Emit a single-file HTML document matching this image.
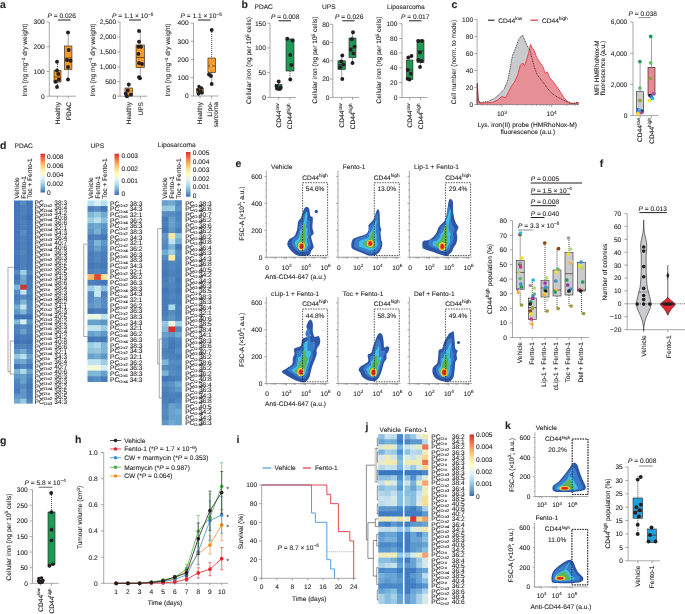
<!DOCTYPE html>
<html><head><meta charset="utf-8"><style>
html,body{margin:0;padding:0;background:#fff;width:685px;height:614px;overflow:hidden}
svg{display:block;will-change:transform}
svg{font-family:"Liberation Sans",sans-serif;font-size:6.6px;fill:#231f20}
text{stroke:#231f20;stroke-width:0.1px;text-rendering:geometricPrecision}
</style></head><body>
<svg width="685" height="614" viewBox="0 0 685 614">
<rect width="685" height="614" fill="#fff"/>
<text x="0" y="8.3" font-size="10.5" font-weight="bold">a</text>
<text x="47.5" y="18"><tspan font-style="italic">P</tspan> = 0.026</text>
<line x1="58" y1="20" x2="70.5" y2="20" stroke="#231f20" stroke-width="1.0"/>
<line x1="49.3" y1="22" x2="49.3" y2="96.2" stroke="#6d6e71" stroke-width="0.6"/>
<line x1="46.5" y1="22" x2="49.3" y2="22" stroke="#6d6e71" stroke-width="0.6"/>
<text x="44.6" y="24.45" text-anchor="end">300</text>
<line x1="46.5" y1="46.75" x2="49.3" y2="46.75" stroke="#6d6e71" stroke-width="0.6"/>
<text x="44.6" y="49.2" text-anchor="end">200</text>
<line x1="46.5" y1="71.5" x2="49.3" y2="71.5" stroke="#6d6e71" stroke-width="0.6"/>
<text x="44.6" y="73.95" text-anchor="end">100</text>
<line x1="46.5" y1="96.2" x2="49.3" y2="96.2" stroke="#6d6e71" stroke-width="0.6"/>
<text x="44.6" y="98.65" text-anchor="end">0</text>
<line x1="49.3" y1="96.2" x2="76" y2="96.2" stroke="#6d6e71" stroke-width="0.6"/>
<line x1="57.5" y1="96.2" x2="57.5" y2="98.6" stroke="#6d6e71" stroke-width="0.6"/>
<line x1="68.2" y1="96.2" x2="68.2" y2="98.6" stroke="#6d6e71" stroke-width="0.6"/>
<line x1="57.5" y1="62" x2="57.5" y2="70.5" stroke="#231f20" stroke-width="0.75" stroke-dasharray="1.1,0.9"/>
<line x1="57.5" y1="82" x2="57.5" y2="87" stroke="#231f20" stroke-width="0.75" stroke-dasharray="1.1,0.9"/>
<rect x="54" y="70.5" width="7" height="11.5" fill="#f39a2c" stroke="#231f20" stroke-width="0.6"/>
<line x1="54" y1="77" x2="61" y2="77" stroke="#231f20" stroke-width="0.6"/>
<circle cx="57" cy="87" r="1.95" fill="#231f20"/>
<circle cx="55.5" cy="81.7" r="1.95" fill="#231f20"/>
<circle cx="58.8" cy="79.5" r="1.95" fill="#231f20"/>
<circle cx="58.3" cy="74" r="1.95" fill="#231f20"/>
<circle cx="57" cy="70.5" r="1.95" fill="#231f20"/>
<circle cx="57" cy="61.7" r="1.95" fill="#231f20"/>
<line x1="68.2" y1="32.5" x2="68.2" y2="46" stroke="#231f20" stroke-width="0.75" stroke-dasharray="1.1,0.9"/>
<line x1="68.2" y1="69.5" x2="68.2" y2="79.5" stroke="#231f20" stroke-width="0.75" stroke-dasharray="1.1,0.9"/>
<rect x="64.45" y="46" width="7.5" height="23.5" fill="#f39a2c" stroke="#231f20" stroke-width="0.6"/>
<line x1="64.45" y1="58" x2="71.95" y2="58" stroke="#231f20" stroke-width="0.6"/>
<circle cx="68" cy="32.5" r="1.95" fill="#231f20"/>
<circle cx="68.7" cy="50" r="1.95" fill="#231f20"/>
<circle cx="67" cy="60" r="1.95" fill="#231f20"/>
<circle cx="70.5" cy="60.7" r="1.95" fill="#231f20"/>
<circle cx="68" cy="67" r="1.95" fill="#231f20"/>
<circle cx="68" cy="79.5" r="1.95" fill="#231f20"/>
<text x="27.3" y="60" text-anchor="middle" transform="rotate(-90 27.3 60)">Iron (ng mg<tspan dy="-2.5" font-size="4.7">−1</tspan><tspan dy="2.5"> dry weight)</tspan></text>
<text x="59.8" y="102" text-anchor="end" transform="rotate(-90 59.8 102)">Healthy</text>
<text x="70.6" y="102" text-anchor="end" transform="rotate(-90 70.6 102)">PDAC</text>
<text x="112" y="18"><tspan font-style="italic">P</tspan> = 1.1 × 10<tspan dy="-2.5" font-size="4.7">−5</tspan></text>
<line x1="129" y1="20" x2="141" y2="20" stroke="#231f20" stroke-width="1.0"/>
<line x1="120" y1="22" x2="120" y2="96.2" stroke="#6d6e71" stroke-width="0.6"/>
<line x1="117.2" y1="22" x2="120" y2="22" stroke="#6d6e71" stroke-width="0.6"/>
<text x="116.2" y="24.45" text-anchor="end">2,500</text>
<line x1="117.2" y1="37" x2="120" y2="37" stroke="#6d6e71" stroke-width="0.6"/>
<text x="116.2" y="39.45" text-anchor="end">2,000</text>
<line x1="117.2" y1="52" x2="120" y2="52" stroke="#6d6e71" stroke-width="0.6"/>
<text x="116.2" y="54.45" text-anchor="end">1,500</text>
<line x1="117.2" y1="67" x2="120" y2="67" stroke="#6d6e71" stroke-width="0.6"/>
<text x="116.2" y="69.45" text-anchor="end">1,000</text>
<line x1="117.2" y1="81.7" x2="120" y2="81.7" stroke="#6d6e71" stroke-width="0.6"/>
<text x="116.2" y="84.15" text-anchor="end">500</text>
<line x1="117.2" y1="96.2" x2="120" y2="96.2" stroke="#6d6e71" stroke-width="0.6"/>
<text x="116.2" y="98.65" text-anchor="end">0</text>
<line x1="120" y1="96.2" x2="147" y2="96.2" stroke="#6d6e71" stroke-width="0.6"/>
<line x1="128.7" y1="96.2" x2="128.7" y2="98.6" stroke="#6d6e71" stroke-width="0.6"/>
<line x1="140.3" y1="96.2" x2="140.3" y2="98.6" stroke="#6d6e71" stroke-width="0.6"/>
<line x1="128.7" y1="84" x2="128.7" y2="88" stroke="#231f20" stroke-width="0.75" stroke-dasharray="1.1,0.9"/>
<line x1="128.7" y1="96" x2="128.7" y2="96" stroke="#231f20" stroke-width="0.75" stroke-dasharray="1.1,0.9"/>
<rect x="124.95" y="88" width="7.5" height="8" fill="#f39a2c" stroke="#231f20" stroke-width="0.6"/>
<circle cx="128.8" cy="84.4" r="1.95" fill="#231f20"/>
<circle cx="127.8" cy="90.5" r="1.95" fill="#231f20"/>
<circle cx="125.7" cy="93.6" r="1.95" fill="#231f20"/>
<circle cx="130.8" cy="94.6" r="1.95" fill="#231f20"/>
<circle cx="126.8" cy="96.2" r="1.95" fill="#231f20"/>
<line x1="140.3" y1="30.5" x2="140.3" y2="45" stroke="#231f20" stroke-width="0.75" stroke-dasharray="1.1,0.9"/>
<line x1="140.3" y1="67.5" x2="140.3" y2="79" stroke="#231f20" stroke-width="0.75" stroke-dasharray="1.1,0.9"/>
<rect x="136.05" y="45" width="8.5" height="22.5" fill="#f39a2c" stroke="#231f20" stroke-width="0.6"/>
<line x1="136.05" y1="57.5" x2="144.55" y2="57.5" stroke="#231f20" stroke-width="0.6"/>
<circle cx="139" cy="31" r="1.95" fill="#231f20"/>
<circle cx="139" cy="41.7" r="1.95" fill="#231f20"/>
<circle cx="138.4" cy="46.8" r="1.95" fill="#231f20"/>
<circle cx="141" cy="46.8" r="1.95" fill="#231f20"/>
<circle cx="138.4" cy="53.9" r="1.95" fill="#231f20"/>
<circle cx="139" cy="63" r="1.95" fill="#231f20"/>
<circle cx="142" cy="64" r="1.95" fill="#231f20"/>
<circle cx="139" cy="77.3" r="1.95" fill="#231f20"/>
<circle cx="140" cy="78.3" r="1.95" fill="#231f20"/>
<text x="94.6" y="60" text-anchor="middle" transform="rotate(-90 94.6 60)">Iron (ng mg<tspan dy="-2.5" font-size="4.7">−1</tspan><tspan dy="2.5"> dry weight)</tspan></text>
<text x="130.9" y="102" text-anchor="end" transform="rotate(-90 130.9 102)">Healthy</text>
<text x="142.6" y="102" text-anchor="end" transform="rotate(-90 142.6 102)">UPS</text>
<text x="180.5" y="18"><tspan font-style="italic">P</tspan> = 1.1 × 10<tspan dy="-2.5" font-size="4.7">−5</tspan></text>
<line x1="198" y1="20" x2="210.5" y2="20" stroke="#231f20" stroke-width="1.0"/>
<line x1="193.5" y1="23" x2="193.5" y2="96" stroke="#6d6e71" stroke-width="0.6"/>
<line x1="190.7" y1="23" x2="193.5" y2="23" stroke="#6d6e71" stroke-width="0.6"/>
<text x="188.6" y="25.45" text-anchor="end">400</text>
<line x1="190.7" y1="41.2" x2="193.5" y2="41.2" stroke="#6d6e71" stroke-width="0.6"/>
<text x="188.6" y="43.65" text-anchor="end">300</text>
<line x1="190.7" y1="59.5" x2="193.5" y2="59.5" stroke="#6d6e71" stroke-width="0.6"/>
<text x="188.6" y="61.95" text-anchor="end">200</text>
<line x1="190.7" y1="77.7" x2="193.5" y2="77.7" stroke="#6d6e71" stroke-width="0.6"/>
<text x="188.6" y="80.15" text-anchor="end">100</text>
<line x1="190.7" y1="96" x2="193.5" y2="96" stroke="#6d6e71" stroke-width="0.6"/>
<text x="188.6" y="98.45" text-anchor="end">0</text>
<line x1="193.5" y1="96" x2="218.5" y2="96" stroke="#6d6e71" stroke-width="0.6"/>
<line x1="200" y1="96" x2="200" y2="98.4" stroke="#6d6e71" stroke-width="0.6"/>
<line x1="211.7" y1="96" x2="211.7" y2="98.4" stroke="#6d6e71" stroke-width="0.6"/>
<line x1="200" y1="86" x2="200" y2="88.5" stroke="#231f20" stroke-width="0.75" stroke-dasharray="1.1,0.9"/>
<line x1="200" y1="93.5" x2="200" y2="94.5" stroke="#231f20" stroke-width="0.75" stroke-dasharray="1.1,0.9"/>
<rect x="196.75" y="88.5" width="6.5" height="5" fill="#f39a2c" stroke="#231f20" stroke-width="0.6"/>
<circle cx="199" cy="86.5" r="1.7" fill="#231f20"/>
<circle cx="201.5" cy="88" r="1.7" fill="#231f20"/>
<circle cx="198" cy="90" r="1.7" fill="#231f20"/>
<circle cx="201" cy="91" r="1.7" fill="#231f20"/>
<circle cx="199.5" cy="92.5" r="1.7" fill="#231f20"/>
<circle cx="202" cy="93" r="1.7" fill="#231f20"/>
<circle cx="198.5" cy="94" r="1.7" fill="#231f20"/>
<line x1="211.7" y1="30" x2="211.7" y2="58" stroke="#231f20" stroke-width="0.75" stroke-dasharray="1.1,0.9"/>
<line x1="211.7" y1="72.5" x2="211.7" y2="84" stroke="#231f20" stroke-width="0.75" stroke-dasharray="1.1,0.9"/>
<rect x="207.95" y="58" width="7.5" height="14.5" fill="#f39a2c" stroke="#231f20" stroke-width="0.6"/>
<line x1="207.95" y1="66" x2="215.45" y2="66" stroke="#231f20" stroke-width="0.6"/>
<circle cx="211.7" cy="30" r="1.95" fill="#231f20"/>
<circle cx="211" cy="76" r="1.95" fill="#231f20"/>
<circle cx="211.7" cy="84" r="1.95" fill="#231f20"/>
<circle cx="209" cy="74.5" r="1.95" fill="#231f20"/>
<circle cx="210" cy="60" r="1.2" fill="#f7a841"/>
<circle cx="213" cy="63" r="1.2" fill="#f7a841"/>
<circle cx="211" cy="66" r="1.2" fill="#f7a841"/>
<circle cx="213.5" cy="68.5" r="1.2" fill="#f7a841"/>
<circle cx="209.5" cy="70" r="1.2" fill="#f7a841"/>
<text x="170.2" y="60" text-anchor="middle" transform="rotate(-90 170.2 60)">Iron (ng mg<tspan dy="-2.5" font-size="4.7">−1</tspan><tspan dy="2.5"> dry weight)</tspan></text>
<text x="202.2" y="102" text-anchor="end" transform="rotate(-90 202.2 102)">Healthy</text>
<text x="211.5" y="102" text-anchor="end" transform="rotate(-90 211.5 102)">Lipo-</text>
<text x="217.8" y="102" text-anchor="end" transform="rotate(-90 217.8 102)">sarcoma</text>
<text x="241.5" y="8.3" font-size="10.5" font-weight="bold">b</text>
<text x="254.5" y="9">PDAC</text>
<text x="271" y="19"><tspan font-style="italic">P</tspan> = 0.008</text>
<line x1="278.5" y1="20.8" x2="291" y2="20.8" stroke="#231f20" stroke-width="1.0"/>
<line x1="270" y1="23.2" x2="270" y2="97.5" stroke="#6d6e71" stroke-width="0.6"/>
<line x1="267.2" y1="23.2" x2="270" y2="23.2" stroke="#6d6e71" stroke-width="0.6"/>
<text x="265.9" y="25.65" text-anchor="end">150</text>
<line x1="267.2" y1="48" x2="270" y2="48" stroke="#6d6e71" stroke-width="0.6"/>
<text x="265.9" y="50.45" text-anchor="end">100</text>
<line x1="267.2" y1="72.7" x2="270" y2="72.7" stroke="#6d6e71" stroke-width="0.6"/>
<text x="265.9" y="75.15" text-anchor="end">50</text>
<line x1="267.2" y1="97.5" x2="270" y2="97.5" stroke="#6d6e71" stroke-width="0.6"/>
<text x="265.9" y="99.95" text-anchor="end">0</text>
<line x1="270" y1="97.5" x2="296" y2="97.5" stroke="#6d6e71" stroke-width="0.6"/>
<line x1="278.7" y1="97.5" x2="278.7" y2="99.9" stroke="#6d6e71" stroke-width="0.6"/>
<line x1="290" y1="97.5" x2="290" y2="99.9" stroke="#6d6e71" stroke-width="0.6"/>
<line x1="278.7" y1="81" x2="278.7" y2="84.5" stroke="#231f20" stroke-width="0.75" stroke-dasharray="1.1,0.9"/>
<line x1="278.7" y1="89.5" x2="278.7" y2="89.5" stroke="#231f20" stroke-width="0.75" stroke-dasharray="1.1,0.9"/>
<rect x="275.45" y="84.5" width="6.5" height="5" fill="#1e9a55" stroke="#231f20" stroke-width="0.6"/>
<circle cx="278.7" cy="81.5" r="1.95" fill="#231f20"/>
<circle cx="276.5" cy="86" r="1.95" fill="#231f20"/>
<circle cx="280.5" cy="87.5" r="1.95" fill="#231f20"/>
<circle cx="277.5" cy="88.7" r="1.95" fill="#231f20"/>
<circle cx="279.7" cy="89" r="1.95" fill="#231f20"/>
<line x1="290" y1="38.7" x2="290" y2="39" stroke="#231f20" stroke-width="0.75" stroke-dasharray="1.1,0.9"/>
<line x1="290" y1="71" x2="290" y2="79.5" stroke="#231f20" stroke-width="0.75" stroke-dasharray="1.1,0.9"/>
<rect x="286" y="39" width="8" height="32" fill="#1e9a55" stroke="#231f20" stroke-width="0.6"/>
<circle cx="287.3" cy="38.7" r="1.95" fill="#231f20"/>
<circle cx="292.5" cy="40.5" r="1.95" fill="#231f20"/>
<circle cx="290.3" cy="55" r="1.95" fill="#231f20"/>
<circle cx="291.3" cy="65" r="1.95" fill="#231f20"/>
<circle cx="290.3" cy="79.5" r="1.95" fill="#231f20"/>
<text x="251.3" y="60.5" text-anchor="middle" transform="rotate(-90 251.3 60.5)">Cellular iron (ng per 10<tspan dy="-2.5" font-size="4.7">5</tspan><tspan dy="2.5"> cells)</tspan></text>
<text x="281" y="103.5" text-anchor="end" transform="rotate(-90 281 103.5)">CD44<tspan dy="-2.5" font-size="4.7">low</tspan></text>
<text x="292.3" y="103.5" text-anchor="end" transform="rotate(-90 292.3 103.5)">CD44<tspan dy="-2.5" font-size="4.7">high</tspan></text>
<text x="322" y="9">UPS</text>
<text x="335" y="18.8"><tspan font-style="italic">P</tspan> = 0.026</text>
<line x1="342.3" y1="20.8" x2="354.6" y2="20.8" stroke="#231f20" stroke-width="1.0"/>
<line x1="332.8" y1="24.3" x2="332.8" y2="97.4" stroke="#6d6e71" stroke-width="0.6"/>
<line x1="330" y1="24.3" x2="332.8" y2="24.3" stroke="#6d6e71" stroke-width="0.6"/>
<text x="329.5" y="26.75" text-anchor="end">80</text>
<line x1="330" y1="42.5" x2="332.8" y2="42.5" stroke="#6d6e71" stroke-width="0.6"/>
<text x="329.5" y="44.95" text-anchor="end">60</text>
<line x1="330" y1="60.8" x2="332.8" y2="60.8" stroke="#6d6e71" stroke-width="0.6"/>
<text x="329.5" y="63.25" text-anchor="end">40</text>
<line x1="330" y1="79" x2="332.8" y2="79" stroke="#6d6e71" stroke-width="0.6"/>
<text x="329.5" y="81.45" text-anchor="end">20</text>
<line x1="330" y1="97.4" x2="332.8" y2="97.4" stroke="#6d6e71" stroke-width="0.6"/>
<text x="329.5" y="99.85" text-anchor="end">0</text>
<line x1="332.8" y1="97.4" x2="359.3" y2="97.4" stroke="#6d6e71" stroke-width="0.6"/>
<line x1="341.7" y1="97.4" x2="341.7" y2="99.8" stroke="#6d6e71" stroke-width="0.6"/>
<line x1="352.5" y1="97.4" x2="352.5" y2="99.8" stroke="#6d6e71" stroke-width="0.6"/>
<line x1="341.7" y1="55.5" x2="341.7" y2="60.8" stroke="#231f20" stroke-width="0.75" stroke-dasharray="1.1,0.9"/>
<line x1="341.7" y1="69.4" x2="341.7" y2="79" stroke="#231f20" stroke-width="0.75" stroke-dasharray="1.1,0.9"/>
<rect x="337.95" y="60.8" width="7.5" height="8.6" fill="#1e9a55" stroke="#231f20" stroke-width="0.6"/>
<line x1="337.95" y1="64.5" x2="345.45" y2="64.5" stroke="#231f20" stroke-width="0.6"/>
<circle cx="342.3" cy="55.5" r="1.95" fill="#231f20"/>
<circle cx="341.3" cy="61.4" r="1.95" fill="#231f20"/>
<circle cx="343.4" cy="64.6" r="1.95" fill="#231f20"/>
<circle cx="340.2" cy="67.3" r="1.95" fill="#231f20"/>
<circle cx="342.3" cy="79" r="1.95" fill="#231f20"/>
<line x1="352.5" y1="32.2" x2="352.5" y2="38" stroke="#231f20" stroke-width="0.75" stroke-dasharray="1.1,0.9"/>
<line x1="352.5" y1="57.6" x2="352.5" y2="63" stroke="#231f20" stroke-width="0.75" stroke-dasharray="1.1,0.9"/>
<rect x="349" y="38" width="7" height="19.6" fill="#1e9a55" stroke="#231f20" stroke-width="0.6"/>
<line x1="349" y1="48" x2="356" y2="48" stroke="#231f20" stroke-width="0.6"/>
<circle cx="353" cy="32.2" r="1.95" fill="#231f20"/>
<circle cx="351.9" cy="39.2" r="1.95" fill="#231f20"/>
<circle cx="354.6" cy="46.6" r="1.95" fill="#231f20"/>
<circle cx="350.8" cy="49.8" r="1.95" fill="#231f20"/>
<circle cx="353.4" cy="53.4" r="1.95" fill="#231f20"/>
<circle cx="352.5" cy="63" r="1.95" fill="#231f20"/>
<text x="317.2" y="60" text-anchor="middle" transform="rotate(-90 317.2 60)">Cellular iron (ng per 10<tspan dy="-2.5" font-size="4.7">5</tspan><tspan dy="2.5"> cells)</tspan></text>
<text x="344" y="103.5" text-anchor="end" transform="rotate(-90 344 103.5)">CD44<tspan dy="-2.5" font-size="4.7">low</tspan></text>
<text x="354.8" y="103.5" text-anchor="end" transform="rotate(-90 354.8 103.5)">CD44<tspan dy="-2.5" font-size="4.7">high</tspan></text>
<text x="387" y="9.3">Liposarcoma</text>
<text x="401" y="19"><tspan font-style="italic">P</tspan> = 0.017</text>
<line x1="409" y1="20.8" x2="421.5" y2="20.8" stroke="#231f20" stroke-width="1.0"/>
<line x1="402" y1="23.7" x2="402" y2="97.5" stroke="#6d6e71" stroke-width="0.6"/>
<line x1="399.2" y1="23.7" x2="402" y2="23.7" stroke="#6d6e71" stroke-width="0.6"/>
<text x="397.4" y="26.15" text-anchor="end">100</text>
<line x1="399.2" y1="38.5" x2="402" y2="38.5" stroke="#6d6e71" stroke-width="0.6"/>
<text x="397.4" y="40.95" text-anchor="end">80</text>
<line x1="399.2" y1="53" x2="402" y2="53" stroke="#6d6e71" stroke-width="0.6"/>
<text x="397.4" y="55.45" text-anchor="end">60</text>
<line x1="399.2" y1="67.7" x2="402" y2="67.7" stroke="#6d6e71" stroke-width="0.6"/>
<text x="397.4" y="70.15" text-anchor="end">40</text>
<line x1="399.2" y1="82.5" x2="402" y2="82.5" stroke="#6d6e71" stroke-width="0.6"/>
<text x="397.4" y="84.95" text-anchor="end">20</text>
<line x1="399.2" y1="97.5" x2="402" y2="97.5" stroke="#6d6e71" stroke-width="0.6"/>
<text x="397.4" y="99.95" text-anchor="end">0</text>
<line x1="402" y1="97.5" x2="427.5" y2="97.5" stroke="#6d6e71" stroke-width="0.6"/>
<line x1="409.7" y1="97.5" x2="409.7" y2="99.9" stroke="#6d6e71" stroke-width="0.6"/>
<line x1="420.5" y1="97.5" x2="420.5" y2="99.9" stroke="#6d6e71" stroke-width="0.6"/>
<line x1="409.7" y1="56" x2="409.7" y2="60" stroke="#231f20" stroke-width="0.75" stroke-dasharray="1.1,0.9"/>
<line x1="409.7" y1="79.5" x2="409.7" y2="79.5" stroke="#231f20" stroke-width="0.75" stroke-dasharray="1.1,0.9"/>
<rect x="406.45" y="60" width="6.5" height="19.5" fill="#1e9a55" stroke="#231f20" stroke-width="0.6"/>
<line x1="406.45" y1="70" x2="412.95" y2="70" stroke="#231f20" stroke-width="0.6"/>
<circle cx="408.3" cy="57.5" r="1.95" fill="#231f20"/>
<circle cx="411.5" cy="56" r="1.95" fill="#231f20"/>
<circle cx="407.7" cy="70" r="1.95" fill="#231f20"/>
<circle cx="410.8" cy="73.7" r="1.95" fill="#231f20"/>
<circle cx="409.5" cy="79.5" r="1.95" fill="#231f20"/>
<circle cx="407.7" cy="78.7" r="1.95" fill="#231f20"/>
<line x1="420.5" y1="40" x2="420.5" y2="40" stroke="#231f20" stroke-width="0.75" stroke-dasharray="1.1,0.9"/>
<line x1="420.5" y1="62.5" x2="420.5" y2="67" stroke="#231f20" stroke-width="0.75" stroke-dasharray="1.1,0.9"/>
<rect x="417" y="40" width="7" height="22.5" fill="#1e9a55" stroke="#231f20" stroke-width="0.6"/>
<line x1="417" y1="51" x2="424" y2="51" stroke="#231f20" stroke-width="0.6"/>
<circle cx="418.3" cy="41" r="1.95" fill="#231f20"/>
<circle cx="422" cy="41" r="1.95" fill="#231f20"/>
<circle cx="420" cy="52.5" r="1.95" fill="#231f20"/>
<circle cx="418.3" cy="60" r="1.95" fill="#231f20"/>
<circle cx="421.5" cy="61" r="1.95" fill="#231f20"/>
<circle cx="420" cy="67" r="1.95" fill="#231f20"/>
<text x="381.4" y="60" text-anchor="middle" transform="rotate(-90 381.4 60)">Cellular iron (ng per 10<tspan dy="-2.5" font-size="4.7">5</tspan><tspan dy="2.5"> cells)</tspan></text>
<text x="412" y="103.5" text-anchor="end" transform="rotate(-90 412 103.5)">CD44<tspan dy="-2.5" font-size="4.7">low</tspan></text>
<text x="422.8" y="103.5" text-anchor="end" transform="rotate(-90 422.8 103.5)">CD44<tspan dy="-2.5" font-size="4.7">high</tspan></text>
<text x="451.5" y="8.3" font-size="10.5" font-weight="bold">c</text>
<path d="M477.1,104.64 L477.31,83.05 L478.16,98.93 L479.64,102.53 L488.11,101.47 L495.52,97.87 L499.76,93.63 L503.99,89.4 L507.59,80.93 L510.34,67.17 L512.46,55.52 L515.64,48.11 L518.81,39.22 L520.93,36.47 L522.41,34.98 L524.11,38.58 L525.8,42.82 L527.92,47.05 L530.03,50.23 L532.15,58.7 L534.27,67.17 L537.23,74.58 L541.04,79.87 L544.22,83.68 L547.4,88.34 L551.63,93 L556.92,96.81 L563.28,99.99 L569.63,103.16 L574.92,103.16 L578.1,102.53 L578.1,104.64 Z" fill="#c9cbce"/>
<path d="M477.1,104.64 L477.31,84.11 L478.16,99.99 L479.64,103.16 L492.35,102.53 L497.64,99.99 L501.87,96.39 L505.47,97.87 L508.23,92.57 L511.4,86.22 L514.58,81.99 L517.75,74.58 L520.29,65.47 L522.41,62.93 L524.53,65.47 L526.65,59.76 L528.76,52.35 L530.46,44.3 L532.15,47.69 L534.27,50.65 L536.81,57.64 L539.99,62.51 L543.16,67.17 L545.28,73.52 L547.4,71.83 L549.51,77.33 L551.63,79.87 L554.17,83.05 L556.92,86.65 L560.1,91.52 L563.28,96.81 L566.87,101.04 L571.74,103.58 L575.98,103.16 L578.1,102.31 L578.1,104.64 Z" fill="#e98a91" fill-opacity="0.92"/>
<path d="M477.1,104.64 L477.31,84.11 L478.16,99.99 L479.64,103.16 L492.35,102.53 L497.64,99.99 L501.87,96.39 L505.47,97.87 L508.23,92.57 L511.4,86.22 L514.58,81.99 L517.75,74.58 L520.29,65.47 L522.41,62.93 L524.53,65.47 L526.65,59.76 L528.76,52.35 L530.46,44.3 L532.15,47.69 L534.27,50.65 L536.81,57.64 L539.99,62.51 L543.16,67.17 L545.28,73.52 L547.4,71.83 L549.51,77.33 L551.63,79.87 L554.17,83.05 L556.92,86.65 L560.1,91.52 L563.28,96.81 L566.87,101.04 L571.74,103.58 L575.98,103.16 L578.1,102.31 L578.1,104.64" fill="none" stroke="#e5252f" stroke-width="0.75"/>
<path d="M477.1,104.64 L477.31,83.05 L478.16,98.93 L479.64,102.53 L488.11,101.47 L495.52,97.87 L499.76,93.63 L503.99,89.4 L507.59,80.93 L510.34,67.17 L512.46,55.52 L515.64,48.11 L518.81,39.22 L520.93,36.47 L522.41,34.98 L524.11,38.58 L525.8,42.82 L527.92,47.05 L530.03,50.23 L532.15,58.7 L534.27,67.17 L537.23,74.58 L541.04,79.87 L544.22,83.68 L547.4,88.34 L551.63,93 L556.92,96.81 L563.28,99.99 L569.63,103.16 L574.92,103.16 L578.1,102.53 L578.1,104.64" fill="none" stroke="#231f20" stroke-width="0.85" stroke-dasharray="1,0.8"/>
<line x1="477.1" y1="19.5" x2="477.1" y2="104.6" stroke="#6d6e71" stroke-width="0.6"/>
<line x1="474.3" y1="19.5" x2="477.1" y2="19.5" stroke="#6d6e71" stroke-width="0.6"/>
<text x="473.1" y="21.95" text-anchor="end">100</text>
<line x1="474.3" y1="36.5" x2="477.1" y2="36.5" stroke="#6d6e71" stroke-width="0.6"/>
<text x="473.1" y="38.95" text-anchor="end">80</text>
<line x1="474.3" y1="53.5" x2="477.1" y2="53.5" stroke="#6d6e71" stroke-width="0.6"/>
<text x="473.1" y="55.95" text-anchor="end">60</text>
<line x1="474.3" y1="70.6" x2="477.1" y2="70.6" stroke="#6d6e71" stroke-width="0.6"/>
<text x="473.1" y="73.05" text-anchor="end">40</text>
<line x1="474.3" y1="87.6" x2="477.1" y2="87.6" stroke="#6d6e71" stroke-width="0.6"/>
<text x="473.1" y="90.05" text-anchor="end">20</text>
<line x1="474.3" y1="104.6" x2="477.1" y2="104.6" stroke="#6d6e71" stroke-width="0.6"/>
<text x="473.1" y="107.05" text-anchor="end">0</text>
<line x1="477.1" y1="104.6" x2="578.1" y2="104.6" stroke="#6d6e71" stroke-width="0.6"/>
<line x1="482.12" y1="104.6" x2="482.12" y2="105.8" stroke="#6d6e71" stroke-width="0.6"/>
<line x1="486.94" y1="104.6" x2="486.94" y2="105.8" stroke="#6d6e71" stroke-width="0.6"/>
<line x1="490.87" y1="104.6" x2="490.87" y2="105.8" stroke="#6d6e71" stroke-width="0.6"/>
<line x1="494.2" y1="104.6" x2="494.2" y2="105.8" stroke="#6d6e71" stroke-width="0.6"/>
<line x1="497.08" y1="104.6" x2="497.08" y2="105.8" stroke="#6d6e71" stroke-width="0.6"/>
<line x1="499.63" y1="104.6" x2="499.63" y2="105.8" stroke="#6d6e71" stroke-width="0.6"/>
<line x1="501.9" y1="104.6" x2="501.9" y2="106.8" stroke="#6d6e71" stroke-width="0.6"/>
<line x1="516.86" y1="104.6" x2="516.86" y2="105.8" stroke="#6d6e71" stroke-width="0.6"/>
<line x1="525.61" y1="104.6" x2="525.61" y2="105.8" stroke="#6d6e71" stroke-width="0.6"/>
<line x1="531.82" y1="104.6" x2="531.82" y2="105.8" stroke="#6d6e71" stroke-width="0.6"/>
<line x1="536.64" y1="104.6" x2="536.64" y2="105.8" stroke="#6d6e71" stroke-width="0.6"/>
<line x1="540.57" y1="104.6" x2="540.57" y2="105.8" stroke="#6d6e71" stroke-width="0.6"/>
<line x1="543.9" y1="104.6" x2="543.9" y2="105.8" stroke="#6d6e71" stroke-width="0.6"/>
<line x1="546.78" y1="104.6" x2="546.78" y2="105.8" stroke="#6d6e71" stroke-width="0.6"/>
<line x1="549.33" y1="104.6" x2="549.33" y2="105.8" stroke="#6d6e71" stroke-width="0.6"/>
<line x1="551.6" y1="104.6" x2="551.6" y2="106.8" stroke="#6d6e71" stroke-width="0.6"/>
<line x1="566.56" y1="104.6" x2="566.56" y2="105.8" stroke="#6d6e71" stroke-width="0.6"/>
<line x1="575.31" y1="104.6" x2="575.31" y2="105.8" stroke="#6d6e71" stroke-width="0.6"/>
<text x="501.9" y="116" text-anchor="middle">10<tspan dy="-2.5" font-size="4.7">3</tspan></text>
<text x="551.6" y="116" text-anchor="middle">10<tspan dy="-2.5" font-size="4.7">4</tspan></text>
<text x="456.4" y="62" text-anchor="middle" transform="rotate(-90 456.4 62)">Cell number (norm. to mode)</text>
<text x="527.3" y="127" text-anchor="middle">Lys. iron(II) probe (HMRhoNox-M)</text>
<text x="527.8" y="133.6" text-anchor="middle">fluorescence (a.u.)</text>
<line x1="488" y1="20.2" x2="494.5" y2="20.2" stroke="#231f20" stroke-width="1.1"/>
<text x="498.3" y="22.6">CD44<tspan dy="-2.5" font-size="4.7">low</tspan></text>
<line x1="530.5" y1="20.2" x2="538" y2="20.2" stroke="#e5252f" stroke-width="1.1"/>
<text x="542" y="22.6">CD44<tspan dy="-2.5" font-size="4.7">high</tspan></text>
<text x="628.6" y="15.6"><tspan font-style="italic">P</tspan> = 0.038</text>
<line x1="638.6" y1="17.6" x2="651" y2="17.6" stroke="#6d6e71" stroke-width="0.8"/>
<line x1="633" y1="22" x2="633" y2="115.6" stroke="#6d6e71" stroke-width="0.6"/>
<line x1="630.2" y1="22" x2="633" y2="22" stroke="#6d6e71" stroke-width="0.6"/>
<text x="627.3" y="24.45" text-anchor="end">6,000</text>
<line x1="630.2" y1="53.3" x2="633" y2="53.3" stroke="#6d6e71" stroke-width="0.6"/>
<text x="627.3" y="55.75" text-anchor="end">4,000</text>
<line x1="630.2" y1="84.4" x2="633" y2="84.4" stroke="#6d6e71" stroke-width="0.6"/>
<text x="627.3" y="86.85" text-anchor="end">2,000</text>
<line x1="630.2" y1="115.6" x2="633" y2="115.6" stroke="#6d6e71" stroke-width="0.6"/>
<text x="627.3" y="118.05" text-anchor="end">0</text>
<line x1="633" y1="115.6" x2="658.7" y2="115.6" stroke="#6d6e71" stroke-width="0.6"/>
<line x1="640.1" y1="115.6" x2="640.1" y2="118" stroke="#6d6e71" stroke-width="0.6"/>
<line x1="651.5" y1="115.6" x2="651.5" y2="118" stroke="#6d6e71" stroke-width="0.6"/>
<line x1="640.1" y1="61.5" x2="640.1" y2="91.7" stroke="#231f20" stroke-width="0.75" stroke-dasharray="1.1,0.9"/>
<line x1="640.1" y1="113" x2="640.1" y2="113" stroke="#231f20" stroke-width="0.75" stroke-dasharray="1.1,0.9"/>
<rect x="636.6" y="91.7" width="7" height="21.3" fill="#c9cbce" stroke="#231f20" stroke-width="0.6"/>
<line x1="651.5" y1="36.4" x2="651.5" y2="67.3" stroke="#231f20" stroke-width="0.75" stroke-dasharray="1.1,0.9"/>
<line x1="651.5" y1="95" x2="651.5" y2="95" stroke="#231f20" stroke-width="0.75" stroke-dasharray="1.1,0.9"/>
<rect x="648" y="67.3" width="7" height="27.7" fill="#e98a91" stroke="#231f20" stroke-width="0.6"/>
<circle cx="639.9" cy="61.6" r="1.85" fill="#1e9a55"/>
<circle cx="639.9" cy="88" r="1.85" fill="#66bb6a"/>
<circle cx="639.9" cy="100.5" r="1.85" fill="#9c9c3c"/>
<circle cx="641.5" cy="111" r="1.85" fill="#231f20"/>
<circle cx="637.9" cy="109.8" r="1.85" fill="#3b5bc8"/>
<circle cx="639.5" cy="110" r="1.85" fill="#29b6e8"/>
<circle cx="641.1" cy="112.6" r="1.85" fill="#9b4fb0"/>
<circle cx="637.9" cy="113.6" r="1.85" fill="#f2e21c"/>
<circle cx="650.7" cy="36.4" r="1.85" fill="#1e9a55"/>
<circle cx="650.7" cy="62.8" r="1.85" fill="#66bb6a"/>
<circle cx="650.7" cy="78.4" r="1.85" fill="#9c9c3c"/>
<circle cx="650" cy="95.5" r="1.85" fill="#231f20"/>
<circle cx="651.2" cy="96.7" r="1.85" fill="#3b5bc8"/>
<circle cx="653.7" cy="93.5" r="1.85" fill="#9b4fb0"/>
<circle cx="652.5" cy="98.5" r="1.85" fill="#29b6e8"/>
<circle cx="649.2" cy="100.5" r="1.85" fill="#f2e21c"/>
<text x="598.6" y="68" text-anchor="middle" transform="rotate(-90 598.6 68)">MFI HMRhoNox-M</text>
<text x="604.8" y="68" text-anchor="middle" transform="rotate(-90 604.8 68)">fluorescence (a.u.)</text>
<text x="642.4" y="118" text-anchor="end" transform="rotate(-90 642.4 118)">CD44<tspan dy="-2.5" font-size="4.7">low</tspan></text>
<text x="653.8" y="118" text-anchor="end" transform="rotate(-90 653.8 118)">CD44<tspan dy="-2.5" font-size="4.7">high</tspan></text>
<text x="0" y="148.6" font-size="10.5" font-weight="bold">d</text>
<text x="14.5" y="147.6">PDAC</text>
<text x="90.5" y="147.6">UPS</text>
<text x="157.8" y="147.4">Liposarcoma</text>
<defs><linearGradient id="cb40" x1="0" y1="1" x2="0" y2="0"><stop offset="0" stop-color="#3c6cb2"/><stop offset="0.125" stop-color="#74add1"/><stop offset="0.25" stop-color="#abd9e9"/><stop offset="0.375" stop-color="#e0f3f8"/><stop offset="0.5" stop-color="#ffffbf"/><stop offset="0.625" stop-color="#fee090"/><stop offset="0.75" stop-color="#fdae61"/><stop offset="0.875" stop-color="#f46d43"/><stop offset="1.0" stop-color="#d73027"/></linearGradient></defs>
<rect x="40.5" y="153.7" width="4.5" height="38.8" fill="url(#cb40)"/>
<text x="47" y="159.3">0.008</text>
<text x="47" y="168">0.006</text>
<text x="47" y="176.8">0.004</text>
<text x="47" y="186">0.002</text>
<text x="47" y="194.8">0</text>
<text x="19.5" y="198.7" transform="rotate(-90 19.5 198.7)">Vehicle</text>
<text x="25.77" y="198.7" transform="rotate(-90 25.77 198.7)">Fento-1</text>
<text x="32.04" y="198.7" transform="rotate(-90 32.04 198.7)">Toc + Fento-1</text>
<rect x="14" y="200.5" width="6.87" height="5.55" fill="#4576b7"/>
<rect x="20.27" y="200.5" width="6.87" height="5.55" fill="#578bc1"/>
<rect x="26.54" y="200.5" width="6.27" height="5.55" fill="#4576b7"/>
<rect x="14" y="205.45" width="6.87" height="5.55" fill="#4576b7"/>
<rect x="20.27" y="205.45" width="6.87" height="5.55" fill="#4e81bc"/>
<rect x="26.54" y="205.45" width="6.27" height="5.55" fill="#4576b7"/>
<rect x="14" y="210.41" width="6.87" height="5.55" fill="#4576b7"/>
<rect x="20.27" y="210.41" width="6.87" height="5.55" fill="#4e81bc"/>
<rect x="26.54" y="210.41" width="6.27" height="5.55" fill="#4576b7"/>
<rect x="14" y="215.36" width="6.87" height="5.55" fill="#4576b7"/>
<rect x="20.27" y="215.36" width="6.87" height="5.55" fill="#497cb9"/>
<rect x="26.54" y="215.36" width="6.27" height="5.55" fill="#4071b4"/>
<rect x="14" y="220.31" width="6.87" height="5.55" fill="#4576b7"/>
<rect x="20.27" y="220.31" width="6.87" height="5.55" fill="#4e81bc"/>
<rect x="26.54" y="220.31" width="6.27" height="5.55" fill="#4576b7"/>
<rect x="14" y="225.27" width="6.87" height="5.55" fill="#4576b7"/>
<rect x="20.27" y="225.27" width="6.87" height="5.55" fill="#4e81bc"/>
<rect x="26.54" y="225.27" width="6.27" height="5.55" fill="#4576b7"/>
<rect x="14" y="230.22" width="6.87" height="5.55" fill="#4576b7"/>
<rect x="20.27" y="230.22" width="6.87" height="5.55" fill="#578bc1"/>
<rect x="26.54" y="230.22" width="6.27" height="5.55" fill="#4576b7"/>
<rect x="14" y="235.18" width="6.87" height="5.55" fill="#4576b7"/>
<rect x="20.27" y="235.18" width="6.87" height="5.55" fill="#4e81bc"/>
<rect x="26.54" y="235.18" width="6.27" height="5.55" fill="#4576b7"/>
<rect x="14" y="240.13" width="6.87" height="5.55" fill="#4576b7"/>
<rect x="20.27" y="240.13" width="6.87" height="5.55" fill="#4e81bc"/>
<rect x="26.54" y="240.13" width="6.27" height="5.55" fill="#4576b7"/>
<rect x="14" y="245.08" width="6.87" height="5.55" fill="#4576b7"/>
<rect x="20.27" y="245.08" width="6.87" height="5.55" fill="#4e81bc"/>
<rect x="26.54" y="245.08" width="6.27" height="5.55" fill="#4576b7"/>
<rect x="14" y="250.04" width="6.87" height="5.55" fill="#497cb9"/>
<rect x="20.27" y="250.04" width="6.87" height="5.55" fill="#5286be"/>
<rect x="26.54" y="250.04" width="6.27" height="5.55" fill="#4576b7"/>
<rect x="14" y="254.99" width="6.87" height="5.55" fill="#4576b7"/>
<rect x="20.27" y="254.99" width="6.87" height="5.55" fill="#4e81bc"/>
<rect x="26.54" y="254.99" width="6.27" height="5.55" fill="#4576b7"/>
<rect x="14" y="259.94" width="6.87" height="5.55" fill="#4576b7"/>
<rect x="20.27" y="259.94" width="6.87" height="5.55" fill="#4e81bc"/>
<rect x="26.54" y="259.94" width="6.27" height="5.55" fill="#4576b7"/>
<rect x="14" y="264.9" width="6.87" height="5.55" fill="#4576b7"/>
<rect x="20.27" y="264.9" width="6.87" height="5.55" fill="#4e81bc"/>
<rect x="26.54" y="264.9" width="6.27" height="5.55" fill="#4576b7"/>
<rect x="14" y="269.85" width="6.87" height="5.55" fill="#578bc1"/>
<rect x="20.27" y="269.85" width="6.87" height="5.55" fill="#9ecee3"/>
<rect x="26.54" y="269.85" width="6.27" height="5.55" fill="#5286be"/>
<rect x="14" y="274.8" width="6.87" height="5.55" fill="#4576b7"/>
<rect x="20.27" y="274.8" width="6.87" height="5.55" fill="#72aad0"/>
<rect x="26.54" y="274.8" width="6.27" height="5.55" fill="#4576b7"/>
<rect x="14" y="279.76" width="6.87" height="5.55" fill="#4e81bc"/>
<rect x="20.27" y="279.76" width="6.87" height="5.55" fill="#69a0cb"/>
<rect x="26.54" y="279.76" width="6.27" height="5.55" fill="#497cb9"/>
<rect x="14" y="284.71" width="6.87" height="5.55" fill="#7fb6d6"/>
<rect x="20.27" y="284.71" width="6.87" height="5.55" fill="#d73027"/>
<rect x="26.54" y="284.71" width="6.27" height="5.55" fill="#497cb9"/>
<rect x="14" y="289.67" width="6.87" height="5.55" fill="#578bc1"/>
<rect x="20.27" y="289.67" width="6.87" height="5.55" fill="#c0e3ef"/>
<rect x="26.54" y="289.67" width="6.27" height="5.55" fill="#5286be"/>
<rect x="14" y="294.62" width="6.87" height="5.55" fill="#497cb9"/>
<rect x="20.27" y="294.62" width="6.87" height="5.55" fill="#578bc1"/>
<rect x="26.54" y="294.62" width="6.27" height="5.55" fill="#497cb9"/>
<rect x="14" y="299.57" width="6.87" height="5.55" fill="#5286be"/>
<rect x="20.27" y="299.57" width="6.87" height="5.55" fill="#7fb6d6"/>
<rect x="26.54" y="299.57" width="6.27" height="5.55" fill="#5286be"/>
<rect x="14" y="304.53" width="6.87" height="5.55" fill="#72aad0"/>
<rect x="20.27" y="304.53" width="6.87" height="5.55" fill="#c0e3ef"/>
<rect x="26.54" y="304.53" width="6.27" height="5.55" fill="#578bc1"/>
<rect x="14" y="309.48" width="6.87" height="5.55" fill="#6096c6"/>
<rect x="20.27" y="309.48" width="6.87" height="5.55" fill="#7fb6d6"/>
<rect x="26.54" y="309.48" width="6.27" height="5.55" fill="#5286be"/>
<rect x="14" y="314.43" width="6.87" height="5.55" fill="#4071b4"/>
<rect x="20.27" y="314.43" width="6.87" height="5.55" fill="#4071b4"/>
<rect x="26.54" y="314.43" width="6.27" height="5.55" fill="#4071b4"/>
<rect x="14" y="319.39" width="6.87" height="5.55" fill="#7fb6d6"/>
<rect x="20.27" y="319.39" width="6.87" height="5.55" fill="#d5eef5"/>
<rect x="26.54" y="319.39" width="6.27" height="5.55" fill="#6096c6"/>
<rect x="14" y="324.34" width="6.87" height="5.55" fill="#4e81bc"/>
<rect x="20.27" y="324.34" width="6.87" height="5.55" fill="#578bc1"/>
<rect x="26.54" y="324.34" width="6.27" height="5.55" fill="#4e81bc"/>
<rect x="14" y="329.3" width="6.87" height="5.55" fill="#4e81bc"/>
<rect x="20.27" y="329.3" width="6.87" height="5.55" fill="#69a0cb"/>
<rect x="26.54" y="329.3" width="6.27" height="5.55" fill="#4e81bc"/>
<rect x="14" y="334.25" width="6.87" height="5.55" fill="#4576b7"/>
<rect x="20.27" y="334.25" width="6.87" height="5.55" fill="#497cb9"/>
<rect x="26.54" y="334.25" width="6.27" height="5.55" fill="#4576b7"/>
<rect x="14" y="339.2" width="6.87" height="5.55" fill="#4071b4"/>
<rect x="20.27" y="339.2" width="6.87" height="5.55" fill="#4576b7"/>
<rect x="26.54" y="339.2" width="6.27" height="5.55" fill="#4071b4"/>
<rect x="14" y="344.16" width="6.87" height="5.55" fill="#4e81bc"/>
<rect x="20.27" y="344.16" width="6.87" height="5.55" fill="#5286be"/>
<rect x="26.54" y="344.16" width="6.27" height="5.55" fill="#497cb9"/>
<rect x="14" y="349.11" width="6.87" height="5.55" fill="#6096c6"/>
<rect x="20.27" y="349.11" width="6.87" height="5.55" fill="#72aad0"/>
<rect x="26.54" y="349.11" width="6.27" height="5.55" fill="#5286be"/>
<rect x="14" y="354.06" width="6.87" height="5.55" fill="#95c7df"/>
<rect x="20.27" y="354.06" width="6.87" height="5.55" fill="#b8dfed"/>
<rect x="26.54" y="354.06" width="6.27" height="5.55" fill="#69a0cb"/>
<rect x="14" y="359.02" width="6.87" height="5.55" fill="#69a0cb"/>
<rect x="20.27" y="359.02" width="6.87" height="5.55" fill="#72aad0"/>
<rect x="26.54" y="359.02" width="6.27" height="5.55" fill="#578bc1"/>
<rect x="14" y="363.97" width="6.87" height="5.55" fill="#4576b7"/>
<rect x="20.27" y="363.97" width="6.87" height="5.55" fill="#5286be"/>
<rect x="26.54" y="363.97" width="6.27" height="5.55" fill="#4576b7"/>
<rect x="14" y="368.92" width="6.87" height="5.55" fill="#7fb6d6"/>
<rect x="20.27" y="368.92" width="6.87" height="5.55" fill="#abd9e9"/>
<rect x="26.54" y="368.92" width="6.27" height="5.55" fill="#69a0cb"/>
<rect x="14" y="373.88" width="6.87" height="5.55" fill="#6096c6"/>
<rect x="20.27" y="373.88" width="6.87" height="5.55" fill="#69a0cb"/>
<rect x="26.54" y="373.88" width="6.27" height="5.55" fill="#5286be"/>
<rect x="14" y="378.83" width="6.87" height="5.55" fill="#5286be"/>
<rect x="20.27" y="378.83" width="6.87" height="5.55" fill="#69a0cb"/>
<rect x="26.54" y="378.83" width="6.27" height="5.55" fill="#497cb9"/>
<rect x="14" y="383.79" width="6.87" height="5.55" fill="#4e81bc"/>
<rect x="20.27" y="383.79" width="6.87" height="5.55" fill="#578bc1"/>
<rect x="26.54" y="383.79" width="6.27" height="5.55" fill="#4576b7"/>
<rect x="14" y="388.74" width="6.87" height="5.55" fill="#497cb9"/>
<rect x="20.27" y="388.74" width="6.87" height="5.55" fill="#6096c6"/>
<rect x="26.54" y="388.74" width="6.27" height="5.55" fill="#497cb9"/>
<rect x="14" y="393.69" width="6.87" height="5.55" fill="#6096c6"/>
<rect x="20.27" y="393.69" width="6.87" height="5.55" fill="#6096c6"/>
<rect x="26.54" y="393.69" width="6.27" height="5.55" fill="#497cb9"/>
<rect x="14" y="398.65" width="6.87" height="4.95" fill="#72aad0"/>
<rect x="20.27" y="398.65" width="6.87" height="4.95" fill="#95c7df"/>
<rect x="26.54" y="398.65" width="6.27" height="4.95" fill="#5286be"/>
<text x="34.5" y="205.38">PC<tspan dy="1.2" font-size="4.0">O-x2</tspan></text>
<text x="67.2" y="205.38" text-anchor="end">38:3</text>
<text x="34.5" y="210.33">PC<tspan dy="1.2" font-size="4.0">O-x4</tspan></text>
<text x="67.2" y="210.33" text-anchor="end">36:4</text>
<text x="34.5" y="215.28">PC<tspan dy="1.2" font-size="4.0">O-x3</tspan></text>
<text x="67.2" y="215.28" text-anchor="end">34:2</text>
<text x="34.5" y="220.24">PC<tspan dy="1.2" font-size="4.0">O-x4</tspan></text>
<text x="67.2" y="220.24" text-anchor="end">40:8</text>
<text x="34.5" y="225.19">PC<tspan dy="1.2" font-size="4.0">O-x5</tspan></text>
<text x="67.2" y="225.19" text-anchor="end">36:6</text>
<text x="34.5" y="230.15">PC<tspan dy="1.2" font-size="4.0">O-x4</tspan></text>
<text x="67.2" y="230.15" text-anchor="end">32:1</text>
<text x="34.5" y="235.1">PC<tspan dy="1.2" font-size="4.0">O-x5</tspan></text>
<text x="67.2" y="235.1" text-anchor="end">34:3</text>
<text x="34.5" y="240.05">PC<tspan dy="1.2" font-size="4.0">O-x3</tspan></text>
<text x="67.2" y="240.05" text-anchor="end">36:4</text>
<text x="34.5" y="245.01">PC<tspan dy="1.2" font-size="4.0">O-x5</tspan></text>
<text x="67.2" y="245.01" text-anchor="end">40:7</text>
<text x="34.5" y="249.96">PC<tspan dy="1.2" font-size="4.0">O-x4</tspan></text>
<text x="67.2" y="249.96" text-anchor="end">40:6</text>
<text x="34.5" y="254.91">PC<tspan dy="1.2" font-size="4.0">O-x</tspan></text>
<text x="67.2" y="254.91" text-anchor="end">36:3</text>
<text x="34.5" y="259.87">PC<tspan dy="1.2" font-size="4.0">O-x2</tspan></text>
<text x="67.2" y="259.87" text-anchor="end">36:3</text>
<text x="34.5" y="264.82">PC<tspan dy="1.2" font-size="4.0">O-x2</tspan></text>
<text x="67.2" y="264.82" text-anchor="end">36:2</text>
<text x="34.5" y="269.77">PC<tspan dy="1.2" font-size="4.0">O-x2</tspan></text>
<text x="67.2" y="269.77" text-anchor="end">38:5</text>
<text x="34.5" y="274.73">PC<tspan dy="1.2" font-size="4.0">O-x2</tspan></text>
<text x="67.2" y="274.73" text-anchor="end">36:5</text>
<text x="34.5" y="279.68">PC<tspan dy="1.2" font-size="4.0">O-x2</tspan></text>
<text x="67.2" y="279.68" text-anchor="end">34:3</text>
<text x="34.5" y="284.64">PC<tspan dy="1.2" font-size="4.0">O-x4</tspan></text>
<text x="67.2" y="284.64" text-anchor="end">38:6</text>
<text x="34.5" y="289.59">PC<tspan dy="1.2" font-size="4.0">O-x</tspan></text>
<text x="67.2" y="289.59" text-anchor="end">38:4</text>
<text x="34.5" y="294.54">PC<tspan dy="1.2" font-size="4.0">O-x2</tspan></text>
<text x="67.2" y="294.54" text-anchor="end">38:3</text>
<text x="34.5" y="299.5">PC<tspan dy="1.2" font-size="4.0">O-x3</tspan></text>
<text x="67.2" y="299.5" text-anchor="end">36:8</text>
<text x="34.5" y="304.45">PC<tspan dy="1.2" font-size="4.0">O-x2</tspan></text>
<text x="67.2" y="304.45" text-anchor="end">36:2</text>
<text x="34.5" y="309.4">PC<tspan dy="1.2" font-size="4.0">O-x2</tspan></text>
<text x="67.2" y="309.4" text-anchor="end">34:1</text>
<text x="34.5" y="314.36">PC<tspan dy="1.2" font-size="4.0">O-x4</tspan></text>
<text x="67.2" y="314.36" text-anchor="end">36:3</text>
<text x="34.5" y="319.31">PC<tspan dy="1.2" font-size="4.0">O-x3</tspan></text>
<text x="67.2" y="319.31" text-anchor="end">40:5</text>
<text x="34.5" y="324.26">PC<tspan dy="1.2" font-size="4.0">O-x4</tspan></text>
<text x="67.2" y="324.26" text-anchor="end">36:2</text>
<text x="34.5" y="329.22">PC<tspan dy="1.2" font-size="4.0">O-x5</tspan></text>
<text x="67.2" y="329.22" text-anchor="end">38:3</text>
<text x="34.5" y="334.17">PC<tspan dy="1.2" font-size="4.0">O-x4</tspan></text>
<text x="67.2" y="334.17" text-anchor="end">36:4</text>
<text x="34.5" y="339.13">PC<tspan dy="1.2" font-size="4.0">O-x5</tspan></text>
<text x="67.2" y="339.13" text-anchor="end">34:2</text>
<text x="34.5" y="344.08">PC<tspan dy="1.2" font-size="4.0">O-x3</tspan></text>
<text x="67.2" y="344.08" text-anchor="end">40:8</text>
<text x="34.5" y="349.03">PC<tspan dy="1.2" font-size="4.0">O-x5</tspan></text>
<text x="67.2" y="349.03" text-anchor="end">36:6</text>
<text x="34.5" y="353.99">PC<tspan dy="1.2" font-size="4.0">O-x4</tspan></text>
<text x="67.2" y="353.99" text-anchor="end">32:1</text>
<text x="34.5" y="358.94">PC<tspan dy="1.2" font-size="4.0">O-x</tspan></text>
<text x="67.2" y="358.94" text-anchor="end">34:3</text>
<text x="34.5" y="363.89">PC<tspan dy="1.2" font-size="4.0">O-x2</tspan></text>
<text x="67.2" y="363.89" text-anchor="end">36:4</text>
<text x="34.5" y="368.85">PC<tspan dy="1.2" font-size="4.0">O-x2</tspan></text>
<text x="67.2" y="368.85" text-anchor="end">40:7</text>
<text x="34.5" y="373.8">PC<tspan dy="1.2" font-size="4.0">O-x2</tspan></text>
<text x="67.2" y="373.8" text-anchor="end">40:6</text>
<text x="34.5" y="378.75">PC<tspan dy="1.2" font-size="4.0">O-x2</tspan></text>
<text x="67.2" y="378.75" text-anchor="end">36:3</text>
<text x="34.5" y="383.71">PC<tspan dy="1.2" font-size="4.0">O-x2</tspan></text>
<text x="67.2" y="383.71" text-anchor="end">36:3</text>
<text x="34.5" y="388.66">PC<tspan dy="1.2" font-size="4.0">O-x4</tspan></text>
<text x="67.2" y="388.66" text-anchor="end">36:2</text>
<text x="34.5" y="393.62">PC<tspan dy="1.2" font-size="4.0">O-x</tspan></text>
<text x="67.2" y="393.62" text-anchor="end">38:5</text>
<text x="34.5" y="398.57">PC<tspan dy="1.2" font-size="4.0">O-x2</tspan></text>
<text x="67.2" y="398.57" text-anchor="end">36:5</text>
<text x="34.5" y="403.52">PC<tspan dy="1.2" font-size="4.0">O-x3</tspan></text>
<text x="67.2" y="403.52" text-anchor="end">34:3</text>
<line x1="8" y1="267.3" x2="14" y2="267.3" stroke="#555" stroke-width="0.5"/>
<line x1="8" y1="267.3" x2="8" y2="371.7" stroke="#555" stroke-width="0.5"/>
<line x1="8" y1="371.7" x2="10.3" y2="371.7" stroke="#555" stroke-width="0.5"/>
<line x1="10.3" y1="341" x2="10.3" y2="374" stroke="#555" stroke-width="0.5"/>
<line x1="10.3" y1="341" x2="14" y2="341" stroke="#555" stroke-width="0.5"/>
<line x1="10.3" y1="374" x2="14" y2="374" stroke="#555" stroke-width="0.5"/>
<defs><linearGradient id="cb114" x1="0" y1="1" x2="0" y2="0"><stop offset="0" stop-color="#3c6cb2"/><stop offset="0.125" stop-color="#74add1"/><stop offset="0.25" stop-color="#abd9e9"/><stop offset="0.375" stop-color="#e0f3f8"/><stop offset="0.5" stop-color="#ffffbf"/><stop offset="0.625" stop-color="#fee090"/><stop offset="0.75" stop-color="#fdae61"/><stop offset="0.875" stop-color="#f46d43"/><stop offset="1.0" stop-color="#d73027"/></linearGradient></defs>
<rect x="114.5" y="153.7" width="4.5" height="41.3" fill="url(#cb114)"/>
<text x="121.5" y="158.3">0.003</text>
<text x="121.5" y="171">0.002</text>
<text x="121.5" y="183.3">0.001</text>
<text x="121.5" y="196">0</text>
<text x="93.25" y="198.7" transform="rotate(-90 93.25 198.7)">Vehicle</text>
<text x="99.95" y="198.7" transform="rotate(-90 99.95 198.7)">Fento-1</text>
<text x="106.65" y="198.7" transform="rotate(-90 106.65 198.7)">Toc + Fento-1</text>
<rect x="87.5" y="200.4" width="7.3" height="6.27" fill="#b8dfed"/>
<rect x="94.2" y="200.4" width="7.3" height="6.27" fill="#d5eef5"/>
<rect x="100.9" y="200.4" width="6.7" height="6.27" fill="#b8dfed"/>
<rect x="87.5" y="206.08" width="7.3" height="6.27" fill="#4e81bc"/>
<rect x="94.2" y="206.08" width="7.3" height="6.27" fill="#578bc1"/>
<rect x="100.9" y="206.08" width="6.7" height="6.27" fill="#4576b7"/>
<rect x="87.5" y="211.75" width="7.3" height="6.27" fill="#7fb6d6"/>
<rect x="94.2" y="211.75" width="7.3" height="6.27" fill="#95c7df"/>
<rect x="100.9" y="211.75" width="6.7" height="6.27" fill="#72aad0"/>
<rect x="87.5" y="217.43" width="7.3" height="6.27" fill="#9ecee3"/>
<rect x="94.2" y="217.43" width="7.3" height="6.27" fill="#b8dfed"/>
<rect x="100.9" y="217.43" width="6.7" height="6.27" fill="#8cc0dc"/>
<rect x="87.5" y="223.1" width="7.3" height="6.27" fill="#69a0cb"/>
<rect x="94.2" y="223.1" width="7.3" height="6.27" fill="#72aad0"/>
<rect x="100.9" y="223.1" width="6.7" height="6.27" fill="#6096c6"/>
<rect x="87.5" y="228.78" width="7.3" height="6.27" fill="#6096c6"/>
<rect x="94.2" y="228.78" width="7.3" height="6.27" fill="#7bb2d4"/>
<rect x="100.9" y="228.78" width="6.7" height="6.27" fill="#578bc1"/>
<rect x="87.5" y="234.45" width="7.3" height="6.27" fill="#497cb9"/>
<rect x="94.2" y="234.45" width="7.3" height="6.27" fill="#4e81bc"/>
<rect x="100.9" y="234.45" width="6.7" height="6.27" fill="#4576b7"/>
<rect x="87.5" y="240.12" width="7.3" height="6.27" fill="#578bc1"/>
<rect x="94.2" y="240.12" width="7.3" height="6.27" fill="#7fb6d6"/>
<rect x="100.9" y="240.12" width="6.7" height="6.27" fill="#6096c6"/>
<rect x="87.5" y="245.8" width="7.3" height="6.27" fill="#5286be"/>
<rect x="94.2" y="245.8" width="7.3" height="6.27" fill="#69a0cb"/>
<rect x="100.9" y="245.8" width="6.7" height="6.27" fill="#5286be"/>
<rect x="87.5" y="251.47" width="7.3" height="6.27" fill="#497cb9"/>
<rect x="94.2" y="251.47" width="7.3" height="6.27" fill="#5286be"/>
<rect x="100.9" y="251.47" width="6.7" height="6.27" fill="#497cb9"/>
<rect x="87.5" y="257.15" width="7.3" height="6.27" fill="#497cb9"/>
<rect x="94.2" y="257.15" width="7.3" height="6.27" fill="#5286be"/>
<rect x="100.9" y="257.15" width="6.7" height="6.27" fill="#497cb9"/>
<rect x="87.5" y="262.82" width="7.3" height="6.27" fill="#4576b7"/>
<rect x="94.2" y="262.82" width="7.3" height="6.27" fill="#497cb9"/>
<rect x="100.9" y="262.82" width="6.7" height="6.27" fill="#4576b7"/>
<rect x="87.5" y="268.5" width="7.3" height="6.27" fill="#4e81bc"/>
<rect x="94.2" y="268.5" width="7.3" height="6.27" fill="#5286be"/>
<rect x="100.9" y="268.5" width="6.7" height="6.27" fill="#4e81bc"/>
<rect x="87.5" y="274.18" width="7.3" height="6.27" fill="#fdba6c"/>
<rect x="94.2" y="274.18" width="7.3" height="6.27" fill="#e34832"/>
<rect x="100.9" y="274.18" width="6.7" height="6.27" fill="#fee699"/>
<rect x="87.5" y="279.85" width="7.3" height="6.27" fill="#4e81bc"/>
<rect x="94.2" y="279.85" width="7.3" height="6.27" fill="#497cb9"/>
<rect x="100.9" y="279.85" width="6.7" height="6.27" fill="#4576b7"/>
<rect x="87.5" y="285.52" width="7.3" height="6.27" fill="#9ecee3"/>
<rect x="94.2" y="285.52" width="7.3" height="6.27" fill="#c0e3ef"/>
<rect x="100.9" y="285.52" width="6.7" height="6.27" fill="#8cc0dc"/>
<rect x="87.5" y="291.2" width="7.3" height="6.27" fill="#578bc1"/>
<rect x="94.2" y="291.2" width="7.3" height="6.27" fill="#c9e8f1"/>
<rect x="100.9" y="291.2" width="6.7" height="6.27" fill="#4e81bc"/>
<rect x="87.5" y="296.88" width="7.3" height="6.27" fill="#578bc1"/>
<rect x="94.2" y="296.88" width="7.3" height="6.27" fill="#69a0cb"/>
<rect x="100.9" y="296.88" width="6.7" height="6.27" fill="#578bc1"/>
<rect x="87.5" y="302.55" width="7.3" height="6.27" fill="#6096c6"/>
<rect x="94.2" y="302.55" width="7.3" height="6.27" fill="#69a0cb"/>
<rect x="100.9" y="302.55" width="6.7" height="6.27" fill="#578bc1"/>
<rect x="87.5" y="308.23" width="7.3" height="6.27" fill="#4576b7"/>
<rect x="94.2" y="308.23" width="7.3" height="6.27" fill="#497cb9"/>
<rect x="100.9" y="308.23" width="6.7" height="6.27" fill="#4576b7"/>
<rect x="87.5" y="313.9" width="7.3" height="6.27" fill="#ebf7e3"/>
<rect x="94.2" y="313.9" width="7.3" height="6.27" fill="#ebf7e3"/>
<rect x="100.9" y="313.9" width="6.7" height="6.27" fill="#c0e3ef"/>
<rect x="87.5" y="319.57" width="7.3" height="6.27" fill="#69a0cb"/>
<rect x="94.2" y="319.57" width="7.3" height="6.27" fill="#69a0cb"/>
<rect x="100.9" y="319.57" width="6.7" height="6.27" fill="#6096c6"/>
<rect x="87.5" y="325.25" width="7.3" height="6.27" fill="#c0e3ef"/>
<rect x="94.2" y="325.25" width="7.3" height="6.27" fill="#c0e3ef"/>
<rect x="100.9" y="325.25" width="6.7" height="6.27" fill="#9ecee3"/>
<rect x="87.5" y="330.93" width="7.3" height="6.27" fill="#69a0cb"/>
<rect x="94.2" y="330.93" width="7.3" height="6.27" fill="#72aad0"/>
<rect x="100.9" y="330.93" width="6.7" height="6.27" fill="#6096c6"/>
<rect x="87.5" y="336.6" width="7.3" height="6.27" fill="#4576b7"/>
<rect x="94.2" y="336.6" width="7.3" height="6.27" fill="#497cb9"/>
<rect x="100.9" y="336.6" width="6.7" height="6.27" fill="#4576b7"/>
<rect x="87.5" y="342.27" width="7.3" height="6.27" fill="#9ecee3"/>
<rect x="94.2" y="342.27" width="7.3" height="6.27" fill="#abd9e9"/>
<rect x="100.9" y="342.27" width="6.7" height="6.27" fill="#7fb6d6"/>
<rect x="87.5" y="347.95" width="7.3" height="6.27" fill="#8cc0dc"/>
<rect x="94.2" y="347.95" width="7.3" height="6.27" fill="#95c7df"/>
<rect x="100.9" y="347.95" width="6.7" height="6.27" fill="#7fb6d6"/>
<rect x="87.5" y="353.62" width="7.3" height="6.27" fill="#69a0cb"/>
<rect x="94.2" y="353.62" width="7.3" height="6.27" fill="#72aad0"/>
<rect x="100.9" y="353.62" width="6.7" height="6.27" fill="#6096c6"/>
<rect x="87.5" y="359.3" width="7.3" height="6.27" fill="#c0e3ef"/>
<rect x="94.2" y="359.3" width="7.3" height="6.27" fill="#c0e3ef"/>
<rect x="100.9" y="359.3" width="6.7" height="6.27" fill="#9ecee3"/>
<rect x="87.5" y="364.98" width="7.3" height="6.27" fill="#f3fad6"/>
<rect x="94.2" y="364.98" width="7.3" height="6.27" fill="#f3fad6"/>
<rect x="100.9" y="364.98" width="6.7" height="6.27" fill="#d5eef5"/>
<rect x="87.5" y="370.65" width="7.3" height="6.27" fill="#7fb6d6"/>
<rect x="94.2" y="370.65" width="7.3" height="6.27" fill="#7fb6d6"/>
<rect x="100.9" y="370.65" width="6.7" height="6.27" fill="#69a0cb"/>
<rect x="87.5" y="376.32" width="7.3" height="5.67" fill="#5286be"/>
<rect x="94.2" y="376.32" width="7.3" height="5.67" fill="#578bc1"/>
<rect x="100.9" y="376.32" width="6.7" height="5.67" fill="#497cb9"/>
<text x="110" y="205.64">PC<tspan dy="1.2" font-size="4.0">O-x2</tspan></text>
<text x="142.5" y="205.64" text-anchor="end">38:3</text>
<text x="110" y="211.31">PC<tspan dy="1.2" font-size="4.0">O-x4</tspan></text>
<text x="142.5" y="211.31" text-anchor="end">34:3</text>
<text x="110" y="216.99">PC<tspan dy="1.2" font-size="4.0">O-x5</tspan></text>
<text x="142.5" y="216.99" text-anchor="end">32:1</text>
<text x="110" y="222.66">PC<tspan dy="1.2" font-size="4.0">O-x4</tspan></text>
<text x="142.5" y="222.66" text-anchor="end">36:2</text>
<text x="110" y="228.34">PC<tspan dy="1.2" font-size="4.0">O-x2</tspan></text>
<text x="142.5" y="228.34" text-anchor="end">36:3</text>
<text x="110" y="234.01">PC<tspan dy="1.2" font-size="4.0">O-x2</tspan></text>
<text x="142.5" y="234.01" text-anchor="end">38:3</text>
<text x="110" y="239.69">PC<tspan dy="1.2" font-size="4.0">O-x2</tspan></text>
<text x="142.5" y="239.69" text-anchor="end">34:3</text>
<text x="110" y="245.36">PC<tspan dy="1.2" font-size="4.0">O-x2</tspan></text>
<text x="142.5" y="245.36" text-anchor="end">32:1</text>
<text x="110" y="251.04">PC<tspan dy="1.2" font-size="4.0">O-x4</tspan></text>
<text x="142.5" y="251.04" text-anchor="end">36:2</text>
<text x="110" y="256.71">PC<tspan dy="1.2" font-size="4.0">O-x5</tspan></text>
<text x="142.5" y="256.71" text-anchor="end">36:3</text>
<text x="110" y="262.39">PC<tspan dy="1.2" font-size="4.0">O-x4</tspan></text>
<text x="142.5" y="262.39" text-anchor="end">38:3</text>
<text x="110" y="268.06">PC<tspan dy="1.2" font-size="4.0">O-x2</tspan></text>
<text x="142.5" y="268.06" text-anchor="end">34:3</text>
<text x="110" y="273.74">PC<tspan dy="1.2" font-size="4.0">O-x2</tspan></text>
<text x="142.5" y="273.74" text-anchor="end">32:1</text>
<text x="110" y="279.41">PC<tspan dy="1.2" font-size="4.0">O-x2</tspan></text>
<text x="142.5" y="279.41" text-anchor="end">36:2</text>
<text x="110" y="285.09">PC<tspan dy="1.2" font-size="4.0">O-x2</tspan></text>
<text x="142.5" y="285.09" text-anchor="end">36:3</text>
<text x="110" y="290.76">PC<tspan dy="1.2" font-size="4.0">O-x4</tspan></text>
<text x="142.5" y="290.76" text-anchor="end">38:3</text>
<text x="110" y="296.44">PC<tspan dy="1.2" font-size="4.0">O-x5</tspan></text>
<text x="142.5" y="296.44" text-anchor="end">34:3</text>
<text x="110" y="302.11">PC<tspan dy="1.2" font-size="4.0">O-x4</tspan></text>
<text x="142.5" y="302.11" text-anchor="end">32:1</text>
<text x="110" y="307.79">PC<tspan dy="1.2" font-size="4.0">O-x2</tspan></text>
<text x="142.5" y="307.79" text-anchor="end">36:2</text>
<text x="110" y="313.46">PC<tspan dy="1.2" font-size="4.0">O-x2</tspan></text>
<text x="142.5" y="313.46" text-anchor="end">36:3</text>
<text x="110" y="319.14">PC<tspan dy="1.2" font-size="4.0">O-x2</tspan></text>
<text x="142.5" y="319.14" text-anchor="end">38:3</text>
<text x="110" y="324.81">PC<tspan dy="1.2" font-size="4.0">O-x2</tspan></text>
<text x="142.5" y="324.81" text-anchor="end">34:3</text>
<text x="110" y="330.49">PC<tspan dy="1.2" font-size="4.0">O-x4</tspan></text>
<text x="142.5" y="330.49" text-anchor="end">32:1</text>
<text x="110" y="336.16">PC<tspan dy="1.2" font-size="4.0">O-x5</tspan></text>
<text x="142.5" y="336.16" text-anchor="end">36:2</text>
<text x="110" y="341.84">PC<tspan dy="1.2" font-size="4.0">O-x4</tspan></text>
<text x="142.5" y="341.84" text-anchor="end">36:3</text>
<text x="110" y="347.51">PC<tspan dy="1.2" font-size="4.0">O-x2</tspan></text>
<text x="142.5" y="347.51" text-anchor="end">38:3</text>
<text x="110" y="353.19">PC<tspan dy="1.2" font-size="4.0">O-x2</tspan></text>
<text x="142.5" y="353.19" text-anchor="end">34:3</text>
<text x="110" y="358.86">PC<tspan dy="1.2" font-size="4.0">O-x2</tspan></text>
<text x="142.5" y="358.86" text-anchor="end">32:1</text>
<text x="110" y="364.54">PC<tspan dy="1.2" font-size="4.0">O-x2</tspan></text>
<text x="142.5" y="364.54" text-anchor="end">36:2</text>
<text x="110" y="370.21">PC<tspan dy="1.2" font-size="4.0">O-x4</tspan></text>
<text x="142.5" y="370.21" text-anchor="end">36:3</text>
<text x="110" y="375.89">PC<tspan dy="1.2" font-size="4.0">O-x5</tspan></text>
<text x="142.5" y="375.89" text-anchor="end">38:3</text>
<text x="110" y="381.56">PC<tspan dy="1.2" font-size="4.0">O-x4</tspan></text>
<text x="142.5" y="381.56" text-anchor="end">34:3</text>
<line x1="83.8" y1="244.1" x2="87.5" y2="244.1" stroke="#555" stroke-width="0.5"/>
<line x1="83.8" y1="244.1" x2="83.8" y2="336.5" stroke="#555" stroke-width="0.5"/>
<line x1="83.8" y1="336.5" x2="87.5" y2="336.5" stroke="#555" stroke-width="0.5"/>
<defs><linearGradient id="cb186" x1="0" y1="1" x2="0" y2="0"><stop offset="0" stop-color="#3c6cb2"/><stop offset="0.125" stop-color="#74add1"/><stop offset="0.25" stop-color="#abd9e9"/><stop offset="0.375" stop-color="#e0f3f8"/><stop offset="0.5" stop-color="#ffffbf"/><stop offset="0.625" stop-color="#fee090"/><stop offset="0.75" stop-color="#fdae61"/><stop offset="0.875" stop-color="#f46d43"/><stop offset="1.0" stop-color="#d73027"/></linearGradient></defs>
<rect x="186" y="152" width="4.5" height="44.7" fill="url(#cb186)"/>
<text x="192.8" y="155">0.005</text>
<text x="192.8" y="163.8">0.004</text>
<text x="192.8" y="172.3">0.003</text>
<text x="192.8" y="180.9">0.002</text>
<text x="192.8" y="189.3">0.001</text>
<text x="192.8" y="198">0</text>
<text x="167.5" y="198.7" transform="rotate(-90 167.5 198.7)">Vehicle</text>
<text x="174.23" y="198.7" transform="rotate(-90 174.23 198.7)">Fento-1</text>
<text x="180.96" y="198.7" transform="rotate(-90 180.96 198.7)">Toc + Fento-1</text>
<rect x="161.7" y="200.2" width="7.33" height="6.09" fill="#69a0cb"/>
<rect x="168.43" y="200.2" width="7.33" height="6.09" fill="#72aad0"/>
<rect x="175.16" y="200.2" width="6.73" height="6.09" fill="#578bc1"/>
<rect x="161.7" y="205.69" width="7.33" height="6.09" fill="#95c7df"/>
<rect x="168.43" y="205.69" width="7.33" height="6.09" fill="#9ecee3"/>
<rect x="175.16" y="205.69" width="6.73" height="6.09" fill="#6096c6"/>
<rect x="161.7" y="211.18" width="7.33" height="6.09" fill="#578bc1"/>
<rect x="168.43" y="211.18" width="7.33" height="6.09" fill="#578bc1"/>
<rect x="175.16" y="211.18" width="6.73" height="6.09" fill="#4e81bc"/>
<rect x="161.7" y="216.67" width="7.33" height="6.09" fill="#497cb9"/>
<rect x="168.43" y="216.67" width="7.33" height="6.09" fill="#69a0cb"/>
<rect x="175.16" y="216.67" width="6.73" height="6.09" fill="#5286be"/>
<rect x="161.7" y="222.16" width="7.33" height="6.09" fill="#4e81bc"/>
<rect x="168.43" y="222.16" width="7.33" height="6.09" fill="#69a0cb"/>
<rect x="175.16" y="222.16" width="6.73" height="6.09" fill="#578bc1"/>
<rect x="161.7" y="227.65" width="7.33" height="6.09" fill="#4576b7"/>
<rect x="168.43" y="227.65" width="7.33" height="6.09" fill="#6096c6"/>
<rect x="175.16" y="227.65" width="6.73" height="6.09" fill="#497cb9"/>
<rect x="161.7" y="233.14" width="7.33" height="6.09" fill="#6096c6"/>
<rect x="168.43" y="233.14" width="7.33" height="6.09" fill="#feeba1"/>
<rect x="175.16" y="233.14" width="6.73" height="6.09" fill="#8cc0dc"/>
<rect x="161.7" y="238.63" width="7.33" height="6.09" fill="#578bc1"/>
<rect x="168.43" y="238.63" width="7.33" height="6.09" fill="#c0e3ef"/>
<rect x="175.16" y="238.63" width="6.73" height="6.09" fill="#72aad0"/>
<rect x="161.7" y="244.12" width="7.33" height="6.09" fill="#5286be"/>
<rect x="168.43" y="244.12" width="7.33" height="6.09" fill="#7fb6d6"/>
<rect x="175.16" y="244.12" width="6.73" height="6.09" fill="#4576b7"/>
<rect x="161.7" y="249.61" width="7.33" height="6.09" fill="#72aad0"/>
<rect x="168.43" y="249.61" width="7.33" height="6.09" fill="#9ecee3"/>
<rect x="175.16" y="249.61" width="6.73" height="6.09" fill="#578bc1"/>
<rect x="161.7" y="255.1" width="7.33" height="6.09" fill="#578bc1"/>
<rect x="168.43" y="255.1" width="7.33" height="6.09" fill="#feeba1"/>
<rect x="175.16" y="255.1" width="6.73" height="6.09" fill="#5286be"/>
<rect x="161.7" y="260.59" width="7.33" height="6.09" fill="#497cb9"/>
<rect x="168.43" y="260.59" width="7.33" height="6.09" fill="#5286be"/>
<rect x="175.16" y="260.59" width="6.73" height="6.09" fill="#4e81bc"/>
<rect x="161.7" y="266.08" width="7.33" height="6.09" fill="#497cb9"/>
<rect x="168.43" y="266.08" width="7.33" height="6.09" fill="#5286be"/>
<rect x="175.16" y="266.08" width="6.73" height="6.09" fill="#497cb9"/>
<rect x="161.7" y="271.57" width="7.33" height="6.09" fill="#4576b7"/>
<rect x="168.43" y="271.57" width="7.33" height="6.09" fill="#4e81bc"/>
<rect x="175.16" y="271.57" width="6.73" height="6.09" fill="#497cb9"/>
<rect x="161.7" y="277.06" width="7.33" height="6.09" fill="#497cb9"/>
<rect x="168.43" y="277.06" width="7.33" height="6.09" fill="#578bc1"/>
<rect x="175.16" y="277.06" width="6.73" height="6.09" fill="#4576b7"/>
<rect x="161.7" y="282.55" width="7.33" height="6.09" fill="#4e81bc"/>
<rect x="168.43" y="282.55" width="7.33" height="6.09" fill="#5286be"/>
<rect x="175.16" y="282.55" width="6.73" height="6.09" fill="#497cb9"/>
<rect x="161.7" y="288.04" width="7.33" height="6.09" fill="#4576b7"/>
<rect x="168.43" y="288.04" width="7.33" height="6.09" fill="#4e81bc"/>
<rect x="175.16" y="288.04" width="6.73" height="6.09" fill="#4576b7"/>
<rect x="161.7" y="293.53" width="7.33" height="6.09" fill="#497cb9"/>
<rect x="168.43" y="293.53" width="7.33" height="6.09" fill="#5286be"/>
<rect x="175.16" y="293.53" width="6.73" height="6.09" fill="#4e81bc"/>
<rect x="161.7" y="299.02" width="7.33" height="6.09" fill="#497cb9"/>
<rect x="168.43" y="299.02" width="7.33" height="6.09" fill="#4e81bc"/>
<rect x="175.16" y="299.02" width="6.73" height="6.09" fill="#497cb9"/>
<rect x="161.7" y="304.51" width="7.33" height="6.09" fill="#497cb9"/>
<rect x="168.43" y="304.51" width="7.33" height="6.09" fill="#abd9e9"/>
<rect x="175.16" y="304.51" width="6.73" height="6.09" fill="#4e81bc"/>
<rect x="161.7" y="310" width="7.33" height="6.09" fill="#497cb9"/>
<rect x="168.43" y="310" width="7.33" height="6.09" fill="#578bc1"/>
<rect x="175.16" y="310" width="6.73" height="6.09" fill="#497cb9"/>
<rect x="161.7" y="315.5" width="7.33" height="6.09" fill="#5286be"/>
<rect x="168.43" y="315.5" width="7.33" height="6.09" fill="#6096c6"/>
<rect x="175.16" y="315.5" width="6.73" height="6.09" fill="#4e81bc"/>
<rect x="161.7" y="320.99" width="7.33" height="6.09" fill="#95c7df"/>
<rect x="168.43" y="320.99" width="7.33" height="6.09" fill="#ebf7e3"/>
<rect x="175.16" y="320.99" width="6.73" height="6.09" fill="#9ecee3"/>
<rect x="161.7" y="326.48" width="7.33" height="6.09" fill="#83b9d8"/>
<rect x="168.43" y="326.48" width="7.33" height="6.09" fill="#d73027"/>
<rect x="175.16" y="326.48" width="6.73" height="6.09" fill="#5286be"/>
<rect x="161.7" y="331.97" width="7.33" height="6.09" fill="#69a0cb"/>
<rect x="168.43" y="331.97" width="7.33" height="6.09" fill="#6096c6"/>
<rect x="175.16" y="331.97" width="6.73" height="6.09" fill="#72aad0"/>
<rect x="161.7" y="337.46" width="7.33" height="6.09" fill="#578bc1"/>
<rect x="168.43" y="337.46" width="7.33" height="6.09" fill="#497cb9"/>
<rect x="175.16" y="337.46" width="6.73" height="6.09" fill="#5286be"/>
<rect x="161.7" y="342.95" width="7.33" height="6.09" fill="#578bc1"/>
<rect x="168.43" y="342.95" width="7.33" height="6.09" fill="#4576b7"/>
<rect x="175.16" y="342.95" width="6.73" height="6.09" fill="#4e81bc"/>
<rect x="161.7" y="348.44" width="7.33" height="6.09" fill="#4e81bc"/>
<rect x="168.43" y="348.44" width="7.33" height="6.09" fill="#497cb9"/>
<rect x="175.16" y="348.44" width="6.73" height="6.09" fill="#578bc1"/>
<rect x="161.7" y="353.93" width="7.33" height="6.09" fill="#5286be"/>
<rect x="168.43" y="353.93" width="7.33" height="6.09" fill="#4e81bc"/>
<rect x="175.16" y="353.93" width="6.73" height="6.09" fill="#497cb9"/>
<rect x="161.7" y="359.42" width="7.33" height="6.09" fill="#7fb6d6"/>
<rect x="168.43" y="359.42" width="7.33" height="6.09" fill="#578bc1"/>
<rect x="175.16" y="359.42" width="6.73" height="6.09" fill="#578bc1"/>
<rect x="161.7" y="364.91" width="7.33" height="6.09" fill="#578bc1"/>
<rect x="168.43" y="364.91" width="7.33" height="6.09" fill="#5286be"/>
<rect x="175.16" y="364.91" width="6.73" height="6.09" fill="#4e81bc"/>
<rect x="161.7" y="370.4" width="7.33" height="6.09" fill="#7bb2d4"/>
<rect x="168.43" y="370.4" width="7.33" height="6.09" fill="#578bc1"/>
<rect x="175.16" y="370.4" width="6.73" height="6.09" fill="#5286be"/>
<rect x="161.7" y="375.89" width="7.33" height="6.09" fill="#4576b7"/>
<rect x="168.43" y="375.89" width="7.33" height="6.09" fill="#497cb9"/>
<rect x="175.16" y="375.89" width="6.73" height="6.09" fill="#4e81bc"/>
<rect x="161.7" y="381.38" width="7.33" height="6.09" fill="#578bc1"/>
<rect x="168.43" y="381.38" width="7.33" height="6.09" fill="#6096c6"/>
<rect x="175.16" y="381.38" width="6.73" height="6.09" fill="#72aad0"/>
<rect x="161.7" y="386.87" width="7.33" height="6.09" fill="#4e81bc"/>
<rect x="168.43" y="386.87" width="7.33" height="6.09" fill="#578bc1"/>
<rect x="175.16" y="386.87" width="6.73" height="6.09" fill="#6096c6"/>
<rect x="161.7" y="392.36" width="7.33" height="6.09" fill="#497cb9"/>
<rect x="168.43" y="392.36" width="7.33" height="6.09" fill="#4e81bc"/>
<rect x="175.16" y="392.36" width="6.73" height="6.09" fill="#497cb9"/>
<rect x="161.7" y="397.85" width="7.33" height="6.09" fill="#4e81bc"/>
<rect x="168.43" y="397.85" width="7.33" height="6.09" fill="#497cb9"/>
<rect x="175.16" y="397.85" width="6.73" height="6.09" fill="#5286be"/>
<rect x="161.7" y="403.34" width="7.33" height="6.09" fill="#5286be"/>
<rect x="168.43" y="403.34" width="7.33" height="6.09" fill="#69a0cb"/>
<rect x="175.16" y="403.34" width="6.73" height="6.09" fill="#6096c6"/>
<rect x="161.7" y="408.83" width="7.33" height="6.09" fill="#578bc1"/>
<rect x="168.43" y="408.83" width="7.33" height="6.09" fill="#69a0cb"/>
<rect x="175.16" y="408.83" width="6.73" height="6.09" fill="#72aad0"/>
<rect x="161.7" y="414.32" width="7.33" height="6.09" fill="#5286be"/>
<rect x="168.43" y="414.32" width="7.33" height="6.09" fill="#69a0cb"/>
<rect x="175.16" y="414.32" width="6.73" height="6.09" fill="#69a0cb"/>
<rect x="161.7" y="419.81" width="7.33" height="5.49" fill="#6096c6"/>
<rect x="168.43" y="419.81" width="7.33" height="5.49" fill="#72aad0"/>
<rect x="175.16" y="419.81" width="6.73" height="5.49" fill="#69a0cb"/>
<text x="185.2" y="205.65">PC<tspan dy="1.2" font-size="4.0">O-x2</tspan></text>
<text x="211.8" y="205.65" text-anchor="end">38:3</text>
<text x="185.2" y="211.14">PC<tspan dy="1.2" font-size="4.0">O-x4</tspan></text>
<text x="211.8" y="211.14" text-anchor="end">36:6</text>
<text x="185.2" y="216.63">PC<tspan dy="1.2" font-size="4.0">O-x</tspan></text>
<text x="211.8" y="216.63" text-anchor="end">40:7</text>
<text x="185.2" y="222.12">PC<tspan dy="1.2" font-size="4.0">O-x2</tspan></text>
<text x="211.8" y="222.12" text-anchor="end">36:2</text>
<text x="185.2" y="227.61">PC<tspan dy="1.2" font-size="4.0">O-x2</tspan></text>
<text x="211.8" y="227.61" text-anchor="end">38:6</text>
<text x="185.2" y="233.1">PC<tspan dy="1.2" font-size="4.0">O-x5</tspan></text>
<text x="211.8" y="233.1" text-anchor="end">36:2</text>
<text x="185.2" y="238.59">PC<tspan dy="1.2" font-size="4.0">O-x4</tspan></text>
<text x="211.8" y="238.59" text-anchor="end">36:2</text>
<text x="185.2" y="244.08">PC<tspan dy="1.2" font-size="4.0">O-x2</tspan></text>
<text x="211.8" y="244.08" text-anchor="end">40:8</text>
<text x="185.2" y="249.57">PC<tspan dy="1.2" font-size="4.0">O-x3</tspan></text>
<text x="211.8" y="249.57" text-anchor="end">36:4</text>
<text x="185.2" y="255.06">PC<tspan dy="1.2" font-size="4.0">O-x4</tspan></text>
<text x="211.8" y="255.06" text-anchor="end">36:3</text>
<text x="185.2" y="260.55">PC<tspan dy="1.2" font-size="4.0">O-x5</tspan></text>
<text x="211.8" y="260.55" text-anchor="end">34:3</text>
<text x="185.2" y="266.04">PC<tspan dy="1.2" font-size="4.0">O-x2</tspan></text>
<text x="211.8" y="266.04" text-anchor="end">36:8</text>
<text x="185.2" y="271.53">PC<tspan dy="1.2" font-size="4.0">O-x2</tspan></text>
<text x="211.8" y="271.53" text-anchor="end">40:5</text>
<text x="185.2" y="277.02">PC<tspan dy="1.2" font-size="4.0">O-x3</tspan></text>
<text x="211.8" y="277.02" text-anchor="end">34:2</text>
<text x="185.2" y="282.51">PC<tspan dy="1.2" font-size="4.0">O-x3</tspan></text>
<text x="211.8" y="282.51" text-anchor="end">34:3</text>
<text x="185.2" y="288">PC<tspan dy="1.2" font-size="4.0">O-x2</tspan></text>
<text x="211.8" y="288" text-anchor="end">36:3</text>
<text x="185.2" y="293.49">PC<tspan dy="1.2" font-size="4.0">O-x</tspan></text>
<text x="211.8" y="293.49" text-anchor="end">36:5</text>
<text x="185.2" y="298.98">PC<tspan dy="1.2" font-size="4.0">O-x4</tspan></text>
<text x="211.8" y="298.98" text-anchor="end">38:3</text>
<text x="185.2" y="304.47">PC<tspan dy="1.2" font-size="4.0">O-x5</tspan></text>
<text x="211.8" y="304.47" text-anchor="end">36:3</text>
<text x="185.2" y="309.96">PC<tspan dy="1.2" font-size="4.0">O-x2</tspan></text>
<text x="211.8" y="309.96" text-anchor="end">36:4</text>
<text x="185.2" y="315.45">PC<tspan dy="1.2" font-size="4.0">O-x4</tspan></text>
<text x="211.8" y="315.45" text-anchor="end">32:1</text>
<text x="185.2" y="320.94">PC<tspan dy="1.2" font-size="4.0">O-x2</tspan></text>
<text x="211.8" y="320.94" text-anchor="end">40:6</text>
<text x="185.2" y="326.43">PC<tspan dy="1.2" font-size="4.0">O-x4</tspan></text>
<text x="211.8" y="326.43" text-anchor="end">38:5</text>
<text x="185.2" y="331.92">PC<tspan dy="1.2" font-size="4.0">O-x</tspan></text>
<text x="211.8" y="331.92" text-anchor="end">38:4</text>
<text x="185.2" y="337.41">PC<tspan dy="1.2" font-size="4.0">O-x2</tspan></text>
<text x="211.8" y="337.41" text-anchor="end">34:1</text>
<text x="185.2" y="342.9">PC<tspan dy="1.2" font-size="4.0">O-x2</tspan></text>
<text x="211.8" y="342.9" text-anchor="end">38:3</text>
<text x="185.2" y="348.39">PC<tspan dy="1.2" font-size="4.0">O-x5</tspan></text>
<text x="211.8" y="348.39" text-anchor="end">36:6</text>
<text x="185.2" y="353.88">PC<tspan dy="1.2" font-size="4.0">O-x4</tspan></text>
<text x="211.8" y="353.88" text-anchor="end">40:7</text>
<text x="185.2" y="359.37">PC<tspan dy="1.2" font-size="4.0">O-x2</tspan></text>
<text x="211.8" y="359.37" text-anchor="end">36:2</text>
<text x="185.2" y="364.86">PC<tspan dy="1.2" font-size="4.0">O-x3</tspan></text>
<text x="211.8" y="364.86" text-anchor="end">38:6</text>
<text x="185.2" y="370.35">PC<tspan dy="1.2" font-size="4.0">O-x4</tspan></text>
<text x="211.8" y="370.35" text-anchor="end">36:2</text>
<text x="185.2" y="375.84">PC<tspan dy="1.2" font-size="4.0">O-x5</tspan></text>
<text x="211.8" y="375.84" text-anchor="end">36:2</text>
<text x="185.2" y="381.33">PC<tspan dy="1.2" font-size="4.0">O-x2</tspan></text>
<text x="211.8" y="381.33" text-anchor="end">40:8</text>
<text x="185.2" y="386.82">PC<tspan dy="1.2" font-size="4.0">O-x2</tspan></text>
<text x="211.8" y="386.82" text-anchor="end">36:4</text>
<text x="185.2" y="392.31">PC<tspan dy="1.2" font-size="4.0">O-x3</tspan></text>
<text x="211.8" y="392.31" text-anchor="end">36:3</text>
<text x="185.2" y="397.8">PC<tspan dy="1.2" font-size="4.0">O-x3</tspan></text>
<text x="211.8" y="397.8" text-anchor="end">34:3</text>
<text x="185.2" y="403.29">PC<tspan dy="1.2" font-size="4.0">O-x2</tspan></text>
<text x="211.8" y="403.29" text-anchor="end">36:8</text>
<text x="185.2" y="408.78">PC<tspan dy="1.2" font-size="4.0">O-x</tspan></text>
<text x="211.8" y="408.78" text-anchor="end">40:5</text>
<text x="185.2" y="414.27">PC<tspan dy="1.2" font-size="4.0">O-x4</tspan></text>
<text x="211.8" y="414.27" text-anchor="end">34:2</text>
<text x="185.2" y="419.76">PC<tspan dy="1.2" font-size="4.0">O-x5</tspan></text>
<text x="211.8" y="419.76" text-anchor="end">34:3</text>
<text x="185.2" y="425.25">PC<tspan dy="1.2" font-size="4.0">O-x2</tspan></text>
<text x="211.8" y="425.25" text-anchor="end">36:3</text>
<line x1="157.7" y1="228.7" x2="161.7" y2="228.7" stroke="#555" stroke-width="0.5"/>
<line x1="157.7" y1="228.7" x2="157.7" y2="364" stroke="#555" stroke-width="0.5"/>
<line x1="157.7" y1="364" x2="159.3" y2="364" stroke="#555" stroke-width="0.5"/>
<line x1="159.3" y1="339.2" x2="159.3" y2="398" stroke="#555" stroke-width="0.5"/>
<line x1="159.3" y1="339.2" x2="161.7" y2="339.2" stroke="#555" stroke-width="0.5"/>
<line x1="159.3" y1="398" x2="161.7" y2="398" stroke="#555" stroke-width="0.5"/>
<text x="235.5" y="167" font-size="10.5" font-weight="bold">e</text>
<text x="271.1" y="169.4">Vehicle</text>
<line x1="266.3" y1="170.6" x2="266.3" y2="257.2" stroke="#6d6e71" stroke-width="0.6"/>
<line x1="264.3" y1="257.2" x2="266.3" y2="257.2" stroke="#6d6e71" stroke-width="0.55"/>
<line x1="265.2" y1="250.48" x2="266.3" y2="250.48" stroke="#6d6e71" stroke-width="0.55"/>
<line x1="265.2" y1="243.76" x2="266.3" y2="243.76" stroke="#6d6e71" stroke-width="0.55"/>
<line x1="265.2" y1="237.04" x2="266.3" y2="237.04" stroke="#6d6e71" stroke-width="0.55"/>
<line x1="264.3" y1="230.32" x2="266.3" y2="230.32" stroke="#6d6e71" stroke-width="0.55"/>
<line x1="265.2" y1="223.6" x2="266.3" y2="223.6" stroke="#6d6e71" stroke-width="0.55"/>
<line x1="265.2" y1="216.88" x2="266.3" y2="216.88" stroke="#6d6e71" stroke-width="0.55"/>
<line x1="265.2" y1="210.16" x2="266.3" y2="210.16" stroke="#6d6e71" stroke-width="0.55"/>
<line x1="264.3" y1="203.44" x2="266.3" y2="203.44" stroke="#6d6e71" stroke-width="0.55"/>
<line x1="265.2" y1="196.72" x2="266.3" y2="196.72" stroke="#6d6e71" stroke-width="0.55"/>
<line x1="265.2" y1="190" x2="266.3" y2="190" stroke="#6d6e71" stroke-width="0.55"/>
<line x1="265.2" y1="183.28" x2="266.3" y2="183.28" stroke="#6d6e71" stroke-width="0.55"/>
<line x1="264.3" y1="176.56" x2="266.3" y2="176.56" stroke="#6d6e71" stroke-width="0.55"/>
<text x="262.3" y="178.91" text-anchor="end">600</text>
<text x="262.3" y="205.79" text-anchor="end">400</text>
<text x="262.3" y="232.67" text-anchor="end">200</text>
<text x="262.3" y="259.55" text-anchor="end">0</text>
<line x1="266.3" y1="257.2" x2="328.8" y2="257.2" stroke="#6d6e71" stroke-width="0.6"/>
<line x1="267.1" y1="257.2" x2="267.1" y2="259.2" stroke="#6d6e71" stroke-width="0.55"/>
<line x1="286.6" y1="257.2" x2="286.6" y2="259.2" stroke="#6d6e71" stroke-width="0.55"/>
<line x1="305.9" y1="257.2" x2="305.9" y2="259.2" stroke="#6d6e71" stroke-width="0.55"/>
<line x1="325.6" y1="257.2" x2="325.6" y2="259.2" stroke="#6d6e71" stroke-width="0.55"/>
<line x1="270.04" y1="257.2" x2="270.04" y2="258.3" stroke="#6d6e71" stroke-width="0.45"/>
<line x1="279.79" y1="257.2" x2="279.79" y2="258.3" stroke="#6d6e71" stroke-width="0.45"/>
<line x1="271.75" y1="257.2" x2="271.75" y2="258.3" stroke="#6d6e71" stroke-width="0.45"/>
<line x1="281.5" y1="257.2" x2="281.5" y2="258.3" stroke="#6d6e71" stroke-width="0.45"/>
<line x1="272.97" y1="257.2" x2="272.97" y2="258.3" stroke="#6d6e71" stroke-width="0.45"/>
<line x1="282.72" y1="257.2" x2="282.72" y2="258.3" stroke="#6d6e71" stroke-width="0.45"/>
<line x1="273.91" y1="257.2" x2="273.91" y2="258.3" stroke="#6d6e71" stroke-width="0.45"/>
<line x1="283.66" y1="257.2" x2="283.66" y2="258.3" stroke="#6d6e71" stroke-width="0.45"/>
<line x1="274.69" y1="257.2" x2="274.69" y2="258.3" stroke="#6d6e71" stroke-width="0.45"/>
<line x1="284.44" y1="257.2" x2="284.44" y2="258.3" stroke="#6d6e71" stroke-width="0.45"/>
<line x1="275.34" y1="257.2" x2="275.34" y2="258.3" stroke="#6d6e71" stroke-width="0.45"/>
<line x1="285.09" y1="257.2" x2="285.09" y2="258.3" stroke="#6d6e71" stroke-width="0.45"/>
<line x1="275.91" y1="257.2" x2="275.91" y2="258.3" stroke="#6d6e71" stroke-width="0.45"/>
<line x1="285.66" y1="257.2" x2="285.66" y2="258.3" stroke="#6d6e71" stroke-width="0.45"/>
<line x1="276.4" y1="257.2" x2="276.4" y2="258.3" stroke="#6d6e71" stroke-width="0.45"/>
<line x1="286.15" y1="257.2" x2="286.15" y2="258.3" stroke="#6d6e71" stroke-width="0.45"/>
<line x1="289.5" y1="257.2" x2="289.5" y2="258.3" stroke="#6d6e71" stroke-width="0.45"/>
<line x1="299.15" y1="257.2" x2="299.15" y2="258.3" stroke="#6d6e71" stroke-width="0.45"/>
<line x1="291.2" y1="257.2" x2="291.2" y2="258.3" stroke="#6d6e71" stroke-width="0.45"/>
<line x1="300.85" y1="257.2" x2="300.85" y2="258.3" stroke="#6d6e71" stroke-width="0.45"/>
<line x1="292.41" y1="257.2" x2="292.41" y2="258.3" stroke="#6d6e71" stroke-width="0.45"/>
<line x1="302.06" y1="257.2" x2="302.06" y2="258.3" stroke="#6d6e71" stroke-width="0.45"/>
<line x1="293.35" y1="257.2" x2="293.35" y2="258.3" stroke="#6d6e71" stroke-width="0.45"/>
<line x1="303" y1="257.2" x2="303" y2="258.3" stroke="#6d6e71" stroke-width="0.45"/>
<line x1="294.11" y1="257.2" x2="294.11" y2="258.3" stroke="#6d6e71" stroke-width="0.45"/>
<line x1="303.76" y1="257.2" x2="303.76" y2="258.3" stroke="#6d6e71" stroke-width="0.45"/>
<line x1="294.76" y1="257.2" x2="294.76" y2="258.3" stroke="#6d6e71" stroke-width="0.45"/>
<line x1="304.41" y1="257.2" x2="304.41" y2="258.3" stroke="#6d6e71" stroke-width="0.45"/>
<line x1="295.31" y1="257.2" x2="295.31" y2="258.3" stroke="#6d6e71" stroke-width="0.45"/>
<line x1="304.96" y1="257.2" x2="304.96" y2="258.3" stroke="#6d6e71" stroke-width="0.45"/>
<line x1="295.81" y1="257.2" x2="295.81" y2="258.3" stroke="#6d6e71" stroke-width="0.45"/>
<line x1="305.46" y1="257.2" x2="305.46" y2="258.3" stroke="#6d6e71" stroke-width="0.45"/>
<line x1="308.87" y1="257.2" x2="308.87" y2="258.3" stroke="#6d6e71" stroke-width="0.45"/>
<line x1="318.72" y1="257.2" x2="318.72" y2="258.3" stroke="#6d6e71" stroke-width="0.45"/>
<line x1="310.6" y1="257.2" x2="310.6" y2="258.3" stroke="#6d6e71" stroke-width="0.45"/>
<line x1="320.45" y1="257.2" x2="320.45" y2="258.3" stroke="#6d6e71" stroke-width="0.45"/>
<line x1="311.83" y1="257.2" x2="311.83" y2="258.3" stroke="#6d6e71" stroke-width="0.45"/>
<line x1="321.68" y1="257.2" x2="321.68" y2="258.3" stroke="#6d6e71" stroke-width="0.45"/>
<line x1="312.78" y1="257.2" x2="312.78" y2="258.3" stroke="#6d6e71" stroke-width="0.45"/>
<line x1="322.63" y1="257.2" x2="322.63" y2="258.3" stroke="#6d6e71" stroke-width="0.45"/>
<line x1="313.56" y1="257.2" x2="313.56" y2="258.3" stroke="#6d6e71" stroke-width="0.45"/>
<line x1="323.41" y1="257.2" x2="323.41" y2="258.3" stroke="#6d6e71" stroke-width="0.45"/>
<line x1="314.22" y1="257.2" x2="314.22" y2="258.3" stroke="#6d6e71" stroke-width="0.45"/>
<line x1="324.07" y1="257.2" x2="324.07" y2="258.3" stroke="#6d6e71" stroke-width="0.45"/>
<line x1="314.8" y1="257.2" x2="314.8" y2="258.3" stroke="#6d6e71" stroke-width="0.45"/>
<line x1="324.65" y1="257.2" x2="324.65" y2="258.3" stroke="#6d6e71" stroke-width="0.45"/>
<line x1="315.3" y1="257.2" x2="315.3" y2="258.3" stroke="#6d6e71" stroke-width="0.45"/>
<line x1="325.15" y1="257.2" x2="325.15" y2="258.3" stroke="#6d6e71" stroke-width="0.45"/>
<text x="267.1" y="269.6" text-anchor="middle">0</text>
<text x="286.6" y="269.6" text-anchor="middle">10<tspan dy="-2.5" font-size="4.7">2</tspan></text>
<text x="305.9" y="269.6" text-anchor="middle">10<tspan dy="-2.5" font-size="4.7">4</tspan></text>
<text x="325.6" y="269.6" text-anchor="middle">10<tspan dy="-2.5" font-size="4.7">6</tspan></text>
<text x="265.1" y="279.2">Anti-CD44-647 (a.u.)</text>
<text x="243.8" y="213.6" text-anchor="middle" transform="rotate(-90 243.8 213.6)">FSC-A (×10<tspan dy="-2.5" font-size="4.7">3</tspan><tspan dy="2.5">; a.u.)</tspan></text>
<text x="342.8" y="169.4">Fento-1</text>
<line x1="338" y1="170.6" x2="338" y2="257.2" stroke="#6d6e71" stroke-width="0.6"/>
<line x1="336" y1="257.2" x2="338" y2="257.2" stroke="#6d6e71" stroke-width="0.55"/>
<line x1="336.9" y1="250.48" x2="338" y2="250.48" stroke="#6d6e71" stroke-width="0.55"/>
<line x1="336.9" y1="243.76" x2="338" y2="243.76" stroke="#6d6e71" stroke-width="0.55"/>
<line x1="336.9" y1="237.04" x2="338" y2="237.04" stroke="#6d6e71" stroke-width="0.55"/>
<line x1="336" y1="230.32" x2="338" y2="230.32" stroke="#6d6e71" stroke-width="0.55"/>
<line x1="336.9" y1="223.6" x2="338" y2="223.6" stroke="#6d6e71" stroke-width="0.55"/>
<line x1="336.9" y1="216.88" x2="338" y2="216.88" stroke="#6d6e71" stroke-width="0.55"/>
<line x1="336.9" y1="210.16" x2="338" y2="210.16" stroke="#6d6e71" stroke-width="0.55"/>
<line x1="336" y1="203.44" x2="338" y2="203.44" stroke="#6d6e71" stroke-width="0.55"/>
<line x1="336.9" y1="196.72" x2="338" y2="196.72" stroke="#6d6e71" stroke-width="0.55"/>
<line x1="336.9" y1="190" x2="338" y2="190" stroke="#6d6e71" stroke-width="0.55"/>
<line x1="336.9" y1="183.28" x2="338" y2="183.28" stroke="#6d6e71" stroke-width="0.55"/>
<line x1="336" y1="176.56" x2="338" y2="176.56" stroke="#6d6e71" stroke-width="0.55"/>
<line x1="338" y1="257.2" x2="400.5" y2="257.2" stroke="#6d6e71" stroke-width="0.6"/>
<line x1="338.8" y1="257.2" x2="338.8" y2="259.2" stroke="#6d6e71" stroke-width="0.55"/>
<line x1="358.3" y1="257.2" x2="358.3" y2="259.2" stroke="#6d6e71" stroke-width="0.55"/>
<line x1="377.6" y1="257.2" x2="377.6" y2="259.2" stroke="#6d6e71" stroke-width="0.55"/>
<line x1="397.3" y1="257.2" x2="397.3" y2="259.2" stroke="#6d6e71" stroke-width="0.55"/>
<line x1="341.74" y1="257.2" x2="341.74" y2="258.3" stroke="#6d6e71" stroke-width="0.45"/>
<line x1="351.49" y1="257.2" x2="351.49" y2="258.3" stroke="#6d6e71" stroke-width="0.45"/>
<line x1="343.45" y1="257.2" x2="343.45" y2="258.3" stroke="#6d6e71" stroke-width="0.45"/>
<line x1="353.2" y1="257.2" x2="353.2" y2="258.3" stroke="#6d6e71" stroke-width="0.45"/>
<line x1="344.67" y1="257.2" x2="344.67" y2="258.3" stroke="#6d6e71" stroke-width="0.45"/>
<line x1="354.42" y1="257.2" x2="354.42" y2="258.3" stroke="#6d6e71" stroke-width="0.45"/>
<line x1="345.61" y1="257.2" x2="345.61" y2="258.3" stroke="#6d6e71" stroke-width="0.45"/>
<line x1="355.36" y1="257.2" x2="355.36" y2="258.3" stroke="#6d6e71" stroke-width="0.45"/>
<line x1="346.39" y1="257.2" x2="346.39" y2="258.3" stroke="#6d6e71" stroke-width="0.45"/>
<line x1="356.14" y1="257.2" x2="356.14" y2="258.3" stroke="#6d6e71" stroke-width="0.45"/>
<line x1="347.04" y1="257.2" x2="347.04" y2="258.3" stroke="#6d6e71" stroke-width="0.45"/>
<line x1="356.79" y1="257.2" x2="356.79" y2="258.3" stroke="#6d6e71" stroke-width="0.45"/>
<line x1="347.61" y1="257.2" x2="347.61" y2="258.3" stroke="#6d6e71" stroke-width="0.45"/>
<line x1="357.36" y1="257.2" x2="357.36" y2="258.3" stroke="#6d6e71" stroke-width="0.45"/>
<line x1="348.1" y1="257.2" x2="348.1" y2="258.3" stroke="#6d6e71" stroke-width="0.45"/>
<line x1="357.85" y1="257.2" x2="357.85" y2="258.3" stroke="#6d6e71" stroke-width="0.45"/>
<line x1="361.2" y1="257.2" x2="361.2" y2="258.3" stroke="#6d6e71" stroke-width="0.45"/>
<line x1="370.85" y1="257.2" x2="370.85" y2="258.3" stroke="#6d6e71" stroke-width="0.45"/>
<line x1="362.9" y1="257.2" x2="362.9" y2="258.3" stroke="#6d6e71" stroke-width="0.45"/>
<line x1="372.55" y1="257.2" x2="372.55" y2="258.3" stroke="#6d6e71" stroke-width="0.45"/>
<line x1="364.11" y1="257.2" x2="364.11" y2="258.3" stroke="#6d6e71" stroke-width="0.45"/>
<line x1="373.76" y1="257.2" x2="373.76" y2="258.3" stroke="#6d6e71" stroke-width="0.45"/>
<line x1="365.05" y1="257.2" x2="365.05" y2="258.3" stroke="#6d6e71" stroke-width="0.45"/>
<line x1="374.7" y1="257.2" x2="374.7" y2="258.3" stroke="#6d6e71" stroke-width="0.45"/>
<line x1="365.81" y1="257.2" x2="365.81" y2="258.3" stroke="#6d6e71" stroke-width="0.45"/>
<line x1="375.46" y1="257.2" x2="375.46" y2="258.3" stroke="#6d6e71" stroke-width="0.45"/>
<line x1="366.46" y1="257.2" x2="366.46" y2="258.3" stroke="#6d6e71" stroke-width="0.45"/>
<line x1="376.11" y1="257.2" x2="376.11" y2="258.3" stroke="#6d6e71" stroke-width="0.45"/>
<line x1="367.01" y1="257.2" x2="367.01" y2="258.3" stroke="#6d6e71" stroke-width="0.45"/>
<line x1="376.66" y1="257.2" x2="376.66" y2="258.3" stroke="#6d6e71" stroke-width="0.45"/>
<line x1="367.51" y1="257.2" x2="367.51" y2="258.3" stroke="#6d6e71" stroke-width="0.45"/>
<line x1="377.16" y1="257.2" x2="377.16" y2="258.3" stroke="#6d6e71" stroke-width="0.45"/>
<line x1="380.57" y1="257.2" x2="380.57" y2="258.3" stroke="#6d6e71" stroke-width="0.45"/>
<line x1="390.42" y1="257.2" x2="390.42" y2="258.3" stroke="#6d6e71" stroke-width="0.45"/>
<line x1="382.3" y1="257.2" x2="382.3" y2="258.3" stroke="#6d6e71" stroke-width="0.45"/>
<line x1="392.15" y1="257.2" x2="392.15" y2="258.3" stroke="#6d6e71" stroke-width="0.45"/>
<line x1="383.53" y1="257.2" x2="383.53" y2="258.3" stroke="#6d6e71" stroke-width="0.45"/>
<line x1="393.38" y1="257.2" x2="393.38" y2="258.3" stroke="#6d6e71" stroke-width="0.45"/>
<line x1="384.48" y1="257.2" x2="384.48" y2="258.3" stroke="#6d6e71" stroke-width="0.45"/>
<line x1="394.33" y1="257.2" x2="394.33" y2="258.3" stroke="#6d6e71" stroke-width="0.45"/>
<line x1="385.26" y1="257.2" x2="385.26" y2="258.3" stroke="#6d6e71" stroke-width="0.45"/>
<line x1="395.11" y1="257.2" x2="395.11" y2="258.3" stroke="#6d6e71" stroke-width="0.45"/>
<line x1="385.92" y1="257.2" x2="385.92" y2="258.3" stroke="#6d6e71" stroke-width="0.45"/>
<line x1="395.77" y1="257.2" x2="395.77" y2="258.3" stroke="#6d6e71" stroke-width="0.45"/>
<line x1="386.5" y1="257.2" x2="386.5" y2="258.3" stroke="#6d6e71" stroke-width="0.45"/>
<line x1="396.35" y1="257.2" x2="396.35" y2="258.3" stroke="#6d6e71" stroke-width="0.45"/>
<line x1="387" y1="257.2" x2="387" y2="258.3" stroke="#6d6e71" stroke-width="0.45"/>
<line x1="396.85" y1="257.2" x2="396.85" y2="258.3" stroke="#6d6e71" stroke-width="0.45"/>
<text x="338.8" y="269.6" text-anchor="middle">0</text>
<text x="358.3" y="269.6" text-anchor="middle">10<tspan dy="-2.5" font-size="4.7">2</tspan></text>
<text x="377.6" y="269.6" text-anchor="middle">10<tspan dy="-2.5" font-size="4.7">4</tspan></text>
<text x="397.3" y="269.6" text-anchor="middle">10<tspan dy="-2.5" font-size="4.7">6</tspan></text>
<text x="414.1" y="169.4">Lip-1 + Fento-1</text>
<line x1="409.3" y1="170.6" x2="409.3" y2="257.2" stroke="#6d6e71" stroke-width="0.6"/>
<line x1="407.3" y1="257.2" x2="409.3" y2="257.2" stroke="#6d6e71" stroke-width="0.55"/>
<line x1="408.2" y1="250.48" x2="409.3" y2="250.48" stroke="#6d6e71" stroke-width="0.55"/>
<line x1="408.2" y1="243.76" x2="409.3" y2="243.76" stroke="#6d6e71" stroke-width="0.55"/>
<line x1="408.2" y1="237.04" x2="409.3" y2="237.04" stroke="#6d6e71" stroke-width="0.55"/>
<line x1="407.3" y1="230.32" x2="409.3" y2="230.32" stroke="#6d6e71" stroke-width="0.55"/>
<line x1="408.2" y1="223.6" x2="409.3" y2="223.6" stroke="#6d6e71" stroke-width="0.55"/>
<line x1="408.2" y1="216.88" x2="409.3" y2="216.88" stroke="#6d6e71" stroke-width="0.55"/>
<line x1="408.2" y1="210.16" x2="409.3" y2="210.16" stroke="#6d6e71" stroke-width="0.55"/>
<line x1="407.3" y1="203.44" x2="409.3" y2="203.44" stroke="#6d6e71" stroke-width="0.55"/>
<line x1="408.2" y1="196.72" x2="409.3" y2="196.72" stroke="#6d6e71" stroke-width="0.55"/>
<line x1="408.2" y1="190" x2="409.3" y2="190" stroke="#6d6e71" stroke-width="0.55"/>
<line x1="408.2" y1="183.28" x2="409.3" y2="183.28" stroke="#6d6e71" stroke-width="0.55"/>
<line x1="407.3" y1="176.56" x2="409.3" y2="176.56" stroke="#6d6e71" stroke-width="0.55"/>
<line x1="409.3" y1="257.2" x2="471.8" y2="257.2" stroke="#6d6e71" stroke-width="0.6"/>
<line x1="410.1" y1="257.2" x2="410.1" y2="259.2" stroke="#6d6e71" stroke-width="0.55"/>
<line x1="429.6" y1="257.2" x2="429.6" y2="259.2" stroke="#6d6e71" stroke-width="0.55"/>
<line x1="448.9" y1="257.2" x2="448.9" y2="259.2" stroke="#6d6e71" stroke-width="0.55"/>
<line x1="468.6" y1="257.2" x2="468.6" y2="259.2" stroke="#6d6e71" stroke-width="0.55"/>
<line x1="413.04" y1="257.2" x2="413.04" y2="258.3" stroke="#6d6e71" stroke-width="0.45"/>
<line x1="422.79" y1="257.2" x2="422.79" y2="258.3" stroke="#6d6e71" stroke-width="0.45"/>
<line x1="414.75" y1="257.2" x2="414.75" y2="258.3" stroke="#6d6e71" stroke-width="0.45"/>
<line x1="424.5" y1="257.2" x2="424.5" y2="258.3" stroke="#6d6e71" stroke-width="0.45"/>
<line x1="415.97" y1="257.2" x2="415.97" y2="258.3" stroke="#6d6e71" stroke-width="0.45"/>
<line x1="425.72" y1="257.2" x2="425.72" y2="258.3" stroke="#6d6e71" stroke-width="0.45"/>
<line x1="416.91" y1="257.2" x2="416.91" y2="258.3" stroke="#6d6e71" stroke-width="0.45"/>
<line x1="426.66" y1="257.2" x2="426.66" y2="258.3" stroke="#6d6e71" stroke-width="0.45"/>
<line x1="417.69" y1="257.2" x2="417.69" y2="258.3" stroke="#6d6e71" stroke-width="0.45"/>
<line x1="427.44" y1="257.2" x2="427.44" y2="258.3" stroke="#6d6e71" stroke-width="0.45"/>
<line x1="418.34" y1="257.2" x2="418.34" y2="258.3" stroke="#6d6e71" stroke-width="0.45"/>
<line x1="428.09" y1="257.2" x2="428.09" y2="258.3" stroke="#6d6e71" stroke-width="0.45"/>
<line x1="418.91" y1="257.2" x2="418.91" y2="258.3" stroke="#6d6e71" stroke-width="0.45"/>
<line x1="428.66" y1="257.2" x2="428.66" y2="258.3" stroke="#6d6e71" stroke-width="0.45"/>
<line x1="419.4" y1="257.2" x2="419.4" y2="258.3" stroke="#6d6e71" stroke-width="0.45"/>
<line x1="429.15" y1="257.2" x2="429.15" y2="258.3" stroke="#6d6e71" stroke-width="0.45"/>
<line x1="432.5" y1="257.2" x2="432.5" y2="258.3" stroke="#6d6e71" stroke-width="0.45"/>
<line x1="442.15" y1="257.2" x2="442.15" y2="258.3" stroke="#6d6e71" stroke-width="0.45"/>
<line x1="434.2" y1="257.2" x2="434.2" y2="258.3" stroke="#6d6e71" stroke-width="0.45"/>
<line x1="443.85" y1="257.2" x2="443.85" y2="258.3" stroke="#6d6e71" stroke-width="0.45"/>
<line x1="435.41" y1="257.2" x2="435.41" y2="258.3" stroke="#6d6e71" stroke-width="0.45"/>
<line x1="445.06" y1="257.2" x2="445.06" y2="258.3" stroke="#6d6e71" stroke-width="0.45"/>
<line x1="436.35" y1="257.2" x2="436.35" y2="258.3" stroke="#6d6e71" stroke-width="0.45"/>
<line x1="446" y1="257.2" x2="446" y2="258.3" stroke="#6d6e71" stroke-width="0.45"/>
<line x1="437.11" y1="257.2" x2="437.11" y2="258.3" stroke="#6d6e71" stroke-width="0.45"/>
<line x1="446.76" y1="257.2" x2="446.76" y2="258.3" stroke="#6d6e71" stroke-width="0.45"/>
<line x1="437.76" y1="257.2" x2="437.76" y2="258.3" stroke="#6d6e71" stroke-width="0.45"/>
<line x1="447.41" y1="257.2" x2="447.41" y2="258.3" stroke="#6d6e71" stroke-width="0.45"/>
<line x1="438.31" y1="257.2" x2="438.31" y2="258.3" stroke="#6d6e71" stroke-width="0.45"/>
<line x1="447.96" y1="257.2" x2="447.96" y2="258.3" stroke="#6d6e71" stroke-width="0.45"/>
<line x1="438.81" y1="257.2" x2="438.81" y2="258.3" stroke="#6d6e71" stroke-width="0.45"/>
<line x1="448.46" y1="257.2" x2="448.46" y2="258.3" stroke="#6d6e71" stroke-width="0.45"/>
<line x1="451.87" y1="257.2" x2="451.87" y2="258.3" stroke="#6d6e71" stroke-width="0.45"/>
<line x1="461.72" y1="257.2" x2="461.72" y2="258.3" stroke="#6d6e71" stroke-width="0.45"/>
<line x1="453.6" y1="257.2" x2="453.6" y2="258.3" stroke="#6d6e71" stroke-width="0.45"/>
<line x1="463.45" y1="257.2" x2="463.45" y2="258.3" stroke="#6d6e71" stroke-width="0.45"/>
<line x1="454.83" y1="257.2" x2="454.83" y2="258.3" stroke="#6d6e71" stroke-width="0.45"/>
<line x1="464.68" y1="257.2" x2="464.68" y2="258.3" stroke="#6d6e71" stroke-width="0.45"/>
<line x1="455.78" y1="257.2" x2="455.78" y2="258.3" stroke="#6d6e71" stroke-width="0.45"/>
<line x1="465.63" y1="257.2" x2="465.63" y2="258.3" stroke="#6d6e71" stroke-width="0.45"/>
<line x1="456.56" y1="257.2" x2="456.56" y2="258.3" stroke="#6d6e71" stroke-width="0.45"/>
<line x1="466.41" y1="257.2" x2="466.41" y2="258.3" stroke="#6d6e71" stroke-width="0.45"/>
<line x1="457.22" y1="257.2" x2="457.22" y2="258.3" stroke="#6d6e71" stroke-width="0.45"/>
<line x1="467.07" y1="257.2" x2="467.07" y2="258.3" stroke="#6d6e71" stroke-width="0.45"/>
<line x1="457.8" y1="257.2" x2="457.8" y2="258.3" stroke="#6d6e71" stroke-width="0.45"/>
<line x1="467.65" y1="257.2" x2="467.65" y2="258.3" stroke="#6d6e71" stroke-width="0.45"/>
<line x1="458.3" y1="257.2" x2="458.3" y2="258.3" stroke="#6d6e71" stroke-width="0.45"/>
<line x1="468.15" y1="257.2" x2="468.15" y2="258.3" stroke="#6d6e71" stroke-width="0.45"/>
<text x="410.1" y="269.6" text-anchor="middle">0</text>
<text x="429.6" y="269.6" text-anchor="middle">10<tspan dy="-2.5" font-size="4.7">2</tspan></text>
<text x="448.9" y="269.6" text-anchor="middle">10<tspan dy="-2.5" font-size="4.7">4</tspan></text>
<text x="468.6" y="269.6" text-anchor="middle">10<tspan dy="-2.5" font-size="4.7">6</tspan></text>
<text x="271.1" y="295.7">cLip-1 + Fento-1</text>
<line x1="266.3" y1="296.9" x2="266.3" y2="383.5" stroke="#6d6e71" stroke-width="0.6"/>
<line x1="264.3" y1="383.5" x2="266.3" y2="383.5" stroke="#6d6e71" stroke-width="0.55"/>
<line x1="265.2" y1="376.78" x2="266.3" y2="376.78" stroke="#6d6e71" stroke-width="0.55"/>
<line x1="265.2" y1="370.06" x2="266.3" y2="370.06" stroke="#6d6e71" stroke-width="0.55"/>
<line x1="265.2" y1="363.34" x2="266.3" y2="363.34" stroke="#6d6e71" stroke-width="0.55"/>
<line x1="264.3" y1="356.62" x2="266.3" y2="356.62" stroke="#6d6e71" stroke-width="0.55"/>
<line x1="265.2" y1="349.9" x2="266.3" y2="349.9" stroke="#6d6e71" stroke-width="0.55"/>
<line x1="265.2" y1="343.18" x2="266.3" y2="343.18" stroke="#6d6e71" stroke-width="0.55"/>
<line x1="265.2" y1="336.46" x2="266.3" y2="336.46" stroke="#6d6e71" stroke-width="0.55"/>
<line x1="264.3" y1="329.74" x2="266.3" y2="329.74" stroke="#6d6e71" stroke-width="0.55"/>
<line x1="265.2" y1="323.02" x2="266.3" y2="323.02" stroke="#6d6e71" stroke-width="0.55"/>
<line x1="265.2" y1="316.3" x2="266.3" y2="316.3" stroke="#6d6e71" stroke-width="0.55"/>
<line x1="265.2" y1="309.58" x2="266.3" y2="309.58" stroke="#6d6e71" stroke-width="0.55"/>
<line x1="264.3" y1="302.86" x2="266.3" y2="302.86" stroke="#6d6e71" stroke-width="0.55"/>
<text x="262.3" y="305.21" text-anchor="end">600</text>
<text x="262.3" y="332.09" text-anchor="end">400</text>
<text x="262.3" y="358.97" text-anchor="end">200</text>
<text x="262.3" y="385.85" text-anchor="end">0</text>
<line x1="266.3" y1="383.5" x2="328.8" y2="383.5" stroke="#6d6e71" stroke-width="0.6"/>
<line x1="267.1" y1="383.5" x2="267.1" y2="385.5" stroke="#6d6e71" stroke-width="0.55"/>
<line x1="286.6" y1="383.5" x2="286.6" y2="385.5" stroke="#6d6e71" stroke-width="0.55"/>
<line x1="305.9" y1="383.5" x2="305.9" y2="385.5" stroke="#6d6e71" stroke-width="0.55"/>
<line x1="325.6" y1="383.5" x2="325.6" y2="385.5" stroke="#6d6e71" stroke-width="0.55"/>
<line x1="270.04" y1="383.5" x2="270.04" y2="384.6" stroke="#6d6e71" stroke-width="0.45"/>
<line x1="279.79" y1="383.5" x2="279.79" y2="384.6" stroke="#6d6e71" stroke-width="0.45"/>
<line x1="271.75" y1="383.5" x2="271.75" y2="384.6" stroke="#6d6e71" stroke-width="0.45"/>
<line x1="281.5" y1="383.5" x2="281.5" y2="384.6" stroke="#6d6e71" stroke-width="0.45"/>
<line x1="272.97" y1="383.5" x2="272.97" y2="384.6" stroke="#6d6e71" stroke-width="0.45"/>
<line x1="282.72" y1="383.5" x2="282.72" y2="384.6" stroke="#6d6e71" stroke-width="0.45"/>
<line x1="273.91" y1="383.5" x2="273.91" y2="384.6" stroke="#6d6e71" stroke-width="0.45"/>
<line x1="283.66" y1="383.5" x2="283.66" y2="384.6" stroke="#6d6e71" stroke-width="0.45"/>
<line x1="274.69" y1="383.5" x2="274.69" y2="384.6" stroke="#6d6e71" stroke-width="0.45"/>
<line x1="284.44" y1="383.5" x2="284.44" y2="384.6" stroke="#6d6e71" stroke-width="0.45"/>
<line x1="275.34" y1="383.5" x2="275.34" y2="384.6" stroke="#6d6e71" stroke-width="0.45"/>
<line x1="285.09" y1="383.5" x2="285.09" y2="384.6" stroke="#6d6e71" stroke-width="0.45"/>
<line x1="275.91" y1="383.5" x2="275.91" y2="384.6" stroke="#6d6e71" stroke-width="0.45"/>
<line x1="285.66" y1="383.5" x2="285.66" y2="384.6" stroke="#6d6e71" stroke-width="0.45"/>
<line x1="276.4" y1="383.5" x2="276.4" y2="384.6" stroke="#6d6e71" stroke-width="0.45"/>
<line x1="286.15" y1="383.5" x2="286.15" y2="384.6" stroke="#6d6e71" stroke-width="0.45"/>
<line x1="289.5" y1="383.5" x2="289.5" y2="384.6" stroke="#6d6e71" stroke-width="0.45"/>
<line x1="299.15" y1="383.5" x2="299.15" y2="384.6" stroke="#6d6e71" stroke-width="0.45"/>
<line x1="291.2" y1="383.5" x2="291.2" y2="384.6" stroke="#6d6e71" stroke-width="0.45"/>
<line x1="300.85" y1="383.5" x2="300.85" y2="384.6" stroke="#6d6e71" stroke-width="0.45"/>
<line x1="292.41" y1="383.5" x2="292.41" y2="384.6" stroke="#6d6e71" stroke-width="0.45"/>
<line x1="302.06" y1="383.5" x2="302.06" y2="384.6" stroke="#6d6e71" stroke-width="0.45"/>
<line x1="293.35" y1="383.5" x2="293.35" y2="384.6" stroke="#6d6e71" stroke-width="0.45"/>
<line x1="303" y1="383.5" x2="303" y2="384.6" stroke="#6d6e71" stroke-width="0.45"/>
<line x1="294.11" y1="383.5" x2="294.11" y2="384.6" stroke="#6d6e71" stroke-width="0.45"/>
<line x1="303.76" y1="383.5" x2="303.76" y2="384.6" stroke="#6d6e71" stroke-width="0.45"/>
<line x1="294.76" y1="383.5" x2="294.76" y2="384.6" stroke="#6d6e71" stroke-width="0.45"/>
<line x1="304.41" y1="383.5" x2="304.41" y2="384.6" stroke="#6d6e71" stroke-width="0.45"/>
<line x1="295.31" y1="383.5" x2="295.31" y2="384.6" stroke="#6d6e71" stroke-width="0.45"/>
<line x1="304.96" y1="383.5" x2="304.96" y2="384.6" stroke="#6d6e71" stroke-width="0.45"/>
<line x1="295.81" y1="383.5" x2="295.81" y2="384.6" stroke="#6d6e71" stroke-width="0.45"/>
<line x1="305.46" y1="383.5" x2="305.46" y2="384.6" stroke="#6d6e71" stroke-width="0.45"/>
<line x1="308.87" y1="383.5" x2="308.87" y2="384.6" stroke="#6d6e71" stroke-width="0.45"/>
<line x1="318.72" y1="383.5" x2="318.72" y2="384.6" stroke="#6d6e71" stroke-width="0.45"/>
<line x1="310.6" y1="383.5" x2="310.6" y2="384.6" stroke="#6d6e71" stroke-width="0.45"/>
<line x1="320.45" y1="383.5" x2="320.45" y2="384.6" stroke="#6d6e71" stroke-width="0.45"/>
<line x1="311.83" y1="383.5" x2="311.83" y2="384.6" stroke="#6d6e71" stroke-width="0.45"/>
<line x1="321.68" y1="383.5" x2="321.68" y2="384.6" stroke="#6d6e71" stroke-width="0.45"/>
<line x1="312.78" y1="383.5" x2="312.78" y2="384.6" stroke="#6d6e71" stroke-width="0.45"/>
<line x1="322.63" y1="383.5" x2="322.63" y2="384.6" stroke="#6d6e71" stroke-width="0.45"/>
<line x1="313.56" y1="383.5" x2="313.56" y2="384.6" stroke="#6d6e71" stroke-width="0.45"/>
<line x1="323.41" y1="383.5" x2="323.41" y2="384.6" stroke="#6d6e71" stroke-width="0.45"/>
<line x1="314.22" y1="383.5" x2="314.22" y2="384.6" stroke="#6d6e71" stroke-width="0.45"/>
<line x1="324.07" y1="383.5" x2="324.07" y2="384.6" stroke="#6d6e71" stroke-width="0.45"/>
<line x1="314.8" y1="383.5" x2="314.8" y2="384.6" stroke="#6d6e71" stroke-width="0.45"/>
<line x1="324.65" y1="383.5" x2="324.65" y2="384.6" stroke="#6d6e71" stroke-width="0.45"/>
<line x1="315.3" y1="383.5" x2="315.3" y2="384.6" stroke="#6d6e71" stroke-width="0.45"/>
<line x1="325.15" y1="383.5" x2="325.15" y2="384.6" stroke="#6d6e71" stroke-width="0.45"/>
<text x="267.1" y="395.9" text-anchor="middle">0</text>
<text x="286.6" y="395.9" text-anchor="middle">10<tspan dy="-2.5" font-size="4.7">2</tspan></text>
<text x="305.9" y="395.9" text-anchor="middle">10<tspan dy="-2.5" font-size="4.7">4</tspan></text>
<text x="325.6" y="395.9" text-anchor="middle">10<tspan dy="-2.5" font-size="4.7">6</tspan></text>
<text x="265.1" y="405.5">Anti-CD44-647 (a.u.)</text>
<text x="243.8" y="339.9" text-anchor="middle" transform="rotate(-90 243.8 339.9)">FSC-A (×10<tspan dy="-2.5" font-size="4.7">3</tspan><tspan dy="2.5">; a.u.)</tspan></text>
<text x="342.8" y="295.7">Toc + Fento-1</text>
<line x1="338" y1="296.9" x2="338" y2="383.5" stroke="#6d6e71" stroke-width="0.6"/>
<line x1="336" y1="383.5" x2="338" y2="383.5" stroke="#6d6e71" stroke-width="0.55"/>
<line x1="336.9" y1="376.78" x2="338" y2="376.78" stroke="#6d6e71" stroke-width="0.55"/>
<line x1="336.9" y1="370.06" x2="338" y2="370.06" stroke="#6d6e71" stroke-width="0.55"/>
<line x1="336.9" y1="363.34" x2="338" y2="363.34" stroke="#6d6e71" stroke-width="0.55"/>
<line x1="336" y1="356.62" x2="338" y2="356.62" stroke="#6d6e71" stroke-width="0.55"/>
<line x1="336.9" y1="349.9" x2="338" y2="349.9" stroke="#6d6e71" stroke-width="0.55"/>
<line x1="336.9" y1="343.18" x2="338" y2="343.18" stroke="#6d6e71" stroke-width="0.55"/>
<line x1="336.9" y1="336.46" x2="338" y2="336.46" stroke="#6d6e71" stroke-width="0.55"/>
<line x1="336" y1="329.74" x2="338" y2="329.74" stroke="#6d6e71" stroke-width="0.55"/>
<line x1="336.9" y1="323.02" x2="338" y2="323.02" stroke="#6d6e71" stroke-width="0.55"/>
<line x1="336.9" y1="316.3" x2="338" y2="316.3" stroke="#6d6e71" stroke-width="0.55"/>
<line x1="336.9" y1="309.58" x2="338" y2="309.58" stroke="#6d6e71" stroke-width="0.55"/>
<line x1="336" y1="302.86" x2="338" y2="302.86" stroke="#6d6e71" stroke-width="0.55"/>
<line x1="338" y1="383.5" x2="400.5" y2="383.5" stroke="#6d6e71" stroke-width="0.6"/>
<line x1="338.8" y1="383.5" x2="338.8" y2="385.5" stroke="#6d6e71" stroke-width="0.55"/>
<line x1="358.3" y1="383.5" x2="358.3" y2="385.5" stroke="#6d6e71" stroke-width="0.55"/>
<line x1="377.6" y1="383.5" x2="377.6" y2="385.5" stroke="#6d6e71" stroke-width="0.55"/>
<line x1="397.3" y1="383.5" x2="397.3" y2="385.5" stroke="#6d6e71" stroke-width="0.55"/>
<line x1="341.74" y1="383.5" x2="341.74" y2="384.6" stroke="#6d6e71" stroke-width="0.45"/>
<line x1="351.49" y1="383.5" x2="351.49" y2="384.6" stroke="#6d6e71" stroke-width="0.45"/>
<line x1="343.45" y1="383.5" x2="343.45" y2="384.6" stroke="#6d6e71" stroke-width="0.45"/>
<line x1="353.2" y1="383.5" x2="353.2" y2="384.6" stroke="#6d6e71" stroke-width="0.45"/>
<line x1="344.67" y1="383.5" x2="344.67" y2="384.6" stroke="#6d6e71" stroke-width="0.45"/>
<line x1="354.42" y1="383.5" x2="354.42" y2="384.6" stroke="#6d6e71" stroke-width="0.45"/>
<line x1="345.61" y1="383.5" x2="345.61" y2="384.6" stroke="#6d6e71" stroke-width="0.45"/>
<line x1="355.36" y1="383.5" x2="355.36" y2="384.6" stroke="#6d6e71" stroke-width="0.45"/>
<line x1="346.39" y1="383.5" x2="346.39" y2="384.6" stroke="#6d6e71" stroke-width="0.45"/>
<line x1="356.14" y1="383.5" x2="356.14" y2="384.6" stroke="#6d6e71" stroke-width="0.45"/>
<line x1="347.04" y1="383.5" x2="347.04" y2="384.6" stroke="#6d6e71" stroke-width="0.45"/>
<line x1="356.79" y1="383.5" x2="356.79" y2="384.6" stroke="#6d6e71" stroke-width="0.45"/>
<line x1="347.61" y1="383.5" x2="347.61" y2="384.6" stroke="#6d6e71" stroke-width="0.45"/>
<line x1="357.36" y1="383.5" x2="357.36" y2="384.6" stroke="#6d6e71" stroke-width="0.45"/>
<line x1="348.1" y1="383.5" x2="348.1" y2="384.6" stroke="#6d6e71" stroke-width="0.45"/>
<line x1="357.85" y1="383.5" x2="357.85" y2="384.6" stroke="#6d6e71" stroke-width="0.45"/>
<line x1="361.2" y1="383.5" x2="361.2" y2="384.6" stroke="#6d6e71" stroke-width="0.45"/>
<line x1="370.85" y1="383.5" x2="370.85" y2="384.6" stroke="#6d6e71" stroke-width="0.45"/>
<line x1="362.9" y1="383.5" x2="362.9" y2="384.6" stroke="#6d6e71" stroke-width="0.45"/>
<line x1="372.55" y1="383.5" x2="372.55" y2="384.6" stroke="#6d6e71" stroke-width="0.45"/>
<line x1="364.11" y1="383.5" x2="364.11" y2="384.6" stroke="#6d6e71" stroke-width="0.45"/>
<line x1="373.76" y1="383.5" x2="373.76" y2="384.6" stroke="#6d6e71" stroke-width="0.45"/>
<line x1="365.05" y1="383.5" x2="365.05" y2="384.6" stroke="#6d6e71" stroke-width="0.45"/>
<line x1="374.7" y1="383.5" x2="374.7" y2="384.6" stroke="#6d6e71" stroke-width="0.45"/>
<line x1="365.81" y1="383.5" x2="365.81" y2="384.6" stroke="#6d6e71" stroke-width="0.45"/>
<line x1="375.46" y1="383.5" x2="375.46" y2="384.6" stroke="#6d6e71" stroke-width="0.45"/>
<line x1="366.46" y1="383.5" x2="366.46" y2="384.6" stroke="#6d6e71" stroke-width="0.45"/>
<line x1="376.11" y1="383.5" x2="376.11" y2="384.6" stroke="#6d6e71" stroke-width="0.45"/>
<line x1="367.01" y1="383.5" x2="367.01" y2="384.6" stroke="#6d6e71" stroke-width="0.45"/>
<line x1="376.66" y1="383.5" x2="376.66" y2="384.6" stroke="#6d6e71" stroke-width="0.45"/>
<line x1="367.51" y1="383.5" x2="367.51" y2="384.6" stroke="#6d6e71" stroke-width="0.45"/>
<line x1="377.16" y1="383.5" x2="377.16" y2="384.6" stroke="#6d6e71" stroke-width="0.45"/>
<line x1="380.57" y1="383.5" x2="380.57" y2="384.6" stroke="#6d6e71" stroke-width="0.45"/>
<line x1="390.42" y1="383.5" x2="390.42" y2="384.6" stroke="#6d6e71" stroke-width="0.45"/>
<line x1="382.3" y1="383.5" x2="382.3" y2="384.6" stroke="#6d6e71" stroke-width="0.45"/>
<line x1="392.15" y1="383.5" x2="392.15" y2="384.6" stroke="#6d6e71" stroke-width="0.45"/>
<line x1="383.53" y1="383.5" x2="383.53" y2="384.6" stroke="#6d6e71" stroke-width="0.45"/>
<line x1="393.38" y1="383.5" x2="393.38" y2="384.6" stroke="#6d6e71" stroke-width="0.45"/>
<line x1="384.48" y1="383.5" x2="384.48" y2="384.6" stroke="#6d6e71" stroke-width="0.45"/>
<line x1="394.33" y1="383.5" x2="394.33" y2="384.6" stroke="#6d6e71" stroke-width="0.45"/>
<line x1="385.26" y1="383.5" x2="385.26" y2="384.6" stroke="#6d6e71" stroke-width="0.45"/>
<line x1="395.11" y1="383.5" x2="395.11" y2="384.6" stroke="#6d6e71" stroke-width="0.45"/>
<line x1="385.92" y1="383.5" x2="385.92" y2="384.6" stroke="#6d6e71" stroke-width="0.45"/>
<line x1="395.77" y1="383.5" x2="395.77" y2="384.6" stroke="#6d6e71" stroke-width="0.45"/>
<line x1="386.5" y1="383.5" x2="386.5" y2="384.6" stroke="#6d6e71" stroke-width="0.45"/>
<line x1="396.35" y1="383.5" x2="396.35" y2="384.6" stroke="#6d6e71" stroke-width="0.45"/>
<line x1="387" y1="383.5" x2="387" y2="384.6" stroke="#6d6e71" stroke-width="0.45"/>
<line x1="396.85" y1="383.5" x2="396.85" y2="384.6" stroke="#6d6e71" stroke-width="0.45"/>
<text x="338.8" y="395.9" text-anchor="middle">0</text>
<text x="358.3" y="395.9" text-anchor="middle">10<tspan dy="-2.5" font-size="4.7">2</tspan></text>
<text x="377.6" y="395.9" text-anchor="middle">10<tspan dy="-2.5" font-size="4.7">4</tspan></text>
<text x="397.3" y="395.9" text-anchor="middle">10<tspan dy="-2.5" font-size="4.7">6</tspan></text>
<text x="414.1" y="295.7">Def + Fento-1</text>
<line x1="409.3" y1="296.9" x2="409.3" y2="383.5" stroke="#6d6e71" stroke-width="0.6"/>
<line x1="407.3" y1="383.5" x2="409.3" y2="383.5" stroke="#6d6e71" stroke-width="0.55"/>
<line x1="408.2" y1="376.78" x2="409.3" y2="376.78" stroke="#6d6e71" stroke-width="0.55"/>
<line x1="408.2" y1="370.06" x2="409.3" y2="370.06" stroke="#6d6e71" stroke-width="0.55"/>
<line x1="408.2" y1="363.34" x2="409.3" y2="363.34" stroke="#6d6e71" stroke-width="0.55"/>
<line x1="407.3" y1="356.62" x2="409.3" y2="356.62" stroke="#6d6e71" stroke-width="0.55"/>
<line x1="408.2" y1="349.9" x2="409.3" y2="349.9" stroke="#6d6e71" stroke-width="0.55"/>
<line x1="408.2" y1="343.18" x2="409.3" y2="343.18" stroke="#6d6e71" stroke-width="0.55"/>
<line x1="408.2" y1="336.46" x2="409.3" y2="336.46" stroke="#6d6e71" stroke-width="0.55"/>
<line x1="407.3" y1="329.74" x2="409.3" y2="329.74" stroke="#6d6e71" stroke-width="0.55"/>
<line x1="408.2" y1="323.02" x2="409.3" y2="323.02" stroke="#6d6e71" stroke-width="0.55"/>
<line x1="408.2" y1="316.3" x2="409.3" y2="316.3" stroke="#6d6e71" stroke-width="0.55"/>
<line x1="408.2" y1="309.58" x2="409.3" y2="309.58" stroke="#6d6e71" stroke-width="0.55"/>
<line x1="407.3" y1="302.86" x2="409.3" y2="302.86" stroke="#6d6e71" stroke-width="0.55"/>
<line x1="409.3" y1="383.5" x2="471.8" y2="383.5" stroke="#6d6e71" stroke-width="0.6"/>
<line x1="410.1" y1="383.5" x2="410.1" y2="385.5" stroke="#6d6e71" stroke-width="0.55"/>
<line x1="429.6" y1="383.5" x2="429.6" y2="385.5" stroke="#6d6e71" stroke-width="0.55"/>
<line x1="448.9" y1="383.5" x2="448.9" y2="385.5" stroke="#6d6e71" stroke-width="0.55"/>
<line x1="468.6" y1="383.5" x2="468.6" y2="385.5" stroke="#6d6e71" stroke-width="0.55"/>
<line x1="413.04" y1="383.5" x2="413.04" y2="384.6" stroke="#6d6e71" stroke-width="0.45"/>
<line x1="422.79" y1="383.5" x2="422.79" y2="384.6" stroke="#6d6e71" stroke-width="0.45"/>
<line x1="414.75" y1="383.5" x2="414.75" y2="384.6" stroke="#6d6e71" stroke-width="0.45"/>
<line x1="424.5" y1="383.5" x2="424.5" y2="384.6" stroke="#6d6e71" stroke-width="0.45"/>
<line x1="415.97" y1="383.5" x2="415.97" y2="384.6" stroke="#6d6e71" stroke-width="0.45"/>
<line x1="425.72" y1="383.5" x2="425.72" y2="384.6" stroke="#6d6e71" stroke-width="0.45"/>
<line x1="416.91" y1="383.5" x2="416.91" y2="384.6" stroke="#6d6e71" stroke-width="0.45"/>
<line x1="426.66" y1="383.5" x2="426.66" y2="384.6" stroke="#6d6e71" stroke-width="0.45"/>
<line x1="417.69" y1="383.5" x2="417.69" y2="384.6" stroke="#6d6e71" stroke-width="0.45"/>
<line x1="427.44" y1="383.5" x2="427.44" y2="384.6" stroke="#6d6e71" stroke-width="0.45"/>
<line x1="418.34" y1="383.5" x2="418.34" y2="384.6" stroke="#6d6e71" stroke-width="0.45"/>
<line x1="428.09" y1="383.5" x2="428.09" y2="384.6" stroke="#6d6e71" stroke-width="0.45"/>
<line x1="418.91" y1="383.5" x2="418.91" y2="384.6" stroke="#6d6e71" stroke-width="0.45"/>
<line x1="428.66" y1="383.5" x2="428.66" y2="384.6" stroke="#6d6e71" stroke-width="0.45"/>
<line x1="419.4" y1="383.5" x2="419.4" y2="384.6" stroke="#6d6e71" stroke-width="0.45"/>
<line x1="429.15" y1="383.5" x2="429.15" y2="384.6" stroke="#6d6e71" stroke-width="0.45"/>
<line x1="432.5" y1="383.5" x2="432.5" y2="384.6" stroke="#6d6e71" stroke-width="0.45"/>
<line x1="442.15" y1="383.5" x2="442.15" y2="384.6" stroke="#6d6e71" stroke-width="0.45"/>
<line x1="434.2" y1="383.5" x2="434.2" y2="384.6" stroke="#6d6e71" stroke-width="0.45"/>
<line x1="443.85" y1="383.5" x2="443.85" y2="384.6" stroke="#6d6e71" stroke-width="0.45"/>
<line x1="435.41" y1="383.5" x2="435.41" y2="384.6" stroke="#6d6e71" stroke-width="0.45"/>
<line x1="445.06" y1="383.5" x2="445.06" y2="384.6" stroke="#6d6e71" stroke-width="0.45"/>
<line x1="436.35" y1="383.5" x2="436.35" y2="384.6" stroke="#6d6e71" stroke-width="0.45"/>
<line x1="446" y1="383.5" x2="446" y2="384.6" stroke="#6d6e71" stroke-width="0.45"/>
<line x1="437.11" y1="383.5" x2="437.11" y2="384.6" stroke="#6d6e71" stroke-width="0.45"/>
<line x1="446.76" y1="383.5" x2="446.76" y2="384.6" stroke="#6d6e71" stroke-width="0.45"/>
<line x1="437.76" y1="383.5" x2="437.76" y2="384.6" stroke="#6d6e71" stroke-width="0.45"/>
<line x1="447.41" y1="383.5" x2="447.41" y2="384.6" stroke="#6d6e71" stroke-width="0.45"/>
<line x1="438.31" y1="383.5" x2="438.31" y2="384.6" stroke="#6d6e71" stroke-width="0.45"/>
<line x1="447.96" y1="383.5" x2="447.96" y2="384.6" stroke="#6d6e71" stroke-width="0.45"/>
<line x1="438.81" y1="383.5" x2="438.81" y2="384.6" stroke="#6d6e71" stroke-width="0.45"/>
<line x1="448.46" y1="383.5" x2="448.46" y2="384.6" stroke="#6d6e71" stroke-width="0.45"/>
<line x1="451.87" y1="383.5" x2="451.87" y2="384.6" stroke="#6d6e71" stroke-width="0.45"/>
<line x1="461.72" y1="383.5" x2="461.72" y2="384.6" stroke="#6d6e71" stroke-width="0.45"/>
<line x1="453.6" y1="383.5" x2="453.6" y2="384.6" stroke="#6d6e71" stroke-width="0.45"/>
<line x1="463.45" y1="383.5" x2="463.45" y2="384.6" stroke="#6d6e71" stroke-width="0.45"/>
<line x1="454.83" y1="383.5" x2="454.83" y2="384.6" stroke="#6d6e71" stroke-width="0.45"/>
<line x1="464.68" y1="383.5" x2="464.68" y2="384.6" stroke="#6d6e71" stroke-width="0.45"/>
<line x1="455.78" y1="383.5" x2="455.78" y2="384.6" stroke="#6d6e71" stroke-width="0.45"/>
<line x1="465.63" y1="383.5" x2="465.63" y2="384.6" stroke="#6d6e71" stroke-width="0.45"/>
<line x1="456.56" y1="383.5" x2="456.56" y2="384.6" stroke="#6d6e71" stroke-width="0.45"/>
<line x1="466.41" y1="383.5" x2="466.41" y2="384.6" stroke="#6d6e71" stroke-width="0.45"/>
<line x1="457.22" y1="383.5" x2="457.22" y2="384.6" stroke="#6d6e71" stroke-width="0.45"/>
<line x1="467.07" y1="383.5" x2="467.07" y2="384.6" stroke="#6d6e71" stroke-width="0.45"/>
<line x1="457.8" y1="383.5" x2="457.8" y2="384.6" stroke="#6d6e71" stroke-width="0.45"/>
<line x1="467.65" y1="383.5" x2="467.65" y2="384.6" stroke="#6d6e71" stroke-width="0.45"/>
<line x1="458.3" y1="383.5" x2="458.3" y2="384.6" stroke="#6d6e71" stroke-width="0.45"/>
<line x1="468.15" y1="383.5" x2="468.15" y2="384.6" stroke="#6d6e71" stroke-width="0.45"/>
<text x="410.1" y="395.9" text-anchor="middle">0</text>
<text x="429.6" y="395.9" text-anchor="middle">10<tspan dy="-2.5" font-size="4.7">2</tspan></text>
<text x="448.9" y="395.9" text-anchor="middle">10<tspan dy="-2.5" font-size="4.7">4</tspan></text>
<text x="468.6" y="395.9" text-anchor="middle">10<tspan dy="-2.5" font-size="4.7">6</tspan></text>
<filter id="bl1" x="-30%" y="-30%" width="160%" height="160%"><feGaussianBlur stdDeviation="0.75"/></filter>
<g>
<path d="M287.4,245.1 C286.92,242.98 288.17,240.77 289.3,239.3 C290.43,237.83 292.9,237.93 294.2,236.3 C295.5,234.67 296.45,231.93 297.1,229.5 C297.75,227.07 297.45,223.65 298.1,221.7 C298.75,219.75 300.02,219.92 301,217.8 C301.98,215.68 303.02,210.8 304,209 C304.98,207.2 306.03,207 306.9,207 C307.77,207 308.62,207.53 309.2,209 C309.78,210.47 309.8,214.33 310.4,215.8 C311,217.27 312.47,215.85 312.8,217.8 C313.13,219.75 312.25,224.9 312.4,227.5 C312.55,230.1 313.9,231.93 313.7,233.4 C313.5,234.87 311.42,234.83 311.2,236.3 C310.98,237.77 311.98,240.4 312.4,242.2 C312.82,244 313.9,245.63 313.7,247.1 C313.5,248.57 312,249.7 311.2,251 C310.4,252.3 310.92,254.08 308.9,254.9 C306.88,255.72 301.88,256.38 299.1,255.9 C296.32,255.42 294.15,253.8 292.2,252 C290.25,250.2 287.88,247.22 287.4,245.1 Z" fill="#2d56a6"/>
<circle cx="316.3" cy="211.5" r="1.7" fill="#2d56a6"/>
<g filter="url(#bl1)">
<path d="M291.77,243.4 C291.42,241.71 292.32,239.94 293.14,238.76 C293.95,237.59 295.73,237.67 296.66,236.36 C297.6,235.06 298.28,232.87 298.75,230.92 C299.22,228.98 299,226.24 299.47,224.68 C299.94,223.12 300.85,223.26 301.56,221.56 C302.27,219.87 303.01,215.96 303.72,214.52 C304.43,213.08 305.18,212.92 305.81,212.92 C306.43,212.92 307.04,213.35 307.46,214.52 C307.88,215.7 307.9,218.79 308.33,219.96 C308.76,221.14 309.82,220 310.06,221.56 C310.3,223.12 309.66,227.24 309.77,229.32 C309.88,231.4 310.85,232.87 310.7,234.04 C310.56,235.22 309.06,235.19 308.9,236.36 C308.75,237.54 309.47,239.64 309.77,241.08 C310.07,242.52 310.85,243.83 310.7,245 C310.56,246.18 309.48,247.08 308.9,248.12 C308.33,249.16 308.7,250.59 307.25,251.24 C305.8,251.9 302.2,252.43 300.19,252.04 C298.19,251.66 296.63,250.36 295.22,248.92 C293.82,247.48 292.12,245.1 291.77,243.4 Z" fill="#3a7cc8"/>
<path d="M294.75,243.9 C294.51,242.73 295.13,241.51 295.7,240.71 C296.27,239.9 297.5,239.95 298.15,239.06 C298.8,238.16 299.28,236.65 299.6,235.32 C299.93,233.98 299.78,232.1 300.1,231.03 C300.43,229.95 301.06,230.04 301.55,228.88 C302.04,227.72 302.56,225.03 303.05,224.04 C303.54,223.05 304.07,222.94 304.5,222.94 C304.93,222.94 305.36,223.23 305.65,224.04 C305.94,224.85 305.95,226.97 306.25,227.78 C306.55,228.59 307.28,227.81 307.45,228.88 C307.62,229.95 307.18,232.79 307.25,234.22 C307.32,235.65 308,236.65 307.9,237.46 C307.8,238.27 306.76,238.25 306.65,239.06 C306.54,239.86 307.04,241.31 307.25,242.3 C307.46,243.29 308,244.19 307.9,245 C307.8,245.8 307.05,246.43 306.65,247.14 C306.25,247.86 306.51,248.84 305.5,249.29 C304.49,249.73 301.99,250.1 300.6,249.84 C299.21,249.57 298.12,248.68 297.15,247.69 C296.17,246.7 294.99,245.06 294.75,243.9 Z" fill="#3ec0ea"/>
<path d="M303.87,246.67 C304.69,243.49 307.11,217.4 307.29,214.12 C307.47,210.84 306.53,210.7 305.71,213.88 C304.89,217.06 299.31,242.65 299.13,245.93 C298.94,249.21 303.06,249.85 303.87,246.67 Z" fill="#3ec0ea"/>
<path d="M296.9,244.66 C296.74,243.81 297.16,242.92 297.55,242.34 C297.94,241.75 298.77,241.79 299.22,241.14 C299.66,240.48 299.98,239.39 300.2,238.42 C300.42,237.44 300.32,236.08 300.54,235.3 C300.76,234.52 301.19,234.58 301.53,233.74 C301.86,232.89 302.21,230.94 302.55,230.22 C302.88,229.5 303.24,229.42 303.53,229.42 C303.83,229.42 304.12,229.63 304.32,230.22 C304.51,230.8 304.52,232.35 304.72,232.94 C304.93,233.52 305.43,232.96 305.54,233.74 C305.65,234.52 305.35,236.58 305.4,237.62 C305.45,238.66 305.91,239.39 305.85,239.98 C305.78,240.56 305.07,240.55 305,241.14 C304.92,241.72 305.26,242.78 305.4,243.5 C305.55,244.22 305.91,244.87 305.85,245.46 C305.78,246.04 305.27,246.5 305,247.02 C304.72,247.54 304.9,248.25 304.21,248.58 C303.53,248.9 301.83,249.17 300.88,248.98 C299.94,248.78 299.2,248.14 298.54,247.42 C297.87,246.7 297.07,245.5 296.9,244.66 Z" fill="#5cb454"/>
<path d="M303.48,246.61 C304.06,244.55 305.27,227.54 305.34,225.4 C305.41,223.26 304.74,223.15 304.16,225.21 C303.58,227.27 299.59,243.85 299.52,245.99 C299.46,248.13 302.89,248.67 303.48,246.61 Z" fill="#5cb454"/>
<ellipse cx="301.5" cy="246.3" rx="3.4" ry="4.2" fill="#e8e23a"/>
<ellipse cx="301.5" cy="246.3" rx="2.6" ry="3.3" fill="#f0901e"/>
<ellipse cx="301.5" cy="246.3" rx="1.7" ry="2.6" fill="#e41e26"/>
</g></g>
<filter id="bl2" x="-30%" y="-30%" width="160%" height="160%"><feGaussianBlur stdDeviation="0.75"/></filter>
<g>
<path d="M351.5,247.4 C350.93,245.78 351.43,242.2 352.1,240.6 C352.77,239 353.78,238.65 355.5,237.8 C357.22,236.95 360.5,236.27 362.4,235.5 C364.3,234.73 365.87,234.15 366.9,233.2 C367.93,232.25 368.32,231.13 368.6,229.8 C368.88,228.47 368.22,226.43 368.6,225.2 C368.98,223.97 370.03,223.45 370.9,222.4 C371.77,221.35 373.03,220.33 373.8,218.9 C374.57,217.47 374.93,215.32 375.5,213.8 C376.07,212.28 376.63,210.47 377.2,209.8 C377.77,209.13 378.48,209.03 378.9,209.8 C379.32,210.57 379.52,212.12 379.7,214.4 C379.88,216.68 379.85,221.22 380,223.5 C380.15,225.78 380.35,227.15 380.6,228.1 C380.85,229.05 381.5,228.45 381.5,229.2 C381.5,229.95 380.65,230.88 380.6,232.6 C380.55,234.32 380.92,237.78 381.2,239.5 C381.48,241.22 382.22,241.58 382.3,242.9 C382.38,244.22 382.08,246.07 381.7,247.4 C381.32,248.73 380.57,249.95 380,250.9 C379.43,251.85 379.15,252.35 378.3,253.1 C377.45,253.85 376.6,255.02 374.9,255.4 C373.2,255.78 370.38,255.87 368.1,255.4 C365.82,254.93 363.3,253.45 361.2,252.6 C359.1,251.75 357.12,251.17 355.5,250.3 C353.88,249.43 352.07,249.02 351.5,247.4 Z" fill="#2d56a6"/>
<g filter="url(#bl2)">
<path d="M354.39,246.49 C353.91,245.12 354.34,242.07 354.9,240.71 C355.47,239.35 356.33,239.06 357.79,238.33 C359.25,237.61 362.04,237.03 363.66,236.38 C365.27,235.73 366.6,235.23 367.48,234.42 C368.36,233.61 368.69,232.67 368.93,231.53 C369.17,230.4 368.6,228.67 368.93,227.62 C369.25,226.57 370.15,226.13 370.88,225.24 C371.62,224.35 372.7,223.49 373.35,222.27 C374,221.05 374.31,219.22 374.79,217.93 C375.27,216.64 375.76,215.1 376.24,214.53 C376.72,213.97 377.33,213.88 377.68,214.53 C378.04,215.18 378.21,216.5 378.36,218.44 C378.52,220.38 378.49,224.24 378.62,226.18 C378.74,228.12 378.91,229.28 379.13,230.09 C379.34,230.9 379.89,230.38 379.89,231.02 C379.89,231.66 379.17,232.45 379.13,233.91 C379.08,235.37 379.4,238.32 379.64,239.78 C379.88,241.24 380.5,241.55 380.57,242.67 C380.64,243.79 380.39,245.36 380.06,246.49 C379.74,247.63 379.1,248.66 378.62,249.47 C378.14,250.28 377.89,250.7 377.17,251.34 C376.45,251.98 375.73,252.97 374.28,253.29 C372.84,253.62 370.44,253.69 368.5,253.29 C366.56,252.9 364.42,251.63 362.64,250.91 C360.85,250.19 359.17,249.69 357.79,248.96 C356.42,248.22 354.87,247.87 354.39,246.49 Z" fill="#3a7cc8"/>
<path d="M358.98,245.65 C358.64,244.76 358.94,242.78 359.34,241.91 C359.74,241.03 360.35,240.83 361.38,240.37 C362.41,239.9 364.38,239.52 365.52,239.1 C366.66,238.68 367.6,238.36 368.22,237.83 C368.84,237.31 369.07,236.7 369.24,235.97 C369.41,235.23 369.01,234.11 369.24,233.44 C369.47,232.76 370.1,232.47 370.62,231.9 C371.14,231.32 371.9,230.76 372.36,229.97 C372.82,229.18 373.04,228 373.38,227.17 C373.72,226.33 374.06,225.33 374.4,224.97 C374.74,224.6 375.17,224.54 375.42,224.97 C375.67,225.39 375.79,226.24 375.9,227.5 C376.01,228.75 375.99,231.24 376.08,232.5 C376.17,233.76 376.29,234.51 376.44,235.03 C376.59,235.55 376.98,235.22 376.98,235.63 C376.98,236.05 376.47,236.56 376.44,237.5 C376.41,238.45 376.63,240.36 376.8,241.3 C376.97,242.24 377.41,242.45 377.46,243.17 C377.51,243.89 377.33,244.91 377.1,245.65 C376.87,246.38 376.42,247.05 376.08,247.57 C375.74,248.09 375.57,248.37 375.06,248.78 C374.55,249.19 374.04,249.83 373.02,250.05 C372,250.26 370.31,250.3 368.94,250.05 C367.57,249.79 366.06,248.97 364.8,248.5 C363.54,248.04 362.35,247.72 361.38,247.24 C360.41,246.76 359.32,246.53 358.98,245.65 Z" fill="#3ec0ea"/>
<path d="M371.65,243.89 C372.44,241.8 376.31,224.39 376.68,222.18 C377.04,219.98 376.12,219.72 375.32,221.82 C374.53,223.91 369.12,240.9 368.75,243.11 C368.38,245.32 370.86,245.98 371.65,243.89 Z" fill="#3ec0ea"/>
<path d="M363.09,244.98 C362.88,244.37 363.07,243.01 363.32,242.4 C363.58,241.79 363.96,241.66 364.61,241.33 C365.27,241.01 366.51,240.75 367.24,240.46 C367.96,240.17 368.55,239.95 368.95,239.59 C369.34,239.22 369.48,238.8 369.59,238.29 C369.7,237.79 369.45,237.01 369.59,236.55 C369.74,236.08 370.14,235.88 370.47,235.48 C370.8,235.08 371.28,234.7 371.57,234.15 C371.86,233.61 372,232.79 372.21,232.21 C372.43,231.64 372.64,230.95 372.86,230.69 C373.08,230.44 373.35,230.4 373.51,230.69 C373.66,230.99 373.74,231.57 373.81,232.44 C373.88,233.31 373.87,235.03 373.92,235.9 C373.98,236.77 374.06,237.29 374.15,237.65 C374.25,238.01 374.49,237.78 374.49,238.07 C374.49,238.35 374.17,238.71 374.15,239.36 C374.13,240.01 374.27,241.33 374.38,241.98 C374.49,242.63 374.77,242.77 374.8,243.27 C374.83,243.77 374.72,244.48 374.57,244.98 C374.42,245.49 374.14,245.95 373.92,246.31 C373.71,246.67 373.6,246.86 373.28,247.15 C372.96,247.43 372.63,247.88 371.99,248.02 C371.34,248.17 370.27,248.2 369.4,248.02 C368.53,247.84 367.58,247.28 366.78,246.96 C365.98,246.63 365.23,246.41 364.61,246.08 C364,245.75 363.31,245.6 363.09,244.98 Z" fill="#5cb454"/>
<path d="M371.36,243.81 C371.71,243.21 372.52,237.9 372.52,237.21 C372.52,236.51 371.71,236.3 371.36,236.89 C371.01,237.49 369.04,242.5 369.04,243.19 C369.04,243.88 371.01,244.41 371.36,243.81 Z" fill="#5cb454"/>
<ellipse cx="370.2" cy="243.5" rx="3.4" ry="3.6" fill="#e8e23a"/>
<ellipse cx="370.2" cy="243.5" rx="2.6" ry="2.9" fill="#f0901e"/>
<ellipse cx="370.2" cy="243.5" rx="1.8" ry="2.3" fill="#e41e26"/>
</g></g>
<filter id="bl3" x="-30%" y="-30%" width="160%" height="160%"><feGaussianBlur stdDeviation="0.75"/></filter>
<g>
<path d="M422.5,247 C422.4,245.77 421.85,242.53 423.1,241.3 C424.35,240.07 427.82,240.93 430,239.6 C432.18,238.27 434.78,235.3 436.2,233.3 C437.62,231.3 437.35,229.4 438.5,227.6 C439.65,225.8 441.97,223.83 443.1,222.5 C444.23,221.17 444.63,221.22 445.3,219.6 C445.97,217.98 446.62,215.45 447.1,212.8 C447.58,210.15 447.73,205.98 448.2,203.7 C448.67,201.42 449.13,199.48 449.9,199.1 C450.67,198.72 452.23,199.12 452.8,201.4 C453.37,203.68 452.93,209.57 453.3,212.8 C453.67,216.03 454.43,218.9 455,220.8 C455.57,222.7 456.12,223.07 456.7,224.2 C457.28,225.33 458.5,226.27 458.5,227.6 C458.5,228.93 456.9,230.48 456.7,232.2 C456.5,233.92 457.38,236 457.3,237.9 C457.22,239.8 456.87,241.88 456.2,243.6 C455.53,245.32 454.07,246.78 453.3,248.2 C452.53,249.62 452.73,250.82 451.6,252.1 C450.47,253.38 448.68,255.6 446.5,255.9 C444.32,256.2 440.97,254.62 438.5,253.9 C436.03,253.18 434.17,252.47 431.7,251.6 C429.23,250.73 425.23,249.47 423.7,248.7 C422.17,247.93 422.6,248.23 422.5,247 Z" fill="#2d56a6"/>
<g filter="url(#bl3)">
<path d="M428.67,244.83 C428.6,243.84 428.2,241.26 429.1,240.27 C430,239.28 432.5,239.98 434.07,238.91 C435.64,237.84 437.52,235.47 438.54,233.87 C439.56,232.27 439.36,230.75 440.19,229.31 C441.02,227.87 442.69,226.3 443.5,225.23 C444.32,224.16 444.61,224.2 445.09,222.91 C445.57,221.62 446.04,219.59 446.38,217.47 C446.73,215.35 446.84,212.02 447.18,210.19 C447.51,208.36 447.85,206.82 448.4,206.51 C448.95,206.2 450.08,206.52 450.49,208.35 C450.9,210.18 450.58,214.88 450.85,217.47 C451.11,220.06 451.66,222.35 452.07,223.87 C452.48,225.39 452.88,225.68 453.3,226.59 C453.72,227.5 454.59,228.24 454.59,229.31 C454.59,230.38 453.44,231.62 453.3,232.99 C453.15,234.36 453.79,236.03 453.73,237.55 C453.67,239.07 453.42,240.74 452.94,242.11 C452.46,243.48 451.4,244.66 450.85,245.79 C450.3,246.92 450.44,247.88 449.62,248.91 C448.81,249.94 447.52,251.71 445.95,251.95 C444.38,252.19 441.97,250.92 440.19,250.35 C438.42,249.78 437.07,249.2 435.3,248.51 C433.52,247.82 430.64,246.8 429.54,246.19 C428.43,245.58 428.74,245.82 428.67,244.83 Z" fill="#3a7cc8"/>
<path d="M432.82,244.91 C432.77,244.23 432.49,242.46 433.12,241.78 C433.74,241.1 435.48,241.58 436.57,240.84 C437.66,240.11 438.96,238.48 439.67,237.38 C440.38,236.28 440.24,235.23 440.82,234.24 C441.39,233.25 442.55,232.17 443.12,231.44 C443.68,230.7 443.88,230.73 444.22,229.84 C444.55,228.95 444.88,227.56 445.12,226.1 C445.36,224.64 445.43,222.35 445.67,221.1 C445.9,219.84 446.13,218.78 446.52,218.57 C446.9,218.36 447.68,218.58 447.97,219.83 C448.25,221.09 448.03,224.32 448.22,226.1 C448.4,227.88 448.78,229.46 449.07,230.5 C449.35,231.55 449.63,231.75 449.92,232.37 C450.21,233 450.82,233.51 450.82,234.24 C450.82,234.98 450.02,235.83 449.92,236.77 C449.82,237.72 450.26,238.86 450.22,239.91 C450.18,240.95 450,242.1 449.67,243.04 C449.33,243.99 448.6,244.79 448.22,245.57 C447.83,246.35 447.93,247.01 447.37,247.72 C446.8,248.42 445.91,249.64 444.82,249.81 C443.73,249.97 442.05,249.1 440.82,248.71 C439.58,248.31 438.65,247.92 437.42,247.44 C436.18,246.97 434.18,246.27 433.42,245.85 C432.65,245.43 432.87,245.59 432.82,244.91 Z" fill="#3ec0ea"/>
<path d="M444.54,247.03 C445.63,243.65 450.31,215.7 450.78,212.18 C451.25,208.66 450.31,208.44 449.22,211.82 C448.13,215.2 440.33,242.45 439.86,245.97 C439.39,249.49 443.45,250.41 444.54,247.03 Z" fill="#3ec0ea"/>
<path d="M435.81,245.46 C435.78,244.96 435.59,243.67 436.01,243.18 C436.44,242.68 437.62,243.03 438.36,242.5 C439.1,241.96 439.99,240.78 440.47,239.98 C440.95,239.18 440.86,238.42 441.25,237.7 C441.64,236.98 442.43,236.19 442.81,235.66 C443.2,235.12 443.34,235.14 443.56,234.5 C443.79,233.85 444.01,232.84 444.17,231.78 C444.34,230.72 444.39,229.05 444.55,228.14 C444.71,227.22 444.87,226.45 445.13,226.3 C445.39,226.14 445.92,226.3 446.11,227.22 C446.31,228.13 446.16,230.48 446.28,231.78 C446.41,233.07 446.67,234.22 446.86,234.98 C447.05,235.74 447.24,235.88 447.44,236.34 C447.64,236.79 448.05,237.16 448.05,237.7 C448.05,238.23 447.51,238.85 447.44,239.54 C447.37,240.22 447.67,241.06 447.64,241.82 C447.61,242.58 447.5,243.41 447.27,244.1 C447.04,244.78 446.54,245.37 446.28,245.94 C446.02,246.5 446.09,246.98 445.7,247.5 C445.32,248.01 444.71,248.9 443.97,249.02 C443.23,249.14 442.09,248.5 441.25,248.22 C440.41,247.93 439.78,247.64 438.94,247.3 C438.1,246.95 436.74,246.44 436.22,246.14 C435.7,245.83 435.84,245.95 435.81,245.46 Z" fill="#5cb454"/>
<path d="M444.15,246.94 C444.91,244.76 447.6,226.51 447.86,224.21 C448.11,221.91 447.45,221.76 446.68,223.94 C445.92,226.13 440.5,243.76 440.25,246.06 C440,248.36 443.39,249.13 444.15,246.94 Z" fill="#5cb454"/>
<ellipse cx="442.2" cy="246.5" rx="3.4" ry="4.2" fill="#e8e23a"/>
<ellipse cx="442.2" cy="246.5" rx="2.6" ry="3.3" fill="#f0901e"/>
<ellipse cx="442.2" cy="246.5" rx="1.7" ry="2.6" fill="#e41e26"/>
</g></g>
<filter id="bl4" x="-30%" y="-30%" width="160%" height="160%"><feGaussianBlur stdDeviation="0.75"/></filter>
<g>
<path d="M282,371.4 C282.38,370.35 285.4,369.23 287.1,368 C288.8,366.77 291.25,365.62 292.2,364 C293.15,362.38 292.42,360 292.8,358.3 C293.18,356.6 294.32,355.32 294.5,353.8 C294.68,352.28 293.52,350.25 293.9,349.2 C294.28,348.15 295.65,348.07 296.8,347.5 C297.95,346.93 299.85,347.22 300.8,345.8 C301.75,344.38 301.55,340.43 302.5,339 C303.45,337.57 305.17,337.68 306.5,337.2 C307.83,336.72 310.12,337.13 310.5,336.1 C310.88,335.07 309.47,332.43 308.8,331 C308.13,329.57 306.7,328.83 306.5,327.5 C306.3,326.17 306.93,324.32 307.6,323 C308.27,321.68 309.63,319.5 310.5,319.6 C311.37,319.7 312.42,321.7 312.8,323.6 C313.18,325.5 312.52,328.82 312.8,331 C313.08,333.18 313.55,335.85 314.5,336.7 C315.45,337.55 317.55,335.53 318.5,336.1 C319.45,336.67 320.02,338.68 320.2,340.1 C320.38,341.52 320.18,343.08 319.6,344.6 C319.02,346.12 317.18,347.58 316.7,349.2 C316.22,350.82 317.07,352.4 316.7,354.3 C316.33,356.2 315.25,358.6 314.5,360.6 C313.75,362.6 312.87,364.22 312.2,366.3 C311.53,368.38 311.07,371.1 310.5,373.1 C309.93,375.1 309.85,376.77 308.8,378.3 C307.75,379.83 306.1,381.83 304.2,382.3 C302.3,382.77 299.68,381.87 297.4,381.1 C295.12,380.33 292.6,378.83 290.5,377.7 C288.4,376.57 286.22,375.35 284.8,374.3 C283.38,373.25 281.62,372.45 282,371.4 Z" fill="#2d56a6"/>
<g filter="url(#bl4)">
<path d="M287.78,369.72 C288.06,368.88 290.23,367.99 291.46,367 C292.68,366.01 294.44,365.09 295.13,363.8 C295.81,362.51 295.28,360.6 295.56,359.24 C295.84,357.88 296.65,356.85 296.78,355.64 C296.92,354.43 296.08,352.8 296.35,351.96 C296.63,351.12 297.61,351.05 298.44,350.6 C299.27,350.15 300.64,350.37 301.32,349.24 C302,348.11 301.86,344.95 302.54,343.8 C303.23,342.65 304.46,342.75 305.42,342.36 C306.38,341.97 308.03,342.31 308.3,341.48 C308.58,340.65 307.56,338.55 307.08,337.4 C306.6,336.25 305.57,335.67 305.42,334.6 C305.28,333.53 305.74,332.05 306.22,331 C306.7,329.95 307.68,328.2 308.3,328.28 C308.93,328.36 309.68,329.96 309.96,331.48 C310.24,333 309.76,335.65 309.96,337.4 C310.16,339.15 310.5,341.28 311.18,341.96 C311.87,342.64 313.38,341.03 314.06,341.48 C314.75,341.93 315.16,343.55 315.29,344.68 C315.42,345.81 315.28,347.07 314.86,348.28 C314.44,349.49 313.12,350.67 312.77,351.96 C312.42,353.25 313.03,354.52 312.77,356.04 C312.5,357.56 311.72,359.48 311.18,361.08 C310.64,362.68 310.01,363.97 309.53,365.64 C309.05,367.31 308.71,369.48 308.3,371.08 C307.9,372.68 307.84,374.01 307.08,375.24 C306.32,376.47 305.14,378.07 303.77,378.44 C302.4,378.81 300.52,378.09 298.87,377.48 C297.23,376.87 295.42,375.67 293.9,374.76 C292.39,373.85 290.82,372.88 289.8,372.04 C288.78,371.2 287.51,370.56 287.78,369.72 Z" fill="#3a7cc8"/>
<path d="M291.77,370.05 C291.96,369.47 293.47,368.86 294.32,368.18 C295.17,367.5 296.4,366.87 296.87,365.98 C297.35,365.09 296.98,363.78 297.17,362.84 C297.36,361.91 297.93,361.2 298.02,360.37 C298.11,359.54 297.53,358.42 297.72,357.84 C297.91,357.26 298.6,357.22 299.17,356.9 C299.75,356.59 300.7,356.75 301.17,355.97 C301.65,355.19 301.55,353.02 302.02,352.23 C302.5,351.44 303.36,351.51 304.02,351.24 C304.69,350.97 305.83,351.2 306.02,350.63 C306.21,350.07 305.51,348.62 305.17,347.83 C304.84,347.04 304.12,346.64 304.02,345.9 C303.92,345.17 304.24,344.15 304.57,343.43 C304.91,342.71 305.59,341.5 306.02,341.56 C306.46,341.62 306.98,342.71 307.17,343.76 C307.36,344.81 307.03,346.63 307.17,347.83 C307.31,349.03 307.55,350.5 308.02,350.96 C308.5,351.43 309.55,350.32 310.02,350.63 C310.5,350.95 310.78,352.06 310.87,352.83 C310.96,353.61 310.86,354.48 310.57,355.31 C310.28,356.14 309.36,356.95 309.12,357.84 C308.88,358.73 309.31,359.6 309.12,360.64 C308.94,361.69 308.4,363.01 308.02,364.11 C307.65,365.21 307.21,366.1 306.87,367.25 C306.54,368.39 306.31,369.88 306.02,370.99 C305.74,372.09 305.7,373 305.17,373.84 C304.65,374.69 303.82,375.79 302.87,376.05 C301.92,376.3 300.61,375.81 299.47,375.38 C298.33,374.96 297.07,374.14 296.02,373.51 C294.97,372.89 293.88,372.22 293.17,371.64 C292.46,371.07 291.58,370.63 291.77,370.05 Z" fill="#3ec0ea"/>
<path d="M303.15,372.49 C304.08,369.55 307.48,345.23 307.78,342.16 C308.09,339.1 307.15,338.9 306.22,341.84 C305.28,344.77 298.76,368.45 298.45,371.51 C298.14,374.58 302.22,375.42 303.15,372.49 Z" fill="#3ec0ea"/>
<path d="M294.65,370.68 C294.78,370.26 295.81,369.81 296.39,369.32 C296.97,368.83 297.8,368.37 298.12,367.72 C298.44,367.07 298.2,366.12 298.33,365.44 C298.46,364.76 298.84,364.25 298.9,363.64 C298.97,363.03 298.57,362.22 298.7,361.8 C298.83,361.38 299.29,361.35 299.69,361.12 C300.08,360.89 300.72,361.01 301.05,360.44 C301.37,359.87 301.3,358.29 301.62,357.72 C301.95,357.15 302.53,357.19 302.98,357 C303.44,356.81 304.21,356.97 304.34,356.56 C304.47,356.15 303.99,355.09 303.77,354.52 C303.54,353.95 303.05,353.65 302.98,353.12 C302.92,352.59 303.13,351.85 303.36,351.32 C303.58,350.79 304.05,349.92 304.34,349.96 C304.64,350 305,350.8 305.13,351.56 C305.26,352.32 305.03,353.65 305.13,354.52 C305.22,355.39 305.38,356.46 305.7,356.8 C306.03,357.14 306.74,356.33 307.06,356.56 C307.39,356.79 307.58,357.59 307.64,358.16 C307.7,358.73 307.64,359.35 307.44,359.96 C307.24,360.57 306.62,361.15 306.45,361.8 C306.29,362.45 306.58,363.08 306.45,363.84 C306.33,364.6 305.96,365.56 305.7,366.36 C305.45,367.16 305.15,367.81 304.92,368.64 C304.69,369.47 304.54,370.56 304.34,371.36 C304.15,372.16 304.12,372.83 303.77,373.44 C303.41,374.05 302.85,374.85 302.2,375.04 C301.56,375.23 300.67,374.87 299.89,374.56 C299.11,374.25 298.26,373.65 297.54,373.2 C296.83,372.75 296.09,372.26 295.61,371.84 C295.12,371.42 294.52,371.1 294.65,370.68 Z" fill="#5cb454"/>
<path d="M302.76,372.4 C303.42,370.51 305.27,354.62 305.42,352.62 C305.57,350.62 304.9,350.48 304.24,352.38 C303.58,354.28 298.99,369.59 298.84,371.6 C298.69,373.6 302.1,374.3 302.76,372.4 Z" fill="#5cb454"/>
<ellipse cx="300.8" cy="372" rx="3.4" ry="4.2" fill="#e8e23a"/>
<ellipse cx="300.8" cy="372" rx="2.6" ry="3.3" fill="#f0901e"/>
<ellipse cx="300.8" cy="372" rx="1.7" ry="2.6" fill="#e41e26"/>
</g></g>
<filter id="bl5" x="-30%" y="-30%" width="160%" height="160%"><feGaussianBlur stdDeviation="0.75"/></filter>
<g>
<path d="M358.6,370.2 C358.6,369.25 359.27,367.75 360.3,366.7 C361.33,365.65 363.48,364.85 364.8,363.9 C366.12,362.95 367.72,362.52 368.2,361 C368.68,359.48 367.22,356.12 367.7,354.8 C368.18,353.48 370.25,354.33 371.1,353.1 C371.95,351.87 372.23,349.12 372.8,347.4 C373.37,345.68 373.73,344.8 374.5,342.8 C375.27,340.8 376.45,337.02 377.4,335.4 C378.35,333.78 379.35,333.1 380.2,333.1 C381.05,333.1 381.93,334.07 382.5,335.4 C383.07,336.73 383.32,339.1 383.6,341.1 C383.88,343.1 383.62,346.55 384.2,347.4 C384.78,348.25 386.25,346.12 387.1,346.2 C387.95,346.28 389.12,346.95 389.3,347.9 C389.48,348.85 388.67,350.85 388.2,351.9 C387.73,352.95 386.78,353.05 386.5,354.2 C386.22,355.35 386.88,357.47 386.5,358.8 C386.12,360.13 384.87,360.68 384.2,362.2 C383.53,363.72 383.07,366 382.5,367.9 C381.93,369.8 381.47,371.9 380.8,373.6 C380.13,375.3 379.45,376.87 378.5,378.1 C377.55,379.33 376.82,380.62 375.1,381 C373.38,381.38 370.3,381.07 368.2,380.4 C366.1,379.73 363.82,378.33 362.5,377 C361.18,375.67 360.95,373.53 360.3,372.4 C359.65,371.27 358.6,371.15 358.6,370.2 Z" fill="#2d56a6"/>
<g filter="url(#bl5)">
<path d="M363.17,369.18 C363.17,368.42 363.65,367.22 364.4,366.38 C365.14,365.54 366.69,364.9 367.64,364.14 C368.58,363.38 369.74,363.03 370.08,361.82 C370.43,360.6 369.38,357.91 369.72,356.86 C370.07,355.8 371.56,356.48 372.17,355.5 C372.78,354.51 372.99,352.31 373.4,350.94 C373.8,349.56 374.07,348.86 374.62,347.26 C375.17,345.66 376.02,342.63 376.71,341.34 C377.39,340.04 378.11,339.5 378.72,339.5 C379.34,339.5 379.97,340.27 380.38,341.34 C380.79,342.4 380.97,344.3 381.17,345.9 C381.38,347.5 381.18,350.26 381.6,350.94 C382.02,351.62 383.08,349.91 383.69,349.98 C384.3,350.04 385.14,350.58 385.28,351.34 C385.41,352.1 384.82,353.7 384.48,354.54 C384.15,355.38 383.46,355.46 383.26,356.38 C383.06,357.3 383.54,358.99 383.26,360.06 C382.98,361.12 382.08,361.56 381.6,362.78 C381.12,363.99 380.79,365.82 380.38,367.34 C379.97,368.86 379.64,370.54 379.16,371.9 C378.68,373.26 378.18,374.51 377.5,375.5 C376.82,376.48 376.29,377.51 375.05,377.82 C373.82,378.12 371.6,377.87 370.08,377.34 C368.57,376.8 366.93,375.68 365.98,374.62 C365.03,373.55 364.86,371.84 364.4,370.94 C363.93,370.03 363.17,369.94 363.17,369.18 Z" fill="#3a7cc8"/>
<path d="M366.31,369.87 C366.31,369.35 366.64,368.52 367.16,367.95 C367.67,367.37 368.75,366.93 369.41,366.41 C370.06,365.88 370.86,365.65 371.11,364.81 C371.35,363.98 370.61,362.13 370.86,361.4 C371.1,360.68 372.13,361.15 372.56,360.47 C372.98,359.79 373.12,358.28 373.41,357.33 C373.69,356.39 373.87,355.9 374.26,354.8 C374.64,353.7 375.23,351.62 375.71,350.73 C376.18,349.84 376.68,349.47 377.11,349.47 C377.53,349.47 377.97,350 378.26,350.73 C378.54,351.47 378.66,352.77 378.81,353.87 C378.95,354.97 378.81,356.86 379.11,357.33 C379.4,357.8 380.13,356.63 380.56,356.67 C380.98,356.72 381.56,357.08 381.66,357.61 C381.75,358.13 381.34,359.23 381.11,359.81 C380.87,360.38 380.4,360.44 380.26,361.07 C380.11,361.7 380.45,362.87 380.26,363.6 C380.06,364.34 379.44,364.64 379.11,365.47 C378.77,366.31 378.54,367.56 378.26,368.61 C377.97,369.65 377.74,370.81 377.41,371.74 C377.07,372.68 376.73,373.54 376.26,374.22 C375.78,374.9 375.41,375.6 374.56,375.81 C373.7,376.02 372.16,375.85 371.11,375.48 C370.06,375.12 368.91,374.35 368.26,373.61 C367.6,372.88 367.48,371.71 367.16,371.08 C366.83,370.46 366.31,370.39 366.31,369.87 Z" fill="#3ec0ea"/>
<path d="M375.75,372.89 C376.57,370.52 379.09,350.67 379.28,348.16 C379.48,345.66 378.54,345.46 377.72,347.84 C376.89,350.21 371.25,369.4 371.05,371.91 C370.85,374.41 374.93,375.27 375.75,372.89 Z" fill="#3ec0ea"/>
<path d="M368.57,370.64 C368.57,370.26 368.8,369.66 369.15,369.24 C369.5,368.82 370.23,368.5 370.68,368.12 C371.13,367.74 371.67,367.57 371.83,366.96 C372,366.35 371.5,365.01 371.66,364.48 C371.83,363.95 372.53,364.29 372.82,363.8 C373.11,363.31 373.21,362.21 373.4,361.52 C373.59,360.83 373.72,360.48 373.98,359.68 C374.24,358.88 374.64,357.37 374.96,356.72 C375.28,356.07 375.62,355.8 375.91,355.8 C376.2,355.8 376.5,356.19 376.7,356.72 C376.89,357.25 376.97,358.2 377.07,359 C377.17,359.8 377.08,361.18 377.27,361.52 C377.47,361.86 377.97,361.01 378.26,361.04 C378.55,361.07 378.95,361.34 379.01,361.72 C379.07,362.1 378.79,362.9 378.63,363.32 C378.48,363.74 378.15,363.78 378.06,364.24 C377.96,364.7 378.19,365.55 378.06,366.08 C377.93,366.61 377.5,366.83 377.27,367.44 C377.05,368.05 376.89,368.96 376.7,369.72 C376.5,370.48 376.34,371.32 376.12,372 C375.89,372.68 375.66,373.31 375.34,373.8 C375.01,374.29 374.76,374.81 374.18,374.96 C373.6,375.11 372.55,374.99 371.83,374.72 C371.12,374.45 370.34,373.89 369.9,373.36 C369.45,372.83 369.37,371.97 369.15,371.52 C368.93,371.07 368.57,371.02 368.57,370.64 Z" fill="#5cb454"/>
<path d="M375.36,372.81 C375.94,371.28 377.23,358.3 377.3,356.66 C377.38,355.02 376.71,354.88 376.13,356.42 C375.54,357.95 371.52,370.35 371.44,371.99 C371.37,373.63 374.77,374.34 375.36,372.81 Z" fill="#5cb454"/>
<ellipse cx="373.4" cy="372.4" rx="3.4" ry="4.2" fill="#e8e23a"/>
<ellipse cx="373.4" cy="372.4" rx="2.6" ry="3.3" fill="#f0901e"/>
<ellipse cx="373.4" cy="372.4" rx="1.7" ry="2.6" fill="#e41e26"/>
</g></g>
<filter id="bl6" x="-30%" y="-30%" width="160%" height="160%"><feGaussianBlur stdDeviation="0.75"/></filter>
<g>
<path d="M432.5,369 C432.78,367.48 434.03,366.55 434.8,365.6 C435.57,364.65 436.53,364.82 437.1,363.3 C437.67,361.78 437.92,358.68 438.2,356.5 C438.48,354.32 438.13,351.53 438.8,350.2 C439.47,348.87 441.35,349.73 442.2,348.5 C443.05,347.27 442.85,345.17 443.9,342.8 C444.95,340.43 447.35,336.02 448.5,334.3 C449.65,332.58 449.95,332.98 450.8,332.5 C451.65,332.02 453.03,330.82 453.6,331.4 C454.17,331.98 454,334.1 454.2,336 C454.4,337.9 454.62,340.72 454.8,342.8 C454.98,344.88 454.83,347.17 455.3,348.5 C455.77,349.83 457.4,349.85 457.6,350.8 C457.8,351.75 456.58,352.87 456.5,354.2 C456.42,355.53 457.3,357.47 457.1,358.8 C456.9,360.13 455.68,360.68 455.3,362.2 C454.92,363.72 454.98,366 454.8,367.9 C454.62,369.8 454.48,371.9 454.2,373.6 C453.92,375.3 453.87,376.77 453.1,378.1 C452.33,379.43 451.13,381.02 449.6,381.6 C448.07,382.18 445.98,381.98 443.9,381.6 C441.82,381.22 438.9,380.45 437.1,379.3 C435.3,378.15 433.87,376.42 433.1,374.7 C432.33,372.98 432.22,370.52 432.5,369 Z" fill="#2d56a6"/>
<circle cx="458.5" cy="342.5" r="1.6" fill="#2d56a6"/>
<g filter="url(#bl6)">
<path d="M436.22,368.04 C436.43,366.82 437.33,366.08 437.88,365.32 C438.43,364.56 439.13,364.69 439.54,363.48 C439.94,362.26 440.12,359.78 440.33,358.04 C440.53,356.29 440.28,354.06 440.76,353 C441.24,351.93 442.6,352.62 443.21,351.64 C443.82,350.65 443.68,348.97 444.43,347.08 C445.19,345.18 446.92,341.65 447.74,340.28 C448.57,338.9 448.79,339.22 449.4,338.84 C450.01,338.45 451.01,337.49 451.42,337.96 C451.82,338.42 451.7,340.12 451.85,341.64 C451.99,343.16 452.15,345.41 452.28,347.08 C452.41,348.74 452.3,350.57 452.64,351.64 C452.98,352.7 454.15,352.72 454.3,353.48 C454.44,354.24 453.56,355.13 453.5,356.2 C453.44,357.26 454.08,358.81 453.94,359.88 C453.79,360.94 452.92,361.38 452.64,362.6 C452.36,363.81 452.41,365.64 452.28,367.16 C452.15,368.68 452.05,370.36 451.85,371.72 C451.64,373.08 451.61,374.25 451.06,375.32 C450.5,376.38 449.64,377.65 448.54,378.12 C447.43,378.58 445.93,378.42 444.43,378.12 C442.93,377.81 440.83,377.2 439.54,376.28 C438.24,375.36 437.21,373.97 436.66,372.6 C436.1,371.22 436.02,369.25 436.22,368.04 Z" fill="#3a7cc8"/>
<path d="M438.61,369.05 C438.75,368.22 439.38,367.7 439.76,367.18 C440.14,366.66 440.63,366.75 440.91,365.92 C441.19,365.08 441.32,363.38 441.46,362.18 C441.6,360.97 441.43,359.44 441.76,358.71 C442.09,357.98 443.04,358.45 443.46,357.78 C443.89,357.1 443.79,355.94 444.31,354.64 C444.83,353.34 446.04,350.91 446.61,349.97 C447.19,349.02 447.33,349.24 447.76,348.98 C448.19,348.71 448.88,348.05 449.16,348.37 C449.44,348.69 449.36,349.86 449.46,350.9 C449.56,351.95 449.67,353.49 449.76,354.64 C449.85,355.79 449.78,357.04 450.01,357.78 C450.24,358.51 451.06,358.52 451.16,359.04 C451.26,359.56 450.65,360.18 450.61,360.91 C450.57,361.64 451.01,362.71 450.91,363.44 C450.81,364.17 450.2,364.48 450.01,365.31 C449.82,366.14 449.85,367.4 449.76,368.45 C449.67,369.49 449.6,370.65 449.46,371.58 C449.32,372.52 449.29,373.32 448.91,374.06 C448.53,374.79 447.93,375.66 447.16,375.98 C446.39,376.3 445.35,376.19 444.31,375.98 C443.27,375.77 441.81,375.35 440.91,374.72 C440.01,374.08 439.29,373.13 438.91,372.19 C438.53,371.24 438.47,369.88 438.61,369.05 Z" fill="#3ec0ea"/>
<path d="M446.34,372.91 C447.26,370.24 450.49,347.98 450.78,345.17 C451.07,342.36 450.13,342.16 449.22,344.83 C448.31,347.5 441.94,369.08 441.66,371.89 C441.37,374.7 445.43,375.58 446.34,372.91 Z" fill="#3ec0ea"/>
<path d="M440.33,370.05 C440.42,369.45 440.85,369.07 441.11,368.69 C441.37,368.31 441.7,368.38 441.89,367.77 C442.08,367.17 442.17,365.93 442.27,365.05 C442.36,364.18 442.24,363.07 442.47,362.53 C442.7,362 443.34,362.35 443.63,361.85 C443.91,361.36 443.85,360.52 444.2,359.57 C444.56,358.63 445.38,356.86 445.77,356.17 C446.16,355.49 446.26,355.65 446.55,355.45 C446.84,355.26 447.31,354.78 447.5,355.01 C447.69,355.25 447.64,356.09 447.71,356.85 C447.77,357.61 447.85,358.74 447.91,359.57 C447.97,360.41 447.92,361.32 448.08,361.85 C448.24,362.39 448.79,362.39 448.86,362.77 C448.93,363.15 448.52,363.6 448.49,364.13 C448.46,364.67 448.76,365.44 448.69,365.97 C448.62,366.51 448.21,366.73 448.08,367.33 C447.95,367.94 447.97,368.85 447.91,369.61 C447.85,370.37 447.8,371.21 447.71,371.89 C447.61,372.57 447.59,373.16 447.33,373.69 C447.07,374.23 446.66,374.86 446.14,375.09 C445.62,375.33 444.91,375.25 444.2,375.09 C443.5,374.94 442.5,374.63 441.89,374.17 C441.28,373.71 440.79,373.02 440.53,372.33 C440.27,371.65 440.23,370.66 440.33,370.05 Z" fill="#5cb454"/>
<path d="M445.95,372.83 C446.6,371.1 448.35,356.55 448.49,354.72 C448.62,352.88 447.96,352.74 447.31,354.46 C446.67,356.19 442.18,370.14 442.05,371.97 C441.91,373.81 445.31,374.55 445.95,372.83 Z" fill="#5cb454"/>
<ellipse cx="444" cy="372.4" rx="3.4" ry="4.2" fill="#e8e23a"/>
<ellipse cx="444" cy="372.4" rx="2.6" ry="3.3" fill="#f0901e"/>
<ellipse cx="444" cy="372.4" rx="1.7" ry="2.6" fill="#e41e26"/>
</g></g>
<rect x="302.6" y="182.7" width="25" height="72.8" fill="none" stroke="#231f20" stroke-width="0.75" stroke-dasharray="1.5,1.1"/>
<text x="327.9" y="179.6" text-anchor="end">CD44<tspan dy="-2.5" font-size="4.7">high</tspan></text>
<text x="315.1" y="191.2" text-anchor="middle">54.6%</text>
<rect x="374.3" y="182.7" width="25" height="72.8" fill="none" stroke="#231f20" stroke-width="0.75" stroke-dasharray="1.5,1.1"/>
<text x="399.6" y="179.6" text-anchor="end">CD44<tspan dy="-2.5" font-size="4.7">high</tspan></text>
<text x="386.8" y="191.2" text-anchor="middle">13.0%</text>
<rect x="445.6" y="182.7" width="25" height="72.8" fill="none" stroke="#231f20" stroke-width="0.75" stroke-dasharray="1.5,1.1"/>
<text x="470.9" y="179.6" text-anchor="end">CD44<tspan dy="-2.5" font-size="4.7">high</tspan></text>
<text x="458.1" y="191.2" text-anchor="middle">29.4%</text>
<rect x="302.6" y="309" width="25" height="72.8" fill="none" stroke="#231f20" stroke-width="0.75" stroke-dasharray="1.5,1.1"/>
<text x="327.9" y="305.9" text-anchor="end">CD44<tspan dy="-2.5" font-size="4.7">high</tspan></text>
<text x="315.1" y="317.5" text-anchor="middle">44.8%</text>
<rect x="374.3" y="309" width="25" height="72.8" fill="none" stroke="#231f20" stroke-width="0.75" stroke-dasharray="1.5,1.1"/>
<text x="399.6" y="305.9" text-anchor="end">CD44<tspan dy="-2.5" font-size="4.7">high</tspan></text>
<text x="386.8" y="317.5" text-anchor="middle">58.3%</text>
<rect x="445.6" y="309" width="25" height="72.8" fill="none" stroke="#231f20" stroke-width="0.75" stroke-dasharray="1.5,1.1"/>
<text x="470.9" y="305.9" text-anchor="end">CD44<tspan dy="-2.5" font-size="4.7">high</tspan></text>
<text x="458.1" y="317.5" text-anchor="middle">49.4%</text>
<line x1="512.5" y1="220.7" x2="512.5" y2="337.5" stroke="#6d6e71" stroke-width="0.6"/>
<line x1="509.7" y1="337.5" x2="512.5" y2="337.5" stroke="#6d6e71" stroke-width="0.6"/>
<text x="506.9" y="339.95" text-anchor="end">0</text>
<line x1="509.7" y1="322.9" x2="512.5" y2="322.9" stroke="#6d6e71" stroke-width="0.6"/>
<text x="506.9" y="325.35" text-anchor="end">10</text>
<line x1="509.7" y1="308.3" x2="512.5" y2="308.3" stroke="#6d6e71" stroke-width="0.6"/>
<text x="506.9" y="310.75" text-anchor="end">20</text>
<line x1="509.7" y1="293.7" x2="512.5" y2="293.7" stroke="#6d6e71" stroke-width="0.6"/>
<text x="506.9" y="296.15" text-anchor="end">30</text>
<line x1="509.7" y1="279.1" x2="512.5" y2="279.1" stroke="#6d6e71" stroke-width="0.6"/>
<text x="506.9" y="281.55" text-anchor="end">40</text>
<line x1="509.7" y1="264.5" x2="512.5" y2="264.5" stroke="#6d6e71" stroke-width="0.6"/>
<text x="506.9" y="266.95" text-anchor="end">50</text>
<line x1="509.7" y1="249.9" x2="512.5" y2="249.9" stroke="#6d6e71" stroke-width="0.6"/>
<text x="506.9" y="252.35" text-anchor="end">60</text>
<line x1="509.7" y1="235.3" x2="512.5" y2="235.3" stroke="#6d6e71" stroke-width="0.6"/>
<text x="506.9" y="237.75" text-anchor="end">70</text>
<line x1="509.7" y1="220.7" x2="512.5" y2="220.7" stroke="#6d6e71" stroke-width="0.6"/>
<text x="506.9" y="223.15" text-anchor="end">80</text>
<line x1="512.5" y1="337.5" x2="589" y2="337.5" stroke="#6d6e71" stroke-width="0.6"/>
<line x1="520.2" y1="337.5" x2="520.2" y2="339.9" stroke="#6d6e71" stroke-width="0.6"/>
<line x1="532.3" y1="337.5" x2="532.3" y2="339.9" stroke="#6d6e71" stroke-width="0.6"/>
<line x1="545" y1="337.5" x2="545" y2="339.9" stroke="#6d6e71" stroke-width="0.6"/>
<line x1="557" y1="337.5" x2="557" y2="339.9" stroke="#6d6e71" stroke-width="0.6"/>
<line x1="569" y1="337.5" x2="569" y2="339.9" stroke="#6d6e71" stroke-width="0.6"/>
<line x1="581.5" y1="337.5" x2="581.5" y2="339.9" stroke="#6d6e71" stroke-width="0.6"/>
<text x="491.8" y="279" text-anchor="middle" transform="rotate(-90 491.8 279)">CD44<tspan dy="-2.5" font-size="4.7">high</tspan><tspan dy="2.5"> population (%)</tspan></text>
<text x="530.7" y="181.2"><tspan font-style="italic">P</tspan> = 0.005</text>
<line x1="530.7" y1="183" x2="582" y2="183" stroke="#231f20" stroke-width="1.0"/>
<text x="530.7" y="192.5"><tspan font-style="italic">P</tspan> = 1.5 × 10<tspan dy="-2.5" font-size="4.7">−4</tspan></text>
<line x1="530.7" y1="194.2" x2="570" y2="194.2" stroke="#231f20" stroke-width="1.0"/>
<text x="530.7" y="203.7"><tspan font-style="italic">P</tspan> = 0.008</text>
<line x1="530.7" y1="205.7" x2="556" y2="205.7" stroke="#231f20" stroke-width="1.0"/>
<text x="530.7" y="215.5"><tspan font-style="italic">P</tspan> = 0.040</text>
<line x1="530.7" y1="217.5" x2="544.5" y2="217.5" stroke="#231f20" stroke-width="1.0"/>
<text x="518" y="227.5"><tspan font-style="italic">P</tspan> = 3.3 × 10<tspan dy="-2.5" font-size="4.7">−5</tspan></text>
<line x1="518" y1="230" x2="532.5" y2="230" stroke="#6d6e71" stroke-width="0.8"/>
<line x1="520.2" y1="234.5" x2="520.2" y2="260.5" stroke="#231f20" stroke-width="0.75" stroke-dasharray="1.1,0.9"/>
<line x1="520.2" y1="289.2" x2="520.2" y2="305" stroke="#231f20" stroke-width="0.75" stroke-dasharray="1.1,0.9"/>
<rect x="516.2" y="260.5" width="8" height="28.7" fill="#c9cbce" stroke="#231f20" stroke-width="0.55"/>
<line x1="516.2" y1="272.5" x2="524.2" y2="272.5" stroke="#231f20" stroke-width="0.6"/>
<line x1="532.3" y1="280" x2="532.3" y2="298" stroke="#231f20" stroke-width="0.75" stroke-dasharray="1.1,0.9"/>
<line x1="532.3" y1="319.5" x2="532.3" y2="329" stroke="#231f20" stroke-width="0.75" stroke-dasharray="1.1,0.9"/>
<rect x="528.3" y="298" width="8" height="21.5" fill="#c9cbce" stroke="#231f20" stroke-width="0.55"/>
<line x1="528.3" y1="307.5" x2="536.3" y2="307.5" stroke="#231f20" stroke-width="0.6"/>
<line x1="545" y1="243" x2="545" y2="280.7" stroke="#231f20" stroke-width="0.75" stroke-dasharray="1.1,0.9"/>
<line x1="545" y1="297" x2="545" y2="312" stroke="#231f20" stroke-width="0.75" stroke-dasharray="1.1,0.9"/>
<rect x="541" y="280.7" width="8" height="16.3" fill="#c9cbce" stroke="#231f20" stroke-width="0.55"/>
<line x1="541" y1="288" x2="549" y2="288" stroke="#231f20" stroke-width="0.6"/>
<line x1="557" y1="248.7" x2="557" y2="270" stroke="#231f20" stroke-width="0.75" stroke-dasharray="1.1,0.9"/>
<line x1="557" y1="296" x2="557" y2="308.5" stroke="#231f20" stroke-width="0.75" stroke-dasharray="1.1,0.9"/>
<rect x="553" y="270" width="8" height="26" fill="#c9cbce" stroke="#231f20" stroke-width="0.55"/>
<line x1="553" y1="290" x2="561" y2="290" stroke="#231f20" stroke-width="0.6"/>
<line x1="569" y1="238" x2="569" y2="252.5" stroke="#231f20" stroke-width="0.75" stroke-dasharray="1.1,0.9"/>
<line x1="569" y1="295" x2="569" y2="306" stroke="#231f20" stroke-width="0.75" stroke-dasharray="1.1,0.9"/>
<rect x="565" y="252.5" width="8" height="42.5" fill="#c9cbce" stroke="#231f20" stroke-width="0.55"/>
<line x1="565" y1="273.7" x2="573" y2="273.7" stroke="#231f20" stroke-width="0.6"/>
<line x1="581.5" y1="262" x2="581.5" y2="262.5" stroke="#231f20" stroke-width="0.75" stroke-dasharray="1.1,0.9"/>
<line x1="581.5" y1="291" x2="581.5" y2="313.5" stroke="#231f20" stroke-width="0.75" stroke-dasharray="1.1,0.9"/>
<rect x="577.5" y="262.5" width="8" height="28.5" fill="#c9cbce" stroke="#231f20" stroke-width="0.55"/>
<line x1="577.5" y1="290" x2="585.5" y2="290" stroke="#231f20" stroke-width="0.6"/>
<circle cx="519.99" cy="234.5" r="1.85" fill="#8b4513"/>
<circle cx="520.46" cy="233" r="1.85" fill="#29b6e8"/>
<circle cx="522.07" cy="258" r="1.85" fill="#f2e21c"/>
<circle cx="520.05" cy="264" r="1.85" fill="#231f20"/>
<circle cx="520.23" cy="263" r="1.85" fill="#a0a0a0"/>
<circle cx="520.58" cy="267" r="1.85" fill="#d63384"/>
<circle cx="518.81" cy="272" r="1.85" fill="#b5d86a"/>
<circle cx="520.25" cy="278.5" r="1.85" fill="#66bb6a"/>
<circle cx="520.77" cy="284" r="1.85" fill="#3b8fd6"/>
<circle cx="521.49" cy="287" r="1.85" fill="#1e9a55"/>
<circle cx="518.41" cy="290" r="1.85" fill="#9b2f9b"/>
<circle cx="519.33" cy="291" r="1.85" fill="#e0e0e0"/>
<circle cx="518.4" cy="292.5" r="1.85" fill="#f7b24a"/>
<circle cx="521.56" cy="305" r="1.85" fill="#9c9c3c"/>
<circle cx="533.15" cy="280" r="1.85" fill="#29b6e8"/>
<circle cx="530.28" cy="285.5" r="1.85" fill="#a0a0a0"/>
<circle cx="534.42" cy="288" r="1.85" fill="#b5d86a"/>
<circle cx="534.34" cy="294" r="1.85" fill="#66bb6a"/>
<circle cx="532.98" cy="296" r="1.85" fill="#3b8fd6"/>
<circle cx="532.81" cy="298.5" r="1.85" fill="#9b2f9b"/>
<circle cx="530.79" cy="302" r="1.85" fill="#1e9a55"/>
<circle cx="530.17" cy="304" r="1.85" fill="#231f20"/>
<circle cx="532.42" cy="308" r="1.85" fill="#9c9c3c"/>
<circle cx="530.36" cy="311" r="1.85" fill="#8b4513"/>
<circle cx="530.94" cy="314" r="1.85" fill="#f2e21c"/>
<circle cx="531.16" cy="319" r="1.85" fill="#d63384"/>
<circle cx="530.23" cy="323" r="1.85" fill="#e0e0e0"/>
<circle cx="532.14" cy="324" r="1.85" fill="#f7b24a"/>
<circle cx="544.74" cy="243" r="1.85" fill="#8b4513"/>
<circle cx="546.51" cy="278" r="1.85" fill="#b5d86a"/>
<circle cx="545.08" cy="283" r="1.85" fill="#9b2f9b"/>
<circle cx="545.62" cy="287" r="1.85" fill="#3b8fd6"/>
<circle cx="545" cy="290" r="1.85" fill="#1e9a55"/>
<circle cx="545.71" cy="291" r="1.85" fill="#231f20"/>
<circle cx="544.81" cy="294" r="1.85" fill="#f2e21c"/>
<circle cx="544.02" cy="295" r="1.85" fill="#f7b24a"/>
<circle cx="547.19" cy="300" r="1.85" fill="#e0e0e0"/>
<circle cx="547.18" cy="311" r="1.85" fill="#9c9c3c"/>
<circle cx="558.5" cy="248.7" r="1.85" fill="#8b4513"/>
<circle cx="557.91" cy="269" r="1.85" fill="#66bb6a"/>
<circle cx="556.19" cy="272" r="1.85" fill="#f2e21c"/>
<circle cx="555.81" cy="281" r="1.85" fill="#3b8fd6"/>
<circle cx="556.07" cy="290" r="1.85" fill="#f7b24a"/>
<circle cx="555.11" cy="292" r="1.85" fill="#1e9a55"/>
<circle cx="558.17" cy="308.5" r="1.85" fill="#9c9c3c"/>
<circle cx="568.56" cy="238" r="1.85" fill="#a0a0a0"/>
<circle cx="570.52" cy="249" r="1.85" fill="#b5d86a"/>
<circle cx="568.5" cy="254" r="1.85" fill="#f2e21c"/>
<circle cx="571.02" cy="262" r="1.85" fill="#e0e0e0"/>
<circle cx="570.53" cy="263" r="1.85" fill="#f7b24a"/>
<circle cx="566.8" cy="280" r="1.85" fill="#1e9a55"/>
<circle cx="567.72" cy="285" r="1.85" fill="#9b2f9b"/>
<circle cx="570.81" cy="289" r="1.85" fill="#3b8fd6"/>
<circle cx="568.87" cy="291" r="1.85" fill="#231f20"/>
<circle cx="571.11" cy="306" r="1.85" fill="#9c9c3c"/>
<circle cx="581.05" cy="262" r="1.85" fill="#3b8fd6"/>
<circle cx="579.62" cy="266" r="1.85" fill="#f2e21c"/>
<circle cx="582.07" cy="268" r="1.85" fill="#b5d86a"/>
<circle cx="582.73" cy="282" r="1.85" fill="#1e9a55"/>
<circle cx="580.49" cy="289" r="1.85" fill="#f7b24a"/>
<circle cx="579.68" cy="290" r="1.85" fill="#9b2f9b"/>
<circle cx="580.76" cy="291" r="1.85" fill="#231f20"/>
<circle cx="583.54" cy="313.5" r="1.85" fill="#9c9c3c"/>
<text x="521.6" y="342" text-anchor="end" transform="rotate(-90 521.6 342)">Vehicle</text>
<text x="533.7" y="342" text-anchor="end" transform="rotate(-90 533.7 342)">Fento-1</text>
<text x="546.4" y="342" text-anchor="end" transform="rotate(-90 546.4 342)">Lip-1 + Fento-1</text>
<text x="558.4" y="342" text-anchor="end" transform="rotate(-90 558.4 342)">cLip-1 + Fento-1</text>
<text x="570.4" y="342" text-anchor="end" transform="rotate(-90 570.4 342)">Toc + Fento-1</text>
<text x="582.9" y="342" text-anchor="end" transform="rotate(-90 582.9 342)">Def + Fento-1</text>
<text x="599.8" y="166.5" font-size="10.5" font-weight="bold">f</text>
<line x1="627.2" y1="214" x2="627.2" y2="329.7" stroke="#6d6e71" stroke-width="0.6"/>
<line x1="624.4" y1="329.6" x2="627.2" y2="329.6" stroke="#6d6e71" stroke-width="0.6"/>
<text x="621.3" y="332.05" text-anchor="end">−20</text>
<line x1="624.4" y1="316.7" x2="627.2" y2="316.7" stroke="#6d6e71" stroke-width="0.6"/>
<text x="621.3" y="319.15" text-anchor="end">−10</text>
<line x1="624.4" y1="303.8" x2="627.2" y2="303.8" stroke="#6d6e71" stroke-width="0.6"/>
<text x="621.3" y="306.25" text-anchor="end">0</text>
<line x1="624.4" y1="290.9" x2="627.2" y2="290.9" stroke="#6d6e71" stroke-width="0.6"/>
<text x="621.3" y="293.35" text-anchor="end">10</text>
<line x1="624.4" y1="278" x2="627.2" y2="278" stroke="#6d6e71" stroke-width="0.6"/>
<text x="621.3" y="280.45" text-anchor="end">20</text>
<line x1="624.4" y1="265.1" x2="627.2" y2="265.1" stroke="#6d6e71" stroke-width="0.6"/>
<text x="621.3" y="267.55" text-anchor="end">30</text>
<line x1="624.4" y1="252.2" x2="627.2" y2="252.2" stroke="#6d6e71" stroke-width="0.6"/>
<text x="621.3" y="254.65" text-anchor="end">40</text>
<line x1="624.4" y1="239.3" x2="627.2" y2="239.3" stroke="#6d6e71" stroke-width="0.6"/>
<text x="621.3" y="241.75" text-anchor="end">50</text>
<line x1="624.4" y1="226.4" x2="627.2" y2="226.4" stroke="#6d6e71" stroke-width="0.6"/>
<text x="621.3" y="228.85" text-anchor="end">60</text>
<line x1="624.4" y1="213.5" x2="627.2" y2="213.5" stroke="#6d6e71" stroke-width="0.6"/>
<text x="621.3" y="215.95" text-anchor="end">70</text>
<line x1="627.2" y1="329.7" x2="685" y2="329.7" stroke="#6d6e71" stroke-width="0.6"/>
<line x1="643.7" y1="329.7" x2="643.7" y2="332.1" stroke="#6d6e71" stroke-width="0.6"/>
<line x1="667.8" y1="329.7" x2="667.8" y2="332.1" stroke="#6d6e71" stroke-width="0.6"/>
<text x="606.9" y="272" text-anchor="middle" transform="rotate(-90 606.9 272)">Number of colonies</text>
<text x="638.5" y="210.9"><tspan font-style="italic">P</tspan> = 0.013</text>
<line x1="639.4" y1="212.6" x2="666.8" y2="212.6" stroke="#231f20" stroke-width="1.0"/>
<path d="M643.7,221.2 C643.77,222.73 643.83,227.85 644.1,230.4 C644.37,232.95 644.89,234.47 645.3,236.5 C645.71,238.53 646.31,240.73 646.55,242.6 C646.79,244.47 646.81,245.67 646.75,247.7 C646.69,249.73 646.3,252.27 646.2,254.8 C646.1,257.33 646.15,260.18 646.15,262.9 C646.15,265.62 646.13,268.38 646.2,271.1 C646.27,273.82 646.36,276.48 646.55,279.2 C646.74,281.92 646.99,285.02 647.36,287.4 C647.74,289.78 648.29,291.47 648.8,293.5 C649.31,295.53 650.03,297.83 650.4,299.6 C650.77,301.37 651,302.75 651,304.1 C651,305.45 650.93,306.08 650.4,307.7 C649.87,309.32 648.65,311.77 647.8,313.8 C646.95,315.83 645.92,317.87 645.3,319.9 C644.68,321.93 644.37,324.3 644.1,326 C643.83,327.7 643.77,329.42 643.7,330.1 C643.63,330.78 643.77,330.78 643.7,330.1 C643.63,329.42 643.57,327.7 643.3,326 C643.03,324.3 642.72,321.93 642.1,319.9 C641.48,317.87 640.45,315.83 639.6,313.8 C638.75,311.77 637.53,309.32 637,307.7 C636.47,306.08 636.4,305.45 636.4,304.1 C636.4,302.75 636.63,301.37 637,299.6 C637.37,297.83 638.09,295.53 638.6,293.5 C639.11,291.47 639.67,289.78 640.04,287.4 C640.42,285.02 640.66,281.92 640.85,279.2 C641.04,276.48 641.13,273.82 641.2,271.1 C641.27,268.38 641.25,265.62 641.25,262.9 C641.25,260.18 641.3,257.33 641.2,254.8 C641.1,252.27 640.71,249.73 640.65,247.7 C640.59,245.67 640.61,244.47 640.85,242.6 C641.09,240.73 641.69,238.53 642.1,236.5 C642.51,234.47 643.03,232.95 643.3,230.4 C643.57,227.85 643.63,222.73 643.7,221.2 C643.77,219.67 643.63,219.67 643.7,221.2 Z" fill="#c9cbce" stroke="#231f20" stroke-width="0.6"/>
<line x1="638.2" y1="292" x2="649.2" y2="292" stroke="#231f20" stroke-width="0.6" stroke-dasharray="1.2,0.8"/>
<circle cx="643.7" cy="247" r="1.8" fill="#231f20"/>
<circle cx="643.7" cy="251.1" r="1.8" fill="#231f20"/>
<circle cx="643.7" cy="266.6" r="1.8" fill="#231f20"/>
<circle cx="643.7" cy="276.8" r="1.8" fill="#231f20"/>
<circle cx="643.7" cy="288.4" r="1.8" fill="#231f20"/>
<circle cx="643.7" cy="295.5" r="1.8" fill="#231f20"/>
<circle cx="643.7" cy="299.6" r="1.8" fill="#231f20"/>
<circle cx="643.7" cy="304.1" r="1.8" fill="#231f20"/>
<circle cx="637.2" cy="304.1" r="1.8" fill="#231f20"/>
<circle cx="649.8" cy="304.1" r="1.8" fill="#231f20"/>
<line x1="667.8" y1="265" x2="667.8" y2="314.8" stroke="#231f20" stroke-width="0.7"/>
<path d="M666.4,275.6 L667.8,272.3 L669.1999999999999,275.6 L667.8,278.9 Z" fill="#231f20"/>
<path d="M668.1,297.5 L670.3,300 L673.8,302.5 L675.5,304 L674.3,306 L671.3,309 L669.3,312 L668.1,314.8 L667.5,314.8 L666.3,312 L664.3,309 L661.3,306 L660.1,304 L661.8,302.5 L665.3,300 L667.5,297.5 Z" fill="#e5252f" stroke="#231f20" stroke-width="0.6"/>
<ellipse cx="667.8" cy="304" rx="6.2" ry="1.7" fill="#231f20"/>
<line x1="627.2" y1="303.8" x2="685" y2="303.8" stroke="#231f20" stroke-width="0.6" stroke-dasharray="1.2,0.9"/>
<text x="646" y="335.4" text-anchor="end" transform="rotate(-90 646 335.4)">Vehicle</text>
<text x="670.7" y="335.4" text-anchor="end" transform="rotate(-90 670.7 335.4)">Fento-1</text>
<text x="0" y="444" font-size="10.5" font-weight="bold">g</text>
<text x="24.5" y="484.5"><tspan font-style="italic">P</tspan> = 5.8 × 10<tspan dy="-2.5" font-size="4.7">−4</tspan></text>
<line x1="38.7" y1="487.3" x2="52.5" y2="487.3" stroke="#8a8a8a" stroke-width="1.3"/>
<line x1="32.5" y1="489.7" x2="32.5" y2="583.3" stroke="#6d6e71" stroke-width="0.6"/>
<line x1="29.7" y1="583.3" x2="32.5" y2="583.3" stroke="#6d6e71" stroke-width="0.6"/>
<text x="27.8" y="585.75" text-anchor="end">0</text>
<line x1="29.7" y1="567.7" x2="32.5" y2="567.7" stroke="#6d6e71" stroke-width="0.6"/>
<text x="27.8" y="570.15" text-anchor="end">50</text>
<line x1="29.7" y1="552.1" x2="32.5" y2="552.1" stroke="#6d6e71" stroke-width="0.6"/>
<text x="27.8" y="554.55" text-anchor="end">100</text>
<line x1="29.7" y1="536.5" x2="32.5" y2="536.5" stroke="#6d6e71" stroke-width="0.6"/>
<text x="27.8" y="538.95" text-anchor="end">150</text>
<line x1="29.7" y1="520.9" x2="32.5" y2="520.9" stroke="#6d6e71" stroke-width="0.6"/>
<text x="27.8" y="523.35" text-anchor="end">200</text>
<line x1="29.7" y1="505.3" x2="32.5" y2="505.3" stroke="#6d6e71" stroke-width="0.6"/>
<text x="27.8" y="507.75" text-anchor="end">250</text>
<line x1="29.7" y1="489.7" x2="32.5" y2="489.7" stroke="#6d6e71" stroke-width="0.6"/>
<text x="27.8" y="492.15" text-anchor="end">300</text>
<line x1="32.5" y1="583.3" x2="58.7" y2="583.3" stroke="#6d6e71" stroke-width="0.6"/>
<line x1="40.5" y1="583.3" x2="40.5" y2="585.7" stroke="#6d6e71" stroke-width="0.6"/>
<line x1="51.5" y1="583.3" x2="51.5" y2="585.7" stroke="#6d6e71" stroke-width="0.6"/>
<circle cx="39" cy="578.5" r="1.8" fill="#231f20"/>
<circle cx="41.5" cy="578" r="1.8" fill="#231f20"/>
<circle cx="38.5" cy="581" r="1.8" fill="#231f20"/>
<circle cx="40.5" cy="581.5" r="1.8" fill="#231f20"/>
<circle cx="43" cy="580.5" r="1.8" fill="#231f20"/>
<circle cx="42" cy="582.5" r="1.8" fill="#231f20"/>
<circle cx="39.5" cy="582.5" r="1.8" fill="#231f20"/>
<line x1="51.5" y1="493" x2="51.5" y2="512" stroke="#231f20" stroke-width="0.75" stroke-dasharray="1.1,0.9"/>
<line x1="51.5" y1="564.5" x2="51.5" y2="566" stroke="#231f20" stroke-width="0.75" stroke-dasharray="1.1,0.9"/>
<rect x="48" y="512" width="7" height="52.5" fill="#1e9a55" stroke="#231f20" stroke-width="0.6"/>
<circle cx="51.2" cy="493" r="1.95" fill="#231f20"/>
<circle cx="51.5" cy="512.2" r="1.95" fill="#231f20"/>
<circle cx="51.5" cy="529.7" r="1.95" fill="#231f20"/>
<circle cx="51.5" cy="540.4" r="1.95" fill="#231f20"/>
<circle cx="49.4" cy="565.8" r="1.95" fill="#231f20"/>
<circle cx="53" cy="564.1" r="1.95" fill="#231f20"/>
<text x="10.9" y="537" text-anchor="middle" transform="rotate(-90 10.9 537)">Cellular iron (ng per 10<tspan dy="-2.5" font-size="4.7">5</tspan><tspan dy="2.5"> cells)</tspan></text>
<text x="42.8" y="588.5" text-anchor="end" transform="rotate(-90 42.8 588.5)">CD44<tspan dy="-2.3" font-size="4.3">low</tspan></text>
<text x="53.8" y="588.5" text-anchor="end" transform="rotate(-90 53.8 588.5)">CD44<tspan dy="-2.3" font-size="4.3">high</tspan></text>
<text x="75" y="442.5" font-size="10.5" font-weight="bold">h</text>
<line x1="110" y1="440.5" x2="121.2" y2="440.5" stroke="#231f20" stroke-width="0.8"/>
<circle cx="115.5" cy="440.5" r="1.8" fill="#231f20"/>
<text x="124.2" y="442.8">Vehicle</text>
<line x1="110" y1="449" x2="121.2" y2="449" stroke="#e5252f" stroke-width="0.8"/>
<circle cx="115.5" cy="449" r="1.8" fill="#e5252f"/>
<text x="124.2" y="451.3">Fento-1 (*<tspan font-style="italic">P</tspan> = 1.7 × 10<tspan dy="-2.5" font-size="4.7">−6</tspan><tspan dy="2.5">)</tspan></text>
<line x1="110" y1="457.7" x2="121.2" y2="457.7" stroke="#3b8fd6" stroke-width="0.8"/>
<circle cx="115.5" cy="457.7" r="1.8" fill="#3b8fd6"/>
<text x="124.2" y="460">CW + marmycin (*<tspan font-style="italic">P</tspan> = 0.353)</text>
<line x1="110" y1="467.2" x2="121.2" y2="467.2" stroke="#4daf4a" stroke-width="0.8"/>
<circle cx="115.5" cy="467.2" r="1.8" fill="#4daf4a"/>
<text x="124.2" y="469.5">Marmycin (*<tspan font-style="italic">P</tspan> = 0.987)</text>
<line x1="110" y1="476" x2="121.2" y2="476" stroke="#f58a1f" stroke-width="0.8"/>
<circle cx="115.5" cy="476" r="1.8" fill="#f58a1f"/>
<text x="124.2" y="478.3">CW (*<tspan font-style="italic">P</tspan> = 0.064)</text>
<line x1="103.7" y1="452.5" x2="103.7" y2="583.3" stroke="#6d6e71" stroke-width="0.6"/>
<line x1="100.9" y1="583.3" x2="103.7" y2="583.3" stroke="#6d6e71" stroke-width="0.6"/>
<text x="97.7" y="585.75" text-anchor="end">0</text>
<line x1="100.9" y1="557.14" x2="103.7" y2="557.14" stroke="#6d6e71" stroke-width="0.6"/>
<text x="97.7" y="559.59" text-anchor="end">0.2</text>
<line x1="100.9" y1="530.98" x2="103.7" y2="530.98" stroke="#6d6e71" stroke-width="0.6"/>
<text x="97.7" y="533.43" text-anchor="end">0.4</text>
<line x1="100.9" y1="504.82" x2="103.7" y2="504.82" stroke="#6d6e71" stroke-width="0.6"/>
<text x="97.7" y="507.27" text-anchor="end">0.6</text>
<line x1="100.9" y1="478.66" x2="103.7" y2="478.66" stroke="#6d6e71" stroke-width="0.6"/>
<text x="97.7" y="481.11" text-anchor="end">0.8</text>
<line x1="100.9" y1="452.5" x2="103.7" y2="452.5" stroke="#6d6e71" stroke-width="0.6"/>
<text x="97.7" y="454.95" text-anchor="end">1.0</text>
<line x1="103.7" y1="583.3" x2="228" y2="583.3" stroke="#6d6e71" stroke-width="0.6"/>
<line x1="116.2" y1="583.3" x2="116.2" y2="585.3" stroke="#6d6e71" stroke-width="0.6"/>
<text x="116.2" y="593.6" text-anchor="middle">1</text>
<line x1="127.92" y1="583.3" x2="127.92" y2="585.3" stroke="#6d6e71" stroke-width="0.6"/>
<text x="127.92" y="593.6" text-anchor="middle">2</text>
<line x1="139.64" y1="583.3" x2="139.64" y2="585.3" stroke="#6d6e71" stroke-width="0.6"/>
<text x="139.64" y="593.6" text-anchor="middle">3</text>
<line x1="151.36" y1="583.3" x2="151.36" y2="585.3" stroke="#6d6e71" stroke-width="0.6"/>
<text x="151.36" y="593.6" text-anchor="middle">4</text>
<line x1="163.08" y1="583.3" x2="163.08" y2="585.3" stroke="#6d6e71" stroke-width="0.6"/>
<text x="163.08" y="593.6" text-anchor="middle">5</text>
<line x1="174.8" y1="583.3" x2="174.8" y2="585.3" stroke="#6d6e71" stroke-width="0.6"/>
<text x="174.8" y="593.6" text-anchor="middle">6</text>
<line x1="186.52" y1="583.3" x2="186.52" y2="585.3" stroke="#6d6e71" stroke-width="0.6"/>
<text x="186.52" y="593.6" text-anchor="middle">7</text>
<line x1="198.24" y1="583.3" x2="198.24" y2="585.3" stroke="#6d6e71" stroke-width="0.6"/>
<text x="198.24" y="593.6" text-anchor="middle">8</text>
<line x1="209.96" y1="583.3" x2="209.96" y2="585.3" stroke="#6d6e71" stroke-width="0.6"/>
<text x="209.96" y="593.6" text-anchor="middle">9</text>
<line x1="221.68" y1="583.3" x2="221.68" y2="585.3" stroke="#6d6e71" stroke-width="0.6"/>
<text x="221.68" y="593.6" text-anchor="middle">10</text>
<text x="165" y="605" text-anchor="middle">Time (days)</text>
<text x="82" y="517.5" text-anchor="middle" transform="rotate(-90 82 517.5)">Tumour volume (cm<tspan dy="-2.5" font-size="4.7">3</tspan><tspan dy="2.5">)</tspan></text>
<line x1="163.08" y1="580.68" x2="163.08" y2="581.99" stroke="#f58a1f" stroke-width="0.6"/>
<line x1="161.48" y1="580.68" x2="164.68" y2="580.68" stroke="#f58a1f" stroke-width="0.6"/>
<line x1="161.48" y1="581.99" x2="164.68" y2="581.99" stroke="#f58a1f" stroke-width="0.6"/>
<line x1="174.8" y1="576.76" x2="174.8" y2="579.38" stroke="#f58a1f" stroke-width="0.6"/>
<line x1="173.2" y1="576.76" x2="176.4" y2="576.76" stroke="#f58a1f" stroke-width="0.6"/>
<line x1="173.2" y1="579.38" x2="176.4" y2="579.38" stroke="#f58a1f" stroke-width="0.6"/>
<line x1="186.52" y1="567.34" x2="186.52" y2="575.19" stroke="#f58a1f" stroke-width="0.6"/>
<line x1="184.92" y1="567.34" x2="188.12" y2="567.34" stroke="#f58a1f" stroke-width="0.6"/>
<line x1="184.92" y1="575.19" x2="188.12" y2="575.19" stroke="#f58a1f" stroke-width="0.6"/>
<line x1="198.24" y1="543.28" x2="198.24" y2="564.2" stroke="#f58a1f" stroke-width="0.6"/>
<line x1="196.64" y1="543.28" x2="199.84" y2="543.28" stroke="#f58a1f" stroke-width="0.6"/>
<line x1="196.64" y1="564.2" x2="199.84" y2="564.2" stroke="#f58a1f" stroke-width="0.6"/>
<line x1="209.96" y1="535.82" x2="209.96" y2="554.13" stroke="#f58a1f" stroke-width="0.6"/>
<line x1="208.36" y1="535.82" x2="211.56" y2="535.82" stroke="#f58a1f" stroke-width="0.6"/>
<line x1="208.36" y1="554.13" x2="211.56" y2="554.13" stroke="#f58a1f" stroke-width="0.6"/>
<line x1="221.68" y1="509.27" x2="221.68" y2="540.66" stroke="#f58a1f" stroke-width="0.6"/>
<line x1="220.08" y1="509.27" x2="223.28" y2="509.27" stroke="#f58a1f" stroke-width="0.6"/>
<line x1="220.08" y1="540.66" x2="223.28" y2="540.66" stroke="#f58a1f" stroke-width="0.6"/>
<path d="M116.2,583.3 L127.92,583.3 L139.64,583.3 L151.36,582.52 L163.08,581.34 L174.8,578.07 L186.52,571.27 L198.24,553.74 L209.96,544.98 L221.68,524.96" fill="none" stroke="#f58a1f" stroke-width="0.8"/>
<circle cx="116.2" cy="583.3" r="1.85" fill="#f58a1f"/>
<circle cx="127.92" cy="583.3" r="1.85" fill="#f58a1f"/>
<circle cx="139.64" cy="583.3" r="1.85" fill="#f58a1f"/>
<circle cx="151.36" cy="582.52" r="1.85" fill="#f58a1f"/>
<circle cx="163.08" cy="581.34" r="1.85" fill="#f58a1f"/>
<circle cx="174.8" cy="578.07" r="1.85" fill="#f58a1f"/>
<circle cx="186.52" cy="571.27" r="1.85" fill="#f58a1f"/>
<circle cx="198.24" cy="553.74" r="1.85" fill="#f58a1f"/>
<circle cx="209.96" cy="544.98" r="1.85" fill="#f58a1f"/>
<circle cx="221.68" cy="524.96" r="1.85" fill="#f58a1f"/>
<line x1="163.08" y1="581.21" x2="163.08" y2="582.25" stroke="#3b8fd6" stroke-width="0.6"/>
<line x1="161.48" y1="581.21" x2="164.68" y2="581.21" stroke="#3b8fd6" stroke-width="0.6"/>
<line x1="161.48" y1="582.25" x2="164.68" y2="582.25" stroke="#3b8fd6" stroke-width="0.6"/>
<line x1="174.8" y1="578.07" x2="174.8" y2="580.68" stroke="#3b8fd6" stroke-width="0.6"/>
<line x1="173.2" y1="578.07" x2="176.4" y2="578.07" stroke="#3b8fd6" stroke-width="0.6"/>
<line x1="173.2" y1="580.68" x2="176.4" y2="580.68" stroke="#3b8fd6" stroke-width="0.6"/>
<line x1="186.52" y1="572.44" x2="186.52" y2="577.68" stroke="#3b8fd6" stroke-width="0.6"/>
<line x1="184.92" y1="572.44" x2="188.12" y2="572.44" stroke="#3b8fd6" stroke-width="0.6"/>
<line x1="184.92" y1="577.68" x2="188.12" y2="577.68" stroke="#3b8fd6" stroke-width="0.6"/>
<line x1="198.24" y1="538.83" x2="198.24" y2="564.99" stroke="#3b8fd6" stroke-width="0.6"/>
<line x1="196.64" y1="538.83" x2="199.84" y2="538.83" stroke="#3b8fd6" stroke-width="0.6"/>
<line x1="196.64" y1="564.99" x2="199.84" y2="564.99" stroke="#3b8fd6" stroke-width="0.6"/>
<line x1="209.96" y1="500.9" x2="209.96" y2="540.14" stroke="#3b8fd6" stroke-width="0.6"/>
<line x1="208.36" y1="500.9" x2="211.56" y2="500.9" stroke="#3b8fd6" stroke-width="0.6"/>
<line x1="208.36" y1="540.14" x2="211.56" y2="540.14" stroke="#3b8fd6" stroke-width="0.6"/>
<line x1="221.68" y1="496.71" x2="221.68" y2="533.33" stroke="#3b8fd6" stroke-width="0.6"/>
<line x1="220.08" y1="496.71" x2="223.28" y2="496.71" stroke="#3b8fd6" stroke-width="0.6"/>
<line x1="220.08" y1="533.33" x2="223.28" y2="533.33" stroke="#3b8fd6" stroke-width="0.6"/>
<path d="M116.2,583.3 L127.92,583.3 L139.64,583.3 L151.36,582.65 L163.08,581.73 L174.8,579.38 L186.52,575.06 L198.24,551.91 L209.96,520.52 L221.68,515.02" fill="none" stroke="#3b8fd6" stroke-width="0.8"/>
<circle cx="116.2" cy="583.3" r="1.85" fill="#3b8fd6"/>
<circle cx="127.92" cy="583.3" r="1.85" fill="#3b8fd6"/>
<circle cx="139.64" cy="583.3" r="1.85" fill="#3b8fd6"/>
<circle cx="151.36" cy="582.65" r="1.85" fill="#3b8fd6"/>
<circle cx="163.08" cy="581.73" r="1.85" fill="#3b8fd6"/>
<circle cx="174.8" cy="579.38" r="1.85" fill="#3b8fd6"/>
<circle cx="186.52" cy="575.06" r="1.85" fill="#3b8fd6"/>
<circle cx="198.24" cy="551.91" r="1.85" fill="#3b8fd6"/>
<circle cx="209.96" cy="520.52" r="1.85" fill="#3b8fd6"/>
<circle cx="221.68" cy="515.02" r="1.85" fill="#3b8fd6"/>
<line x1="163.08" y1="579.25" x2="163.08" y2="580.81" stroke="#4daf4a" stroke-width="0.6"/>
<line x1="161.48" y1="579.25" x2="164.68" y2="579.25" stroke="#4daf4a" stroke-width="0.6"/>
<line x1="161.48" y1="580.81" x2="164.68" y2="580.81" stroke="#4daf4a" stroke-width="0.6"/>
<line x1="174.8" y1="576.11" x2="174.8" y2="578.72" stroke="#4daf4a" stroke-width="0.6"/>
<line x1="173.2" y1="576.11" x2="176.4" y2="576.11" stroke="#4daf4a" stroke-width="0.6"/>
<line x1="173.2" y1="578.72" x2="176.4" y2="578.72" stroke="#4daf4a" stroke-width="0.6"/>
<line x1="186.52" y1="564.33" x2="186.52" y2="573.49" stroke="#4daf4a" stroke-width="0.6"/>
<line x1="184.92" y1="564.33" x2="188.12" y2="564.33" stroke="#4daf4a" stroke-width="0.6"/>
<line x1="184.92" y1="573.49" x2="188.12" y2="573.49" stroke="#4daf4a" stroke-width="0.6"/>
<line x1="198.24" y1="515.55" x2="198.24" y2="546.94" stroke="#4daf4a" stroke-width="0.6"/>
<line x1="196.64" y1="515.55" x2="199.84" y2="515.55" stroke="#4daf4a" stroke-width="0.6"/>
<line x1="196.64" y1="546.94" x2="199.84" y2="546.94" stroke="#4daf4a" stroke-width="0.6"/>
<line x1="209.96" y1="493.96" x2="209.96" y2="541.05" stroke="#4daf4a" stroke-width="0.6"/>
<line x1="208.36" y1="493.96" x2="211.56" y2="493.96" stroke="#4daf4a" stroke-width="0.6"/>
<line x1="208.36" y1="541.05" x2="211.56" y2="541.05" stroke="#4daf4a" stroke-width="0.6"/>
<line x1="221.68" y1="462.7" x2="221.68" y2="509.79" stroke="#4daf4a" stroke-width="0.6"/>
<line x1="220.08" y1="462.7" x2="223.28" y2="462.7" stroke="#4daf4a" stroke-width="0.6"/>
<line x1="220.08" y1="509.79" x2="223.28" y2="509.79" stroke="#4daf4a" stroke-width="0.6"/>
<path d="M116.2,583.3 L127.92,583.3 L139.64,583.3 L151.36,581.99 L163.08,580.03 L174.8,577.41 L186.52,568.91 L198.24,531.24 L209.96,517.51 L221.68,486.25" fill="none" stroke="#4daf4a" stroke-width="0.8"/>
<circle cx="116.2" cy="583.3" r="1.85" fill="#4daf4a"/>
<circle cx="127.92" cy="583.3" r="1.85" fill="#4daf4a"/>
<circle cx="139.64" cy="583.3" r="1.85" fill="#4daf4a"/>
<circle cx="151.36" cy="581.99" r="1.85" fill="#4daf4a"/>
<circle cx="163.08" cy="580.03" r="1.85" fill="#4daf4a"/>
<circle cx="174.8" cy="577.41" r="1.85" fill="#4daf4a"/>
<circle cx="186.52" cy="568.91" r="1.85" fill="#4daf4a"/>
<circle cx="198.24" cy="531.24" r="1.85" fill="#4daf4a"/>
<circle cx="209.96" cy="517.51" r="1.85" fill="#4daf4a"/>
<circle cx="221.68" cy="486.25" r="1.85" fill="#4daf4a"/>
<line x1="174.8" y1="581.34" x2="174.8" y2="582.65" stroke="#e5252f" stroke-width="0.6"/>
<line x1="173.2" y1="581.34" x2="176.4" y2="581.34" stroke="#e5252f" stroke-width="0.6"/>
<line x1="173.2" y1="582.65" x2="176.4" y2="582.65" stroke="#e5252f" stroke-width="0.6"/>
<line x1="186.52" y1="577.28" x2="186.52" y2="581.21" stroke="#e5252f" stroke-width="0.6"/>
<line x1="184.92" y1="577.28" x2="188.12" y2="577.28" stroke="#e5252f" stroke-width="0.6"/>
<line x1="184.92" y1="581.21" x2="188.12" y2="581.21" stroke="#e5252f" stroke-width="0.6"/>
<line x1="198.24" y1="567.73" x2="198.24" y2="578.2" stroke="#e5252f" stroke-width="0.6"/>
<line x1="196.64" y1="567.73" x2="199.84" y2="567.73" stroke="#e5252f" stroke-width="0.6"/>
<line x1="196.64" y1="578.2" x2="199.84" y2="578.2" stroke="#e5252f" stroke-width="0.6"/>
<line x1="209.96" y1="562.63" x2="209.96" y2="575.71" stroke="#e5252f" stroke-width="0.6"/>
<line x1="208.36" y1="562.63" x2="211.56" y2="562.63" stroke="#e5252f" stroke-width="0.6"/>
<line x1="208.36" y1="575.71" x2="211.56" y2="575.71" stroke="#e5252f" stroke-width="0.6"/>
<line x1="221.68" y1="547.59" x2="221.68" y2="569.83" stroke="#e5252f" stroke-width="0.6"/>
<line x1="220.08" y1="547.59" x2="223.28" y2="547.59" stroke="#e5252f" stroke-width="0.6"/>
<line x1="220.08" y1="569.83" x2="223.28" y2="569.83" stroke="#e5252f" stroke-width="0.6"/>
<path d="M116.2,583.3 L127.92,583.3 L139.64,583.3 L151.36,583.04 L163.08,582.78 L174.8,581.99 L186.52,579.25 L198.24,572.97 L209.96,569.17 L221.68,558.71" fill="none" stroke="#e5252f" stroke-width="0.8"/>
<circle cx="116.2" cy="583.3" r="1.85" fill="#e5252f"/>
<circle cx="127.92" cy="583.3" r="1.85" fill="#e5252f"/>
<circle cx="139.64" cy="583.3" r="1.85" fill="#e5252f"/>
<circle cx="151.36" cy="583.04" r="1.85" fill="#e5252f"/>
<circle cx="163.08" cy="582.78" r="1.85" fill="#e5252f"/>
<circle cx="174.8" cy="581.99" r="1.85" fill="#e5252f"/>
<circle cx="186.52" cy="579.25" r="1.85" fill="#e5252f"/>
<circle cx="198.24" cy="572.97" r="1.85" fill="#e5252f"/>
<circle cx="209.96" cy="569.17" r="1.85" fill="#e5252f"/>
<circle cx="221.68" cy="558.71" r="1.85" fill="#e5252f"/>
<line x1="163.08" y1="580.29" x2="163.08" y2="581.6" stroke="#231f20" stroke-width="0.6"/>
<line x1="161.48" y1="580.29" x2="164.68" y2="580.29" stroke="#231f20" stroke-width="0.6"/>
<line x1="161.48" y1="581.6" x2="164.68" y2="581.6" stroke="#231f20" stroke-width="0.6"/>
<line x1="174.8" y1="575.45" x2="174.8" y2="578.59" stroke="#231f20" stroke-width="0.6"/>
<line x1="173.2" y1="575.45" x2="176.4" y2="575.45" stroke="#231f20" stroke-width="0.6"/>
<line x1="173.2" y1="578.59" x2="176.4" y2="578.59" stroke="#231f20" stroke-width="0.6"/>
<line x1="186.52" y1="569.7" x2="186.52" y2="576.24" stroke="#231f20" stroke-width="0.6"/>
<line x1="184.92" y1="569.7" x2="188.12" y2="569.7" stroke="#231f20" stroke-width="0.6"/>
<line x1="184.92" y1="576.24" x2="188.12" y2="576.24" stroke="#231f20" stroke-width="0.6"/>
<line x1="198.24" y1="523" x2="198.24" y2="554.39" stroke="#231f20" stroke-width="0.6"/>
<line x1="196.64" y1="523" x2="199.84" y2="523" stroke="#231f20" stroke-width="0.6"/>
<line x1="196.64" y1="554.39" x2="199.84" y2="554.39" stroke="#231f20" stroke-width="0.6"/>
<line x1="209.96" y1="491.09" x2="209.96" y2="530.33" stroke="#231f20" stroke-width="0.6"/>
<line x1="208.36" y1="491.09" x2="211.56" y2="491.09" stroke="#231f20" stroke-width="0.6"/>
<line x1="208.36" y1="530.33" x2="211.56" y2="530.33" stroke="#231f20" stroke-width="0.6"/>
<line x1="221.68" y1="471.6" x2="221.68" y2="513.45" stroke="#231f20" stroke-width="0.6"/>
<line x1="220.08" y1="471.6" x2="223.28" y2="471.6" stroke="#231f20" stroke-width="0.6"/>
<line x1="220.08" y1="513.45" x2="223.28" y2="513.45" stroke="#231f20" stroke-width="0.6"/>
<path d="M116.2,583.3 L127.92,583.3 L139.64,583.3 L151.36,582.25 L163.08,580.95 L174.8,577.02 L186.52,572.97 L198.24,538.7 L209.96,510.71 L221.68,492.52" fill="none" stroke="#231f20" stroke-width="0.8"/>
<circle cx="116.2" cy="583.3" r="1.85" fill="#231f20"/>
<circle cx="127.92" cy="583.3" r="1.85" fill="#231f20"/>
<circle cx="139.64" cy="583.3" r="1.85" fill="#231f20"/>
<circle cx="151.36" cy="582.25" r="1.85" fill="#231f20"/>
<circle cx="163.08" cy="580.95" r="1.85" fill="#231f20"/>
<circle cx="174.8" cy="577.02" r="1.85" fill="#231f20"/>
<circle cx="186.52" cy="572.97" r="1.85" fill="#231f20"/>
<circle cx="198.24" cy="538.7" r="1.85" fill="#231f20"/>
<circle cx="209.96" cy="510.71" r="1.85" fill="#231f20"/>
<circle cx="221.68" cy="492.52" r="1.85" fill="#231f20"/>
<text x="226.4" y="490.5" font-size="6">*</text>
<text x="226.4" y="518.5" font-size="6">*</text>
<text x="226.4" y="528.5" font-size="6">*</text>
<text x="226.4" y="562.5" font-size="6">*</text>
<text x="236.5" y="442.5" font-size="10.5" font-weight="bold">i</text>
<line x1="262.5" y1="468" x2="271.2" y2="468" stroke="#3b8fd6" stroke-width="1.1"/>
<text x="274.5" y="470.3">Vehicle</text>
<line x1="303" y1="468" x2="311" y2="468" stroke="#e5252f" stroke-width="1.1"/>
<text x="315" y="470.3">Fento-1</text>
<line x1="261.7" y1="485" x2="261.7" y2="578.3" stroke="#6d6e71" stroke-width="0.6"/>
<line x1="258.9" y1="578.3" x2="261.7" y2="578.3" stroke="#6d6e71" stroke-width="0.6"/>
<text x="257.2" y="580.75" text-anchor="end">0</text>
<line x1="258.9" y1="559.64" x2="261.7" y2="559.64" stroke="#6d6e71" stroke-width="0.6"/>
<text x="257.2" y="562.09" text-anchor="end">20</text>
<line x1="258.9" y1="540.98" x2="261.7" y2="540.98" stroke="#6d6e71" stroke-width="0.6"/>
<text x="257.2" y="543.43" text-anchor="end">40</text>
<line x1="258.9" y1="522.32" x2="261.7" y2="522.32" stroke="#6d6e71" stroke-width="0.6"/>
<text x="257.2" y="524.77" text-anchor="end">60</text>
<line x1="258.9" y1="503.66" x2="261.7" y2="503.66" stroke="#6d6e71" stroke-width="0.6"/>
<text x="257.2" y="506.11" text-anchor="end">80</text>
<line x1="258.9" y1="485" x2="261.7" y2="485" stroke="#6d6e71" stroke-width="0.6"/>
<text x="257.2" y="487.45" text-anchor="end">100</text>
<line x1="261.7" y1="578.3" x2="356" y2="578.3" stroke="#6d6e71" stroke-width="0.6"/>
<line x1="261.7" y1="578.3" x2="261.7" y2="580.3" stroke="#6d6e71" stroke-width="0.6"/>
<text x="261.7" y="588.6" text-anchor="middle">0</text>
<line x1="277.03" y1="578.3" x2="277.03" y2="580.3" stroke="#6d6e71" stroke-width="0.6"/>
<text x="277.03" y="588.6" text-anchor="middle">4</text>
<line x1="292.36" y1="578.3" x2="292.36" y2="580.3" stroke="#6d6e71" stroke-width="0.6"/>
<text x="292.36" y="588.6" text-anchor="middle">8</text>
<line x1="307.7" y1="578.3" x2="307.7" y2="580.3" stroke="#6d6e71" stroke-width="0.6"/>
<text x="307.7" y="588.6" text-anchor="middle">12</text>
<line x1="323.03" y1="578.3" x2="323.03" y2="580.3" stroke="#6d6e71" stroke-width="0.6"/>
<text x="323.03" y="588.6" text-anchor="middle">16</text>
<line x1="338.36" y1="578.3" x2="338.36" y2="580.3" stroke="#6d6e71" stroke-width="0.6"/>
<text x="338.36" y="588.6" text-anchor="middle">20</text>
<line x1="353.69" y1="578.3" x2="353.69" y2="580.3" stroke="#6d6e71" stroke-width="0.6"/>
<text x="353.69" y="588.6" text-anchor="middle">24</text>
<text x="309.2" y="600.8" text-anchor="middle">Time (days)</text>
<text x="243.4" y="531.5" text-anchor="middle" transform="rotate(-90 243.4 531.5)">Survival (%)</text>
<path d="M261.7,485 L311.53,485 L311.53,512.99 L315.36,512.99 L315.36,522.32 L326.86,522.32 L326.86,559.64 L330.69,559.64 L330.69,568.97 L334.53,568.97 L334.53,578.3" fill="none" stroke="#3b8fd6" stroke-width="0.85"/>
<path d="M261.7,485 L326.86,485 L326.86,494.33 L330.69,494.33 L330.69,503.66 L338.36,503.66 L338.36,531.65 L349.86,531.65 L349.86,540.98 L353.69,540.98 L353.69,578.3" fill="none" stroke="#e5252f" stroke-width="0.85"/>
<text x="277.5" y="549.5"><tspan font-style="italic">P</tspan> = 8.7 × 10<tspan dy="-2.5" font-size="4.7">−5</tspan></text>
<line x1="327.5" y1="551.7" x2="353.2" y2="551.7" stroke="#777" stroke-width="0.55" stroke-dasharray="1,0.9"/>
<text x="365.5" y="429.5" font-size="10.5" font-weight="bold">j</text>
<text x="379.6" y="432.3">Vehicle</text>
<text x="404.7" y="432.3">Fento-1</text>
<rect x="378.3" y="434.1" width="6.82" height="5.75" fill="#8ec0e0"/>
<rect x="384.53" y="434.1" width="6.82" height="5.75" fill="#c8e2ee"/>
<rect x="390.75" y="434.1" width="6.82" height="5.75" fill="#bcdcec"/>
<rect x="396.98" y="434.1" width="6.22" height="5.75" fill="#4a88c8"/>
<rect x="404.3" y="434.1" width="6.57" height="5.75" fill="#78b0dc"/>
<rect x="410.28" y="434.1" width="6.57" height="5.75" fill="#9ccae4"/>
<rect x="416.25" y="434.1" width="6.57" height="5.75" fill="#dceee8"/>
<rect x="422.23" y="434.1" width="5.97" height="5.75" fill="#f4e8a8"/>
<rect x="378.3" y="439.25" width="6.82" height="5.75" fill="#6aa4d4"/>
<rect x="384.53" y="439.25" width="6.82" height="5.75" fill="#78b0dc"/>
<rect x="390.75" y="439.25" width="6.82" height="5.75" fill="#70aad8"/>
<rect x="396.98" y="439.25" width="6.22" height="5.75" fill="#3e7cc4"/>
<rect x="404.3" y="439.25" width="6.57" height="5.75" fill="#4a88c8"/>
<rect x="410.28" y="439.25" width="6.57" height="5.75" fill="#5c98cc"/>
<rect x="416.25" y="439.25" width="6.57" height="5.75" fill="#5c98cc"/>
<rect x="422.23" y="439.25" width="5.97" height="5.75" fill="#bcdcec"/>
<rect x="378.3" y="444.4" width="6.82" height="5.75" fill="#dce8dc"/>
<rect x="384.53" y="444.4" width="6.82" height="5.75" fill="#eeeab8"/>
<rect x="390.75" y="444.4" width="6.82" height="5.75" fill="#e0ead0"/>
<rect x="396.98" y="444.4" width="6.22" height="5.75" fill="#78b4dc"/>
<rect x="404.3" y="444.4" width="6.57" height="5.75" fill="#c4e0ec"/>
<rect x="410.28" y="444.4" width="6.57" height="5.75" fill="#d8eae6"/>
<rect x="416.25" y="444.4" width="6.57" height="5.75" fill="#e8ecc8"/>
<rect x="422.23" y="444.4" width="5.97" height="5.75" fill="#ee7050"/>
<rect x="378.3" y="449.55" width="6.82" height="5.75" fill="#7ab4dc"/>
<rect x="384.53" y="449.55" width="6.82" height="5.75" fill="#a8d0e6"/>
<rect x="390.75" y="449.55" width="6.82" height="5.75" fill="#9ccae4"/>
<rect x="396.98" y="449.55" width="6.22" height="5.75" fill="#5090cc"/>
<rect x="404.3" y="449.55" width="6.57" height="5.75" fill="#8cc0e0"/>
<rect x="410.28" y="449.55" width="6.57" height="5.75" fill="#bcdcec"/>
<rect x="416.25" y="449.55" width="6.57" height="5.75" fill="#b0d4e8"/>
<rect x="422.23" y="449.55" width="5.97" height="5.75" fill="#f0ecc0"/>
<rect x="378.3" y="454.69" width="6.82" height="5.75" fill="#d4e8ea"/>
<rect x="384.53" y="454.69" width="6.82" height="5.75" fill="#ece8c0"/>
<rect x="390.75" y="454.69" width="6.82" height="5.75" fill="#d0e6ea"/>
<rect x="396.98" y="454.69" width="6.22" height="5.75" fill="#7ab4dc"/>
<rect x="404.3" y="454.69" width="6.57" height="5.75" fill="#d8eae6"/>
<rect x="410.28" y="454.69" width="6.57" height="5.75" fill="#c8e2ee"/>
<rect x="416.25" y="454.69" width="6.57" height="5.75" fill="#e4ecd0"/>
<rect x="422.23" y="454.69" width="5.97" height="5.75" fill="#f8d890"/>
<rect x="378.3" y="459.84" width="6.82" height="5.75" fill="#e4ecd0"/>
<rect x="384.53" y="459.84" width="6.82" height="5.75" fill="#f2eab0"/>
<rect x="390.75" y="459.84" width="6.82" height="5.75" fill="#f0eab0"/>
<rect x="396.98" y="459.84" width="6.22" height="5.75" fill="#88bee0"/>
<rect x="404.3" y="459.84" width="6.57" height="5.75" fill="#f0eab0"/>
<rect x="410.28" y="459.84" width="6.57" height="5.75" fill="#f0eab0"/>
<rect x="416.25" y="459.84" width="6.57" height="5.75" fill="#f0eab0"/>
<rect x="422.23" y="459.84" width="5.97" height="5.75" fill="#ee7050"/>
<rect x="378.3" y="464.99" width="6.82" height="5.75" fill="#b8d8ea"/>
<rect x="384.53" y="464.99" width="6.82" height="5.75" fill="#c8e2ee"/>
<rect x="390.75" y="464.99" width="6.82" height="5.75" fill="#c4e0ec"/>
<rect x="396.98" y="464.99" width="6.22" height="5.75" fill="#7ab4dc"/>
<rect x="404.3" y="464.99" width="6.57" height="5.75" fill="#c4e0ec"/>
<rect x="410.28" y="464.99" width="6.57" height="5.75" fill="#9ccae4"/>
<rect x="416.25" y="464.99" width="6.57" height="5.75" fill="#d4e8ea"/>
<rect x="422.23" y="464.99" width="5.97" height="5.75" fill="#f6d88c"/>
<rect x="378.3" y="470.14" width="6.82" height="5.75" fill="#3a78c0"/>
<rect x="384.53" y="470.14" width="6.82" height="5.75" fill="#3a78c0"/>
<rect x="390.75" y="470.14" width="6.82" height="5.75" fill="#3a78c0"/>
<rect x="396.98" y="470.14" width="6.22" height="5.75" fill="#3a78c0"/>
<rect x="404.3" y="470.14" width="6.57" height="5.75" fill="#3a78c0"/>
<rect x="410.28" y="470.14" width="6.57" height="5.75" fill="#3a78c0"/>
<rect x="416.25" y="470.14" width="6.57" height="5.75" fill="#3a78c0"/>
<rect x="422.23" y="470.14" width="5.97" height="5.75" fill="#4a88c8"/>
<rect x="378.3" y="475.29" width="6.82" height="5.75" fill="#8cc0e0"/>
<rect x="384.53" y="475.29" width="6.82" height="5.75" fill="#8cc0e0"/>
<rect x="390.75" y="475.29" width="6.82" height="5.75" fill="#a0cce4"/>
<rect x="396.98" y="475.29" width="6.22" height="5.75" fill="#5090cc"/>
<rect x="404.3" y="475.29" width="6.57" height="5.75" fill="#8cc0e0"/>
<rect x="410.28" y="475.29" width="6.57" height="5.75" fill="#5090cc"/>
<rect x="416.25" y="475.29" width="6.57" height="5.75" fill="#a8d0e6"/>
<rect x="422.23" y="475.29" width="5.97" height="5.75" fill="#e4ecd0"/>
<rect x="378.3" y="480.44" width="6.82" height="5.75" fill="#c4e0ec"/>
<rect x="384.53" y="480.44" width="6.82" height="5.75" fill="#e8ecc8"/>
<rect x="390.75" y="480.44" width="6.82" height="5.75" fill="#d8eae6"/>
<rect x="396.98" y="480.44" width="6.22" height="5.75" fill="#70aad8"/>
<rect x="404.3" y="480.44" width="6.57" height="5.75" fill="#c8e2ee"/>
<rect x="410.28" y="480.44" width="6.57" height="5.75" fill="#7ab4dc"/>
<rect x="416.25" y="480.44" width="6.57" height="5.75" fill="#e8ecc8"/>
<rect x="422.23" y="480.44" width="5.97" height="5.75" fill="#f4a070"/>
<rect x="378.3" y="485.58" width="6.82" height="5.75" fill="#88bee0"/>
<rect x="384.53" y="485.58" width="6.82" height="5.75" fill="#9ccae4"/>
<rect x="390.75" y="485.58" width="6.82" height="5.75" fill="#9ccae4"/>
<rect x="396.98" y="485.58" width="6.22" height="5.75" fill="#5a98cc"/>
<rect x="404.3" y="485.58" width="6.57" height="5.75" fill="#8cc0e0"/>
<rect x="410.28" y="485.58" width="6.57" height="5.75" fill="#6aa4d4"/>
<rect x="416.25" y="485.58" width="6.57" height="5.75" fill="#a0cce4"/>
<rect x="422.23" y="485.58" width="5.97" height="5.75" fill="#f0ecc0"/>
<rect x="378.3" y="490.73" width="6.82" height="5.75" fill="#b0d4e8"/>
<rect x="384.53" y="490.73" width="6.82" height="5.75" fill="#a8d0e6"/>
<rect x="390.75" y="490.73" width="6.82" height="5.75" fill="#c4e0ec"/>
<rect x="396.98" y="490.73" width="6.22" height="5.75" fill="#88bee0"/>
<rect x="404.3" y="490.73" width="6.57" height="5.75" fill="#88bee0"/>
<rect x="410.28" y="490.73" width="6.57" height="5.75" fill="#88bee0"/>
<rect x="416.25" y="490.73" width="6.57" height="5.75" fill="#c8e2ee"/>
<rect x="422.23" y="490.73" width="5.97" height="5.75" fill="#f2ecb8"/>
<rect x="378.3" y="495.88" width="6.82" height="5.75" fill="#c8e2ee"/>
<rect x="384.53" y="495.88" width="6.82" height="5.75" fill="#c4e0ec"/>
<rect x="390.75" y="495.88" width="6.82" height="5.75" fill="#d4e8ea"/>
<rect x="396.98" y="495.88" width="6.22" height="5.75" fill="#88bee0"/>
<rect x="404.3" y="495.88" width="6.57" height="5.75" fill="#9ccae4"/>
<rect x="410.28" y="495.88" width="6.57" height="5.75" fill="#88bee0"/>
<rect x="416.25" y="495.88" width="6.57" height="5.75" fill="#d4e8ea"/>
<rect x="422.23" y="495.88" width="5.97" height="5.75" fill="#f6dc98"/>
<rect x="378.3" y="501.03" width="6.82" height="5.75" fill="#bcdcec"/>
<rect x="384.53" y="501.03" width="6.82" height="5.75" fill="#c8e2ee"/>
<rect x="390.75" y="501.03" width="6.82" height="5.75" fill="#d0e6ea"/>
<rect x="396.98" y="501.03" width="6.22" height="5.75" fill="#88bee0"/>
<rect x="404.3" y="501.03" width="6.57" height="5.75" fill="#9ccae4"/>
<rect x="410.28" y="501.03" width="6.57" height="5.75" fill="#88bee0"/>
<rect x="416.25" y="501.03" width="6.57" height="5.75" fill="#e0ead8"/>
<rect x="422.23" y="501.03" width="5.97" height="5.75" fill="#f6dc98"/>
<rect x="378.3" y="506.18" width="6.82" height="5.75" fill="#5c98cc"/>
<rect x="384.53" y="506.18" width="6.82" height="5.75" fill="#5c98cc"/>
<rect x="390.75" y="506.18" width="6.82" height="5.75" fill="#5c98cc"/>
<rect x="396.98" y="506.18" width="6.22" height="5.75" fill="#4a88c8"/>
<rect x="404.3" y="506.18" width="6.57" height="5.75" fill="#4a88c8"/>
<rect x="410.28" y="506.18" width="6.57" height="5.75" fill="#3e7cc4"/>
<rect x="416.25" y="506.18" width="6.57" height="5.75" fill="#5c98cc"/>
<rect x="422.23" y="506.18" width="5.97" height="5.75" fill="#a8d0e6"/>
<rect x="378.3" y="511.33" width="6.82" height="5.75" fill="#3e7cc4"/>
<rect x="384.53" y="511.33" width="6.82" height="5.75" fill="#3e7cc4"/>
<rect x="390.75" y="511.33" width="6.82" height="5.75" fill="#3e7cc4"/>
<rect x="396.98" y="511.33" width="6.22" height="5.75" fill="#3e7cc4"/>
<rect x="404.3" y="511.33" width="6.57" height="5.75" fill="#3e7cc4"/>
<rect x="410.28" y="511.33" width="6.57" height="5.75" fill="#3e7cc4"/>
<rect x="416.25" y="511.33" width="6.57" height="5.75" fill="#3e7cc4"/>
<rect x="422.23" y="511.33" width="5.97" height="5.75" fill="#5c98cc"/>
<rect x="378.3" y="516.48" width="6.82" height="5.75" fill="#ece8c0"/>
<rect x="384.53" y="516.48" width="6.82" height="5.75" fill="#f0e8b0"/>
<rect x="390.75" y="516.48" width="6.82" height="5.75" fill="#dce8dc"/>
<rect x="396.98" y="516.48" width="6.22" height="5.75" fill="#f2e4a0"/>
<rect x="404.3" y="516.48" width="6.57" height="5.75" fill="#e8ecc8"/>
<rect x="410.28" y="516.48" width="6.57" height="5.75" fill="#e03030"/>
<rect x="416.25" y="516.48" width="6.57" height="5.75" fill="#f6d88c"/>
<rect x="422.23" y="516.48" width="5.97" height="5.75" fill="#f4a070"/>
<rect x="378.3" y="521.62" width="6.82" height="5.75" fill="#4a88c8"/>
<rect x="384.53" y="521.62" width="6.82" height="5.75" fill="#3e7cc4"/>
<rect x="390.75" y="521.62" width="6.82" height="5.75" fill="#5c98cc"/>
<rect x="396.98" y="521.62" width="6.22" height="5.75" fill="#4a88c8"/>
<rect x="404.3" y="521.62" width="6.57" height="5.75" fill="#3e7cc4"/>
<rect x="410.28" y="521.62" width="6.57" height="5.75" fill="#5c98cc"/>
<rect x="416.25" y="521.62" width="6.57" height="5.75" fill="#5c98cc"/>
<rect x="422.23" y="521.62" width="5.97" height="5.75" fill="#6aa4d4"/>
<rect x="378.3" y="526.77" width="6.82" height="5.75" fill="#c4e0ec"/>
<rect x="384.53" y="526.77" width="6.82" height="5.75" fill="#bcdcec"/>
<rect x="390.75" y="526.77" width="6.82" height="5.75" fill="#c4e0ec"/>
<rect x="396.98" y="526.77" width="6.22" height="5.75" fill="#9ccae4"/>
<rect x="404.3" y="526.77" width="6.57" height="5.75" fill="#8cc0e0"/>
<rect x="410.28" y="526.77" width="6.57" height="5.75" fill="#d8eae6"/>
<rect x="416.25" y="526.77" width="6.57" height="5.75" fill="#e4ecd0"/>
<rect x="422.23" y="526.77" width="5.97" height="5.75" fill="#f2e8b0"/>
<rect x="378.3" y="531.92" width="6.82" height="5.75" fill="#5c98cc"/>
<rect x="384.53" y="531.92" width="6.82" height="5.75" fill="#6aa4d4"/>
<rect x="390.75" y="531.92" width="6.82" height="5.75" fill="#6aa4d4"/>
<rect x="396.98" y="531.92" width="6.22" height="5.75" fill="#4a88c8"/>
<rect x="404.3" y="531.92" width="6.57" height="5.75" fill="#3e7cc4"/>
<rect x="410.28" y="531.92" width="6.57" height="5.75" fill="#6aa4d4"/>
<rect x="416.25" y="531.92" width="6.57" height="5.75" fill="#4a88c8"/>
<rect x="422.23" y="531.92" width="5.97" height="5.75" fill="#7ab4dc"/>
<rect x="378.3" y="537.07" width="6.82" height="5.75" fill="#6aa4d4"/>
<rect x="384.53" y="537.07" width="6.82" height="5.75" fill="#78b0dc"/>
<rect x="390.75" y="537.07" width="6.82" height="5.75" fill="#78b0dc"/>
<rect x="396.98" y="537.07" width="6.22" height="5.75" fill="#4a88c8"/>
<rect x="404.3" y="537.07" width="6.57" height="5.75" fill="#3e7cc4"/>
<rect x="410.28" y="537.07" width="6.57" height="5.75" fill="#6aa4d4"/>
<rect x="416.25" y="537.07" width="6.57" height="5.75" fill="#6aa4d4"/>
<rect x="422.23" y="537.07" width="5.97" height="5.75" fill="#8cc0e0"/>
<rect x="378.3" y="542.22" width="6.82" height="5.75" fill="#4a88c8"/>
<rect x="384.53" y="542.22" width="6.82" height="5.75" fill="#4a88c8"/>
<rect x="390.75" y="542.22" width="6.82" height="5.75" fill="#5090cc"/>
<rect x="396.98" y="542.22" width="6.22" height="5.75" fill="#3e7cc4"/>
<rect x="404.3" y="542.22" width="6.57" height="5.75" fill="#3e7cc4"/>
<rect x="410.28" y="542.22" width="6.57" height="5.75" fill="#5c98cc"/>
<rect x="416.25" y="542.22" width="6.57" height="5.75" fill="#5c98cc"/>
<rect x="422.23" y="542.22" width="5.97" height="5.75" fill="#6aa4d4"/>
<rect x="378.3" y="547.37" width="6.82" height="5.75" fill="#5c98cc"/>
<rect x="384.53" y="547.37" width="6.82" height="5.75" fill="#5c98cc"/>
<rect x="390.75" y="547.37" width="6.82" height="5.75" fill="#6aa4d4"/>
<rect x="396.98" y="547.37" width="6.22" height="5.75" fill="#4a88c8"/>
<rect x="404.3" y="547.37" width="6.57" height="5.75" fill="#3e7cc4"/>
<rect x="410.28" y="547.37" width="6.57" height="5.75" fill="#5c98cc"/>
<rect x="416.25" y="547.37" width="6.57" height="5.75" fill="#6aa4d4"/>
<rect x="422.23" y="547.37" width="5.97" height="5.75" fill="#8cc0e0"/>
<rect x="378.3" y="552.52" width="6.82" height="5.75" fill="#f0ecc0"/>
<rect x="384.53" y="552.52" width="6.82" height="5.75" fill="#f0ecc0"/>
<rect x="390.75" y="552.52" width="6.82" height="5.75" fill="#f0ecc0"/>
<rect x="396.98" y="552.52" width="6.22" height="5.75" fill="#9ccae4"/>
<rect x="404.3" y="552.52" width="6.57" height="5.75" fill="#9ccae4"/>
<rect x="410.28" y="552.52" width="6.57" height="5.75" fill="#d8eae6"/>
<rect x="416.25" y="552.52" width="6.57" height="5.75" fill="#e8ecc8"/>
<rect x="422.23" y="552.52" width="5.97" height="5.75" fill="#f4a070"/>
<rect x="378.3" y="557.66" width="6.82" height="5.75" fill="#88bee0"/>
<rect x="384.53" y="557.66" width="6.82" height="5.75" fill="#88bee0"/>
<rect x="390.75" y="557.66" width="6.82" height="5.75" fill="#78b0dc"/>
<rect x="396.98" y="557.66" width="6.22" height="5.75" fill="#5090cc"/>
<rect x="404.3" y="557.66" width="6.57" height="5.75" fill="#3e7cc4"/>
<rect x="410.28" y="557.66" width="6.57" height="5.75" fill="#6aa4d4"/>
<rect x="416.25" y="557.66" width="6.57" height="5.75" fill="#9ccae4"/>
<rect x="422.23" y="557.66" width="5.97" height="5.75" fill="#d8eae6"/>
<rect x="378.3" y="562.81" width="6.82" height="5.75" fill="#a8d0e6"/>
<rect x="384.53" y="562.81" width="6.82" height="5.75" fill="#bcdcec"/>
<rect x="390.75" y="562.81" width="6.82" height="5.75" fill="#c4e0ec"/>
<rect x="396.98" y="562.81" width="6.22" height="5.75" fill="#6aa4d4"/>
<rect x="404.3" y="562.81" width="6.57" height="5.75" fill="#5c98cc"/>
<rect x="410.28" y="562.81" width="6.57" height="5.75" fill="#6aa4d4"/>
<rect x="416.25" y="562.81" width="6.57" height="5.75" fill="#a8d0e6"/>
<rect x="422.23" y="562.81" width="5.97" height="5.75" fill="#d8eae6"/>
<rect x="378.3" y="567.96" width="6.82" height="5.75" fill="#4a88c8"/>
<rect x="384.53" y="567.96" width="6.82" height="5.75" fill="#5090cc"/>
<rect x="390.75" y="567.96" width="6.82" height="5.75" fill="#5090cc"/>
<rect x="396.98" y="567.96" width="6.22" height="5.75" fill="#3e7cc4"/>
<rect x="404.3" y="567.96" width="6.57" height="5.75" fill="#3e7cc4"/>
<rect x="410.28" y="567.96" width="6.57" height="5.75" fill="#3e7cc4"/>
<rect x="416.25" y="567.96" width="6.57" height="5.75" fill="#5c98cc"/>
<rect x="422.23" y="567.96" width="5.97" height="5.75" fill="#6aa4d4"/>
<rect x="378.3" y="573.11" width="6.82" height="5.75" fill="#78b0dc"/>
<rect x="384.53" y="573.11" width="6.82" height="5.75" fill="#6aa4d4"/>
<rect x="390.75" y="573.11" width="6.82" height="5.75" fill="#6aa4d4"/>
<rect x="396.98" y="573.11" width="6.22" height="5.75" fill="#5090cc"/>
<rect x="404.3" y="573.11" width="6.57" height="5.75" fill="#3e7cc4"/>
<rect x="410.28" y="573.11" width="6.57" height="5.75" fill="#5c98cc"/>
<rect x="416.25" y="573.11" width="6.57" height="5.75" fill="#6aa4d4"/>
<rect x="422.23" y="573.11" width="5.97" height="5.75" fill="#bcdcec"/>
<rect x="378.3" y="578.26" width="6.82" height="5.75" fill="#6aa4d4"/>
<rect x="384.53" y="578.26" width="6.82" height="5.75" fill="#5c98cc"/>
<rect x="390.75" y="578.26" width="6.82" height="5.75" fill="#6aa4d4"/>
<rect x="396.98" y="578.26" width="6.22" height="5.75" fill="#5c98cc"/>
<rect x="404.3" y="578.26" width="6.57" height="5.75" fill="#3e7cc4"/>
<rect x="410.28" y="578.26" width="6.57" height="5.75" fill="#4a88c8"/>
<rect x="416.25" y="578.26" width="6.57" height="5.75" fill="#6aa4d4"/>
<rect x="422.23" y="578.26" width="5.97" height="5.75" fill="#8cc0e0"/>
<rect x="378.3" y="583.41" width="6.82" height="5.75" fill="#4a88c8"/>
<rect x="384.53" y="583.41" width="6.82" height="5.75" fill="#4a88c8"/>
<rect x="390.75" y="583.41" width="6.82" height="5.75" fill="#4a88c8"/>
<rect x="396.98" y="583.41" width="6.22" height="5.75" fill="#4a88c8"/>
<rect x="404.3" y="583.41" width="6.57" height="5.75" fill="#3e7cc4"/>
<rect x="410.28" y="583.41" width="6.57" height="5.75" fill="#3e7cc4"/>
<rect x="416.25" y="583.41" width="6.57" height="5.75" fill="#4a88c8"/>
<rect x="422.23" y="583.41" width="5.97" height="5.75" fill="#5c98cc"/>
<rect x="378.3" y="588.55" width="6.82" height="5.75" fill="#6aa4d4"/>
<rect x="384.53" y="588.55" width="6.82" height="5.75" fill="#78b0dc"/>
<rect x="390.75" y="588.55" width="6.82" height="5.75" fill="#88bee0"/>
<rect x="396.98" y="588.55" width="6.22" height="5.75" fill="#5090cc"/>
<rect x="404.3" y="588.55" width="6.57" height="5.75" fill="#3e7cc4"/>
<rect x="410.28" y="588.55" width="6.57" height="5.75" fill="#6aa4d4"/>
<rect x="416.25" y="588.55" width="6.57" height="5.75" fill="#78b0dc"/>
<rect x="422.23" y="588.55" width="5.97" height="5.75" fill="#a8d0e6"/>
<rect x="378.3" y="593.7" width="6.82" height="5.75" fill="#a8d0e6"/>
<rect x="384.53" y="593.7" width="6.82" height="5.75" fill="#88bee0"/>
<rect x="390.75" y="593.7" width="6.82" height="5.75" fill="#a8d0e6"/>
<rect x="396.98" y="593.7" width="6.22" height="5.75" fill="#6aa4d4"/>
<rect x="404.3" y="593.7" width="6.57" height="5.75" fill="#5c98cc"/>
<rect x="410.28" y="593.7" width="6.57" height="5.75" fill="#78b0dc"/>
<rect x="416.25" y="593.7" width="6.57" height="5.75" fill="#a8d0e6"/>
<rect x="422.23" y="593.7" width="5.97" height="5.75" fill="#d8eae6"/>
<rect x="378.3" y="598.85" width="6.82" height="5.15" fill="#a8d0e6"/>
<rect x="384.53" y="598.85" width="6.82" height="5.15" fill="#88bee0"/>
<rect x="390.75" y="598.85" width="6.82" height="5.15" fill="#9ccae4"/>
<rect x="396.98" y="598.85" width="6.22" height="5.15" fill="#6aa4d4"/>
<rect x="404.3" y="598.85" width="6.57" height="5.15" fill="#5c98cc"/>
<rect x="410.28" y="598.85" width="6.57" height="5.15" fill="#78b0dc"/>
<rect x="416.25" y="598.85" width="6.57" height="5.15" fill="#a8d0e6"/>
<rect x="422.23" y="598.85" width="5.97" height="5.15" fill="#d8eae6"/>
<rect x="403.2" y="434.1" width="1.1" height="169.9" fill="#fff"/>
<text x="431.3" y="439.07">PC<tspan dy="1.2" font-size="4.0">O-x</tspan></text>
<text x="464.6" y="439.07" text-anchor="end">36:2</text>
<text x="431.3" y="444.22">PC<tspan dy="1.2" font-size="4.0">O-x</tspan></text>
<text x="464.6" y="444.22" text-anchor="end">34:1</text>
<text x="431.3" y="449.37">PC<tspan dy="1.2" font-size="4.0">O-x2</tspan></text>
<text x="464.6" y="449.37" text-anchor="end">38:2</text>
<text x="431.3" y="454.52">PC<tspan dy="1.2" font-size="4.0">O-x2</tspan></text>
<text x="464.6" y="454.52" text-anchor="end">36:3</text>
<text x="431.3" y="459.67">PC<tspan dy="1.2" font-size="4.0">O-x</tspan></text>
<text x="464.6" y="459.67" text-anchor="end">34:3</text>
<text x="431.3" y="464.82">PC<tspan dy="1.2" font-size="4.0">O-x</tspan></text>
<text x="464.6" y="464.82" text-anchor="end">36:3</text>
<text x="431.3" y="469.97">PC<tspan dy="1.2" font-size="4.0">O-x</tspan></text>
<text x="464.6" y="469.97" text-anchor="end">38:4</text>
<text x="431.3" y="475.11">PC<tspan dy="1.2" font-size="4.0">O-x3</tspan></text>
<text x="464.6" y="475.11" text-anchor="end">38:3</text>
<text x="431.3" y="480.26">PC<tspan dy="1.2" font-size="4.0">O-x3</tspan></text>
<text x="464.6" y="480.26" text-anchor="end">38:5</text>
<text x="431.3" y="485.41">PC<tspan dy="1.2" font-size="4.0">O-x2</tspan></text>
<text x="464.6" y="485.41" text-anchor="end">38:4</text>
<text x="431.3" y="490.56">PC<tspan dy="1.2" font-size="4.0">O-x3</tspan></text>
<text x="464.6" y="490.56" text-anchor="end">36:4</text>
<text x="431.3" y="495.71">PC<tspan dy="1.2" font-size="4.0">O-x</tspan></text>
<text x="464.6" y="495.71" text-anchor="end">36:3</text>
<text x="431.3" y="500.86">PC<tspan dy="1.2" font-size="4.0">O-x</tspan></text>
<text x="464.6" y="500.86" text-anchor="end">38:5</text>
<text x="431.3" y="506">PC<tspan dy="1.2" font-size="4.0">O-x2</tspan></text>
<text x="464.6" y="506" text-anchor="end">40:5</text>
<text x="431.3" y="511.15">PC<tspan dy="1.2" font-size="4.0">O-x2</tspan></text>
<text x="464.6" y="511.15" text-anchor="end">40:6</text>
<text x="431.3" y="516.3">PC<tspan dy="1.2" font-size="4.0">O-x3</tspan></text>
<text x="464.6" y="516.3" text-anchor="end">40:7</text>
<text x="431.3" y="521.45">PC<tspan dy="1.2" font-size="4.0">O-x2</tspan></text>
<text x="464.6" y="521.45" text-anchor="end">34:2</text>
<text x="431.3" y="526.6">PC<tspan dy="1.2" font-size="4.0">O-x4</tspan></text>
<text x="464.6" y="526.6" text-anchor="end">36:4</text>
<text x="431.3" y="531.75">PC<tspan dy="1.2" font-size="4.0">O-x2</tspan></text>
<text x="464.6" y="531.75" text-anchor="end">34:1</text>
<text x="431.3" y="536.9">PC<tspan dy="1.2" font-size="4.0">O-x3</tspan></text>
<text x="464.6" y="536.9" text-anchor="end">36:5</text>
<text x="431.3" y="542.04">PC<tspan dy="1.2" font-size="4.0">O-x2</tspan></text>
<text x="464.6" y="542.04" text-anchor="end">38:3</text>
<text x="431.3" y="547.19">PC<tspan dy="1.2" font-size="4.0">O-x3</tspan></text>
<text x="464.6" y="547.19" text-anchor="end">40:6</text>
<text x="431.3" y="552.34">PC<tspan dy="1.2" font-size="4.0">O-x</tspan></text>
<text x="464.6" y="552.34" text-anchor="end">34:2</text>
<text x="431.3" y="557.49">PC<tspan dy="1.2" font-size="4.0">O-x2</tspan></text>
<text x="464.6" y="557.49" text-anchor="end">36:2</text>
<text x="431.3" y="562.64">PC<tspan dy="1.2" font-size="4.0">O-x</tspan></text>
<text x="464.6" y="562.64" text-anchor="end">38:4</text>
<text x="431.3" y="567.79">PC<tspan dy="1.2" font-size="4.0">O-x</tspan></text>
<text x="464.6" y="567.79" text-anchor="end">40:5</text>
<text x="431.3" y="572.93">PC<tspan dy="1.2" font-size="4.0">O-x4</tspan></text>
<text x="464.6" y="572.93" text-anchor="end">36:4</text>
<text x="431.3" y="578.08">PC<tspan dy="1.2" font-size="4.0">O-x2</tspan></text>
<text x="464.6" y="578.08" text-anchor="end">38:5</text>
<text x="431.3" y="583.23">PC<tspan dy="1.2" font-size="4.0">O-x</tspan></text>
<text x="464.6" y="583.23" text-anchor="end">40:4</text>
<text x="431.3" y="588.38">PC<tspan dy="1.2" font-size="4.0">O-x3</tspan></text>
<text x="464.6" y="588.38" text-anchor="end">36:2</text>
<text x="431.3" y="593.53">PC<tspan dy="1.2" font-size="4.0">O-x2</tspan></text>
<text x="464.6" y="593.53" text-anchor="end">38:6</text>
<text x="431.3" y="598.68">PC<tspan dy="1.2" font-size="4.0">O-x</tspan></text>
<text x="464.6" y="598.68" text-anchor="end">38:4</text>
<text x="431.3" y="603.83">PC<tspan dy="1.2" font-size="4.0">O-x2</tspan></text>
<text x="464.6" y="603.83" text-anchor="end">40:6</text>
<defs><linearGradient id="cb469" x1="0" y1="1" x2="0" y2="0"><stop offset="0" stop-color="#3c6cb2"/><stop offset="0.125" stop-color="#74add1"/><stop offset="0.25" stop-color="#abd9e9"/><stop offset="0.375" stop-color="#e0f3f8"/><stop offset="0.5" stop-color="#ffffbf"/><stop offset="0.625" stop-color="#fee090"/><stop offset="0.75" stop-color="#fdae61"/><stop offset="0.875" stop-color="#f46d43"/><stop offset="1.0" stop-color="#d73027"/></linearGradient></defs>
<rect x="469.5" y="434.5" width="4.5" height="61.5" fill="url(#cb469)"/>
<text x="476" y="436.8">0.005</text>
<text x="476" y="449.3">0.004</text>
<text x="476" y="461.5">0.003</text>
<text x="476" y="473.9">0.002</text>
<text x="476" y="486.3">0.001</text>
<text x="476" y="498.6">0</text>
<line x1="366.4" y1="465.2" x2="366.4" y2="539.8" stroke="#231f20" stroke-width="0.5"/>
<line x1="366.4" y1="465.2" x2="375.2" y2="465.2" stroke="#231f20" stroke-width="0.5"/>
<line x1="366.4" y1="539.8" x2="367.9" y2="539.8" stroke="#231f20" stroke-width="0.5"/>
<line x1="375.2" y1="448.3" x2="375.2" y2="482" stroke="#8a8a8a" stroke-width="0.5"/>
<line x1="376.6" y1="448.3" x2="376.6" y2="482" stroke="#8a8a8a" stroke-width="0.5"/>
<line x1="375.2" y1="448.3" x2="378.3" y2="448.3" stroke="#231f20" stroke-width="0.5"/>
<line x1="375.2" y1="482" x2="378.3" y2="482" stroke="#231f20" stroke-width="0.5"/>
<line x1="367.9" y1="522.7" x2="367.9" y2="558.3" stroke="#231f20" stroke-width="0.5"/>
<line x1="367.9" y1="522.7" x2="375.3" y2="522.7" stroke="#231f20" stroke-width="0.5"/>
<line x1="367.9" y1="558.3" x2="373.3" y2="558.3" stroke="#231f20" stroke-width="0.5"/>
<line x1="375.3" y1="518.9" x2="375.3" y2="526.6" stroke="#231f20" stroke-width="0.5"/>
<line x1="375.3" y1="518.9" x2="378.3" y2="518.9" stroke="#231f20" stroke-width="0.5"/>
<line x1="375.3" y1="526.6" x2="378.3" y2="526.6" stroke="#231f20" stroke-width="0.5"/>
<line x1="373.3" y1="540.5" x2="373.3" y2="576.1" stroke="#231f20" stroke-width="0.5"/>
<line x1="373.3" y1="540.5" x2="376.8" y2="540.5" stroke="#231f20" stroke-width="0.5"/>
<line x1="373.3" y1="576.1" x2="376.8" y2="576.1" stroke="#231f20" stroke-width="0.5"/>
<line x1="376.8" y1="534.3" x2="376.8" y2="546" stroke="#231f20" stroke-width="0.5"/>
<line x1="376.8" y1="534.3" x2="378.3" y2="534.3" stroke="#231f20" stroke-width="0.5"/>
<line x1="376.8" y1="546" x2="378.3" y2="546" stroke="#231f20" stroke-width="0.5"/>
<line x1="376.8" y1="567.6" x2="376.8" y2="584.6" stroke="#231f20" stroke-width="0.5"/>
<line x1="376.8" y1="567.6" x2="378.3" y2="567.6" stroke="#231f20" stroke-width="0.5"/>
<line x1="376.8" y1="584.6" x2="378.3" y2="584.6" stroke="#231f20" stroke-width="0.5"/>
<line x1="377.3" y1="438" x2="377.3" y2="446" stroke="#231f20" stroke-width="0.5"/>
<line x1="377.3" y1="438" x2="378.3" y2="438" stroke="#231f20" stroke-width="0.5"/>
<line x1="377.3" y1="446" x2="378.3" y2="446" stroke="#231f20" stroke-width="0.5"/>
<line x1="377.3" y1="452" x2="377.3" y2="462" stroke="#231f20" stroke-width="0.5"/>
<line x1="377.3" y1="452" x2="378.3" y2="452" stroke="#231f20" stroke-width="0.5"/>
<line x1="377.3" y1="462" x2="378.3" y2="462" stroke="#231f20" stroke-width="0.5"/>
<line x1="377.3" y1="470" x2="377.3" y2="480" stroke="#231f20" stroke-width="0.5"/>
<line x1="377.3" y1="470" x2="378.3" y2="470" stroke="#231f20" stroke-width="0.5"/>
<line x1="377.3" y1="480" x2="378.3" y2="480" stroke="#231f20" stroke-width="0.5"/>
<line x1="377.3" y1="486" x2="377.3" y2="500" stroke="#231f20" stroke-width="0.5"/>
<line x1="377.3" y1="486" x2="378.3" y2="486" stroke="#231f20" stroke-width="0.5"/>
<line x1="377.3" y1="500" x2="378.3" y2="500" stroke="#231f20" stroke-width="0.5"/>
<line x1="377.3" y1="504" x2="377.3" y2="514" stroke="#231f20" stroke-width="0.5"/>
<line x1="377.3" y1="504" x2="378.3" y2="504" stroke="#231f20" stroke-width="0.5"/>
<line x1="377.3" y1="514" x2="378.3" y2="514" stroke="#231f20" stroke-width="0.5"/>
<line x1="377.3" y1="590" x2="377.3" y2="600" stroke="#231f20" stroke-width="0.5"/>
<line x1="377.3" y1="590" x2="378.3" y2="590" stroke="#231f20" stroke-width="0.5"/>
<line x1="377.3" y1="600" x2="378.3" y2="600" stroke="#231f20" stroke-width="0.5"/>
<text x="505" y="429" font-size="10.5" font-weight="bold">k</text>
<text x="535.7" y="429.5">Vehicle</text>
<line x1="534.9" y1="432.3" x2="534.9" y2="496.5" stroke="#6d6e71" stroke-width="0.6"/>
<line x1="532.9" y1="496.5" x2="534.9" y2="496.5" stroke="#6d6e71" stroke-width="0.5"/>
<line x1="533.8" y1="491.58" x2="534.9" y2="491.58" stroke="#6d6e71" stroke-width="0.5"/>
<line x1="533.8" y1="486.67" x2="534.9" y2="486.67" stroke="#6d6e71" stroke-width="0.5"/>
<line x1="533.8" y1="481.75" x2="534.9" y2="481.75" stroke="#6d6e71" stroke-width="0.5"/>
<line x1="532.9" y1="476.83" x2="534.9" y2="476.83" stroke="#6d6e71" stroke-width="0.5"/>
<line x1="533.8" y1="471.92" x2="534.9" y2="471.92" stroke="#6d6e71" stroke-width="0.5"/>
<line x1="533.8" y1="467" x2="534.9" y2="467" stroke="#6d6e71" stroke-width="0.5"/>
<line x1="533.8" y1="462.08" x2="534.9" y2="462.08" stroke="#6d6e71" stroke-width="0.5"/>
<line x1="532.9" y1="457.17" x2="534.9" y2="457.17" stroke="#6d6e71" stroke-width="0.5"/>
<line x1="533.8" y1="452.25" x2="534.9" y2="452.25" stroke="#6d6e71" stroke-width="0.5"/>
<line x1="533.8" y1="447.33" x2="534.9" y2="447.33" stroke="#6d6e71" stroke-width="0.5"/>
<line x1="533.8" y1="442.42" x2="534.9" y2="442.42" stroke="#6d6e71" stroke-width="0.5"/>
<line x1="532.9" y1="437.5" x2="534.9" y2="437.5" stroke="#6d6e71" stroke-width="0.5"/>
<text x="530.5" y="439.85" text-anchor="end">600</text>
<text x="530.5" y="459.52" text-anchor="end">400</text>
<text x="530.5" y="479.18" text-anchor="end">200</text>
<text x="530.5" y="498.85" text-anchor="end">0</text>
<line x1="534.9" y1="496.5" x2="588.7" y2="496.5" stroke="#6d6e71" stroke-width="0.6"/>
<line x1="541.8" y1="496.5" x2="541.8" y2="498.3" stroke="#6d6e71" stroke-width="0.5"/>
<line x1="557" y1="496.5" x2="557" y2="498.3" stroke="#6d6e71" stroke-width="0.5"/>
<line x1="572.5" y1="496.5" x2="572.5" y2="498.3" stroke="#6d6e71" stroke-width="0.5"/>
<line x1="535.67" y1="496.5" x2="535.67" y2="497.5" stroke="#6d6e71" stroke-width="0.45"/>
<line x1="537.16" y1="496.5" x2="537.16" y2="497.5" stroke="#6d6e71" stroke-width="0.45"/>
<line x1="538.38" y1="496.5" x2="538.38" y2="497.5" stroke="#6d6e71" stroke-width="0.45"/>
<line x1="539.41" y1="496.5" x2="539.41" y2="497.5" stroke="#6d6e71" stroke-width="0.45"/>
<line x1="540.31" y1="496.5" x2="540.31" y2="497.5" stroke="#6d6e71" stroke-width="0.45"/>
<line x1="541.1" y1="496.5" x2="541.1" y2="497.5" stroke="#6d6e71" stroke-width="0.45"/>
<line x1="546.44" y1="496.5" x2="546.44" y2="497.5" stroke="#6d6e71" stroke-width="0.45"/>
<line x1="549.15" y1="496.5" x2="549.15" y2="497.5" stroke="#6d6e71" stroke-width="0.45"/>
<line x1="551.07" y1="496.5" x2="551.07" y2="497.5" stroke="#6d6e71" stroke-width="0.45"/>
<line x1="552.56" y1="496.5" x2="552.56" y2="497.5" stroke="#6d6e71" stroke-width="0.45"/>
<line x1="553.78" y1="496.5" x2="553.78" y2="497.5" stroke="#6d6e71" stroke-width="0.45"/>
<line x1="554.81" y1="496.5" x2="554.81" y2="497.5" stroke="#6d6e71" stroke-width="0.45"/>
<line x1="555.71" y1="496.5" x2="555.71" y2="497.5" stroke="#6d6e71" stroke-width="0.45"/>
<line x1="556.5" y1="496.5" x2="556.5" y2="497.5" stroke="#6d6e71" stroke-width="0.45"/>
<line x1="561.84" y1="496.5" x2="561.84" y2="497.5" stroke="#6d6e71" stroke-width="0.45"/>
<line x1="564.55" y1="496.5" x2="564.55" y2="497.5" stroke="#6d6e71" stroke-width="0.45"/>
<line x1="566.47" y1="496.5" x2="566.47" y2="497.5" stroke="#6d6e71" stroke-width="0.45"/>
<line x1="567.96" y1="496.5" x2="567.96" y2="497.5" stroke="#6d6e71" stroke-width="0.45"/>
<line x1="569.18" y1="496.5" x2="569.18" y2="497.5" stroke="#6d6e71" stroke-width="0.45"/>
<line x1="570.21" y1="496.5" x2="570.21" y2="497.5" stroke="#6d6e71" stroke-width="0.45"/>
<line x1="571.11" y1="496.5" x2="571.11" y2="497.5" stroke="#6d6e71" stroke-width="0.45"/>
<line x1="571.9" y1="496.5" x2="571.9" y2="497.5" stroke="#6d6e71" stroke-width="0.45"/>
<text x="541.8" y="507.1" text-anchor="middle">10<tspan dy="-2.3" font-size="4.3">3</tspan></text>
<text x="557" y="507.1" text-anchor="middle">10<tspan dy="-2.3" font-size="4.3">4</tspan></text>
<text x="572.5" y="507.1" text-anchor="middle">10<tspan dy="-2.3" font-size="4.3">5</tspan></text>
<text x="513.5" y="465" text-anchor="middle" transform="rotate(-90 513.5 465)">FSC-A (×10<tspan dy="-2.5" font-size="4.7">3</tspan><tspan dy="2.5">; a.u.)</tspan></text>
<rect x="572.2" y="439" width="15.8" height="55.5" fill="none" stroke="#231f20" stroke-width="0.75" stroke-dasharray="1.5,1.1"/>
<text x="545.1" y="441">CD44<tspan dy="-2.3" font-size="4.3">high</tspan></text>
<text x="557.5" y="452" text-anchor="middle">20.2%</text>
<text x="535.4" y="519.9">Fento-1</text>
<line x1="534.6" y1="522.7" x2="534.6" y2="586.9" stroke="#6d6e71" stroke-width="0.6"/>
<line x1="532.6" y1="586.9" x2="534.6" y2="586.9" stroke="#6d6e71" stroke-width="0.5"/>
<line x1="533.5" y1="581.98" x2="534.6" y2="581.98" stroke="#6d6e71" stroke-width="0.5"/>
<line x1="533.5" y1="577.07" x2="534.6" y2="577.07" stroke="#6d6e71" stroke-width="0.5"/>
<line x1="533.5" y1="572.15" x2="534.6" y2="572.15" stroke="#6d6e71" stroke-width="0.5"/>
<line x1="532.6" y1="567.23" x2="534.6" y2="567.23" stroke="#6d6e71" stroke-width="0.5"/>
<line x1="533.5" y1="562.32" x2="534.6" y2="562.32" stroke="#6d6e71" stroke-width="0.5"/>
<line x1="533.5" y1="557.4" x2="534.6" y2="557.4" stroke="#6d6e71" stroke-width="0.5"/>
<line x1="533.5" y1="552.48" x2="534.6" y2="552.48" stroke="#6d6e71" stroke-width="0.5"/>
<line x1="532.6" y1="547.57" x2="534.6" y2="547.57" stroke="#6d6e71" stroke-width="0.5"/>
<line x1="533.5" y1="542.65" x2="534.6" y2="542.65" stroke="#6d6e71" stroke-width="0.5"/>
<line x1="533.5" y1="537.73" x2="534.6" y2="537.73" stroke="#6d6e71" stroke-width="0.5"/>
<line x1="533.5" y1="532.82" x2="534.6" y2="532.82" stroke="#6d6e71" stroke-width="0.5"/>
<line x1="532.6" y1="527.9" x2="534.6" y2="527.9" stroke="#6d6e71" stroke-width="0.5"/>
<text x="530.2" y="530.25" text-anchor="end">600</text>
<text x="530.2" y="549.92" text-anchor="end">400</text>
<text x="530.2" y="569.58" text-anchor="end">200</text>
<text x="530.2" y="589.25" text-anchor="end">0</text>
<line x1="534.6" y1="586.9" x2="588.4" y2="586.9" stroke="#6d6e71" stroke-width="0.6"/>
<line x1="541.5" y1="586.9" x2="541.5" y2="588.7" stroke="#6d6e71" stroke-width="0.5"/>
<line x1="556.7" y1="586.9" x2="556.7" y2="588.7" stroke="#6d6e71" stroke-width="0.5"/>
<line x1="572.2" y1="586.9" x2="572.2" y2="588.7" stroke="#6d6e71" stroke-width="0.5"/>
<line x1="535.37" y1="586.9" x2="535.37" y2="587.9" stroke="#6d6e71" stroke-width="0.45"/>
<line x1="536.86" y1="586.9" x2="536.86" y2="587.9" stroke="#6d6e71" stroke-width="0.45"/>
<line x1="538.08" y1="586.9" x2="538.08" y2="587.9" stroke="#6d6e71" stroke-width="0.45"/>
<line x1="539.11" y1="586.9" x2="539.11" y2="587.9" stroke="#6d6e71" stroke-width="0.45"/>
<line x1="540.01" y1="586.9" x2="540.01" y2="587.9" stroke="#6d6e71" stroke-width="0.45"/>
<line x1="540.8" y1="586.9" x2="540.8" y2="587.9" stroke="#6d6e71" stroke-width="0.45"/>
<line x1="546.14" y1="586.9" x2="546.14" y2="587.9" stroke="#6d6e71" stroke-width="0.45"/>
<line x1="548.85" y1="586.9" x2="548.85" y2="587.9" stroke="#6d6e71" stroke-width="0.45"/>
<line x1="550.77" y1="586.9" x2="550.77" y2="587.9" stroke="#6d6e71" stroke-width="0.45"/>
<line x1="552.26" y1="586.9" x2="552.26" y2="587.9" stroke="#6d6e71" stroke-width="0.45"/>
<line x1="553.48" y1="586.9" x2="553.48" y2="587.9" stroke="#6d6e71" stroke-width="0.45"/>
<line x1="554.51" y1="586.9" x2="554.51" y2="587.9" stroke="#6d6e71" stroke-width="0.45"/>
<line x1="555.41" y1="586.9" x2="555.41" y2="587.9" stroke="#6d6e71" stroke-width="0.45"/>
<line x1="556.2" y1="586.9" x2="556.2" y2="587.9" stroke="#6d6e71" stroke-width="0.45"/>
<line x1="561.54" y1="586.9" x2="561.54" y2="587.9" stroke="#6d6e71" stroke-width="0.45"/>
<line x1="564.25" y1="586.9" x2="564.25" y2="587.9" stroke="#6d6e71" stroke-width="0.45"/>
<line x1="566.17" y1="586.9" x2="566.17" y2="587.9" stroke="#6d6e71" stroke-width="0.45"/>
<line x1="567.66" y1="586.9" x2="567.66" y2="587.9" stroke="#6d6e71" stroke-width="0.45"/>
<line x1="568.88" y1="586.9" x2="568.88" y2="587.9" stroke="#6d6e71" stroke-width="0.45"/>
<line x1="569.91" y1="586.9" x2="569.91" y2="587.9" stroke="#6d6e71" stroke-width="0.45"/>
<line x1="570.81" y1="586.9" x2="570.81" y2="587.9" stroke="#6d6e71" stroke-width="0.45"/>
<line x1="571.6" y1="586.9" x2="571.6" y2="587.9" stroke="#6d6e71" stroke-width="0.45"/>
<text x="541.5" y="597.5" text-anchor="middle">10<tspan dy="-2.3" font-size="4.3">3</tspan></text>
<text x="556.7" y="597.5" text-anchor="middle">10<tspan dy="-2.3" font-size="4.3">4</tspan></text>
<text x="572.2" y="597.5" text-anchor="middle">10<tspan dy="-2.3" font-size="4.3">5</tspan></text>
<text x="513.2" y="555.4" text-anchor="middle" transform="rotate(-90 513.2 555.4)">FSC-A (×10<tspan dy="-2.5" font-size="4.7">3</tspan><tspan dy="2.5">; a.u.)</tspan></text>
<rect x="571.9" y="529.4" width="15.8" height="55.5" fill="none" stroke="#231f20" stroke-width="0.75" stroke-dasharray="1.5,1.1"/>
<text x="544.8" y="531.4">CD44<tspan dy="-2.3" font-size="4.3">high</tspan></text>
<text x="557.2" y="542.4" text-anchor="middle">11.0%</text>
<text x="530.6" y="609.4">Anti-CD44-647 (a.u.)</text>
<filter id="bl7" x="-30%" y="-30%" width="160%" height="160%"><feGaussianBlur stdDeviation="0.75"/></filter>
<g>
<path d="M552.5,489.3 C552.33,488.28 552.48,486.57 553.5,485.3 C554.52,484.03 556.9,483.33 558.6,481.7 C560.3,480.07 562,477.63 563.7,475.5 C565.4,473.37 567.35,470.85 568.8,468.9 C570.25,466.95 571.37,464.82 572.4,463.8 C573.43,462.78 574.15,462.55 575,462.8 C575.85,463.05 576.83,464.12 577.5,465.3 C578.17,466.48 578.48,468.37 579,469.9 C579.52,471.43 579.92,472.7 580.6,474.5 C581.28,476.3 582.25,478.73 583.1,480.7 C583.95,482.67 585.35,484.87 585.7,486.3 C586.05,487.73 585.97,488.53 585.2,489.3 C584.43,490.07 583.15,490.47 581.1,490.9 C579.05,491.33 576.3,491.73 572.9,491.9 C569.5,492.07 563.77,491.98 560.7,491.9 C557.63,491.82 555.87,491.83 554.5,491.4 C553.13,490.97 552.67,490.32 552.5,489.3 Z" fill="#2d56a6"/>
<g filter="url(#bl7)">
<path d="M554.45,488.65 C554.31,487.84 554.44,486.47 555.3,485.45 C556.17,484.44 558.19,483.88 559.64,482.57 C561.08,481.27 562.53,479.32 563.97,477.61 C565.42,475.91 567.08,473.89 568.31,472.33 C569.54,470.77 570.49,469.07 571.37,468.25 C572.25,467.44 572.86,467.25 573.58,467.45 C574.3,467.65 575.14,468.51 575.7,469.45 C576.27,470.4 576.54,471.91 576.98,473.13 C577.42,474.36 577.76,475.37 578.34,476.81 C578.92,478.25 579.74,480.2 580.46,481.77 C581.19,483.35 582.38,485.11 582.67,486.25 C582.97,487.4 582.9,488.04 582.25,488.65 C581.6,489.27 580.51,489.59 578.76,489.93 C577.02,490.28 574.68,490.6 571.79,490.73 C568.9,490.87 564.03,490.8 561.42,490.73 C558.82,490.67 557.32,490.68 556.15,490.33 C554.99,489.99 554.6,489.47 554.45,488.65 Z" fill="#3a7cc8"/>
<path d="M557.14,488.75 C557.03,488.29 557.13,487.52 557.76,486.95 C558.39,486.38 559.86,486.06 560.92,485.33 C561.97,484.59 563.03,483.5 564.08,482.54 C565.13,481.58 566.34,480.45 567.24,479.57 C568.14,478.69 568.83,477.73 569.47,477.28 C570.11,476.82 570.56,476.71 571.09,476.82 C571.61,476.94 572.22,477.42 572.64,477.95 C573.05,478.48 573.25,479.33 573.57,480.02 C573.89,480.71 574.13,481.28 574.56,482.09 C574.98,482.9 575.58,484 576.11,484.88 C576.64,485.76 577.5,486.76 577.72,487.4 C577.94,488.05 577.89,488.41 577.41,488.75 C576.93,489.09 576.14,489.27 574.87,489.47 C573.6,489.66 571.89,489.85 569.78,489.92 C567.68,490 564.12,489.96 562.22,489.92 C560.32,489.88 559.22,489.89 558.38,489.69 C557.53,489.5 557.24,489.21 557.14,488.75 Z" fill="#3ec0ea"/>
<path d="M565.17,488.47 C566.07,486.27 572.53,468.36 573.28,466.1 C574.04,463.85 573.62,463.69 572.72,465.9 C571.81,468.1 564.99,485.87 564.23,488.13 C563.48,490.38 564.26,490.68 565.17,488.47 Z" fill="#3ec0ea"/>
<path d="M559.21,488.65 C559.13,488.29 559.2,487.69 559.66,487.25 C560.12,486.81 561.19,486.56 561.96,485.99 C562.72,485.42 563.49,484.57 564.25,483.82 C565.01,483.07 565.89,482.19 566.54,481.51 C567.2,480.83 567.7,480.08 568.16,479.73 C568.63,479.37 568.95,479.29 569.34,479.38 C569.72,479.46 570.16,479.84 570.46,480.25 C570.76,480.66 570.9,481.32 571.13,481.86 C571.37,482.4 571.55,482.84 571.86,483.47 C572.16,484.1 572.6,484.95 572.98,485.64 C573.36,486.33 573.99,487.1 574.15,487.6 C574.31,488.1 574.27,488.38 573.93,488.65 C573.58,488.92 573,489.06 572.08,489.21 C571.16,489.36 569.92,489.5 568.39,489.56 C566.86,489.62 564.28,489.59 562.9,489.56 C561.52,489.53 560.73,489.54 560.11,489.38 C559.5,489.23 559.29,489.01 559.21,488.65 Z" fill="#5cb454"/>
<path d="M564.98,488.4 C565.15,488.21 566.09,486.53 566.09,486.28 C566.09,486.02 565.14,485.67 564.97,485.86 C564.8,486.05 564.42,487.94 564.42,488.2 C564.42,488.45 564.81,488.6 564.98,488.4 Z" fill="#5cb454"/>
<ellipse cx="564.7" cy="488.3" rx="5" ry="2.2" fill="#e8e23a"/>
<ellipse cx="564.7" cy="488.3" rx="4" ry="1.7" fill="#f0901e"/>
<ellipse cx="564.7" cy="488.3" rx="3.3" ry="1.3" fill="#e41e26"/>
</g></g>
<filter id="bl8" x="-30%" y="-30%" width="160%" height="160%"><feGaussianBlur stdDeviation="0.75"/></filter>
<g>
<path d="M551.7,581.2 C551.07,579.45 551.65,574.98 552.6,572.6 C553.55,570.22 555.5,568.63 557.4,566.9 C559.3,565.17 561.95,563.4 564,562.2 C566.05,561 568.12,559.7 569.7,559.7 C571.28,559.7 572.55,561 573.5,562.2 C574.45,563.4 574.6,565.17 575.4,566.9 C576.2,568.63 577.03,570.85 578.3,572.6 C579.57,574.35 582.38,575.97 583,577.4 C583.62,578.83 583.58,580.25 582,581.2 C580.42,582.15 577.77,582.78 573.5,583.1 C569.23,583.42 560.03,583.42 556.4,583.1 C552.77,582.78 552.33,582.95 551.7,581.2 Z" fill="#2d56a6"/>
<g filter="url(#bl8)">
<path d="M553.11,580.31 C552.57,578.91 553.06,575.34 553.87,573.43 C554.68,571.53 556.34,570.26 557.95,568.87 C559.57,567.49 561.82,566.07 563.56,565.11 C565.3,564.15 567.06,563.11 568.41,563.11 C569.75,563.11 570.83,564.15 571.64,565.11 C572.44,566.07 572.57,567.49 573.25,568.87 C573.93,570.26 574.64,572.03 575.72,573.43 C576.79,574.83 579.19,576.13 579.71,577.27 C580.24,578.42 580.21,579.55 578.86,580.31 C577.52,581.07 575.26,581.58 571.64,581.83 C568.01,582.09 560.19,582.09 557.1,581.83 C554.01,581.58 553.65,581.71 553.11,580.31 Z" fill="#3a7cc8"/>
<path d="M554.93,579.61 C554.54,578.82 554.9,576.81 555.49,575.74 C556.08,574.66 557.29,573.95 558.46,573.17 C559.64,572.39 561.29,571.59 562.56,571.05 C563.83,570.51 565.11,569.93 566.09,569.93 C567.07,569.93 567.86,570.51 568.45,571.05 C569.04,571.59 569.13,572.39 569.62,573.17 C570.12,573.95 570.64,574.95 571.42,575.74 C572.21,576.52 573.95,577.25 574.34,577.89 C574.72,578.54 574.7,579.18 573.72,579.61 C572.73,580.03 571.09,580.32 568.45,580.46 C565.8,580.6 560.1,580.6 557.84,580.46 C555.59,580.32 555.32,580.39 554.93,579.61 Z" fill="#3ec0ea"/>
<path d="M560.63,578.55 C561.58,577.06 568.45,564.72 569.26,563.15 C570.07,561.58 569.69,561.36 568.74,562.85 C567.79,564.34 560.58,576.48 559.77,578.05 C558.96,579.62 559.68,580.04 560.63,578.55 Z" fill="#3ec0ea"/>
<path d="M556.38,579.31 C556.09,578.7 556.35,577.14 556.78,576.3 C557.21,575.47 558.09,574.92 558.94,574.31 C559.8,573.7 560.99,573.08 561.91,572.66 C562.83,572.25 563.76,571.79 564.48,571.79 C565.19,571.79 565.76,572.25 566.19,572.66 C566.61,573.08 566.68,573.7 567.04,574.31 C567.4,574.92 567.77,575.69 568.35,576.3 C568.92,576.92 570.18,577.48 570.46,577.99 C570.74,578.49 570.72,578.98 570.01,579.31 C569.3,579.65 568.11,579.87 566.19,579.98 C564.27,580.09 560.12,580.09 558.49,579.98 C556.86,579.87 556.66,579.93 556.38,579.31 Z" fill="#5cb454"/>
<path d="M560.46,578.45 C560.63,578.34 561.59,577.27 561.6,577.07 C561.61,576.87 560.73,576.36 560.56,576.47 C560.39,576.58 559.95,577.95 559.94,578.15 C559.93,578.35 560.29,578.56 560.46,578.45 Z" fill="#5cb454"/>
<ellipse cx="560.2" cy="578.3" rx="5" ry="2.2" fill="#e8e23a"/>
<ellipse cx="560.2" cy="578.3" rx="4" ry="1.7" fill="#f0901e"/>
<ellipse cx="560.2" cy="578.3" rx="3.3" ry="1.3" fill="#e41e26"/>
</g></g>
<rect x="572.2" y="439" width="15.8" height="55.5" fill="none" stroke="#231f20" stroke-width="0.75" stroke-dasharray="1.5,1.1"/>
<rect x="571.9" y="529.4" width="15.8" height="55.5" fill="none" stroke="#231f20" stroke-width="0.75" stroke-dasharray="1.5,1.1"/>
<line x1="628.1" y1="467" x2="628.1" y2="560.8" stroke="#6d6e71" stroke-width="0.6"/>
<line x1="625.3" y1="560.8" x2="628.1" y2="560.8" stroke="#6d6e71" stroke-width="0.6"/>
<text x="622.8" y="563.25" text-anchor="end">0</text>
<line x1="625.3" y1="547.4" x2="628.1" y2="547.4" stroke="#6d6e71" stroke-width="0.6"/>
<text x="622.8" y="549.85" text-anchor="end">5</text>
<line x1="625.3" y1="534" x2="628.1" y2="534" stroke="#6d6e71" stroke-width="0.6"/>
<text x="622.8" y="536.45" text-anchor="end">10</text>
<line x1="625.3" y1="520.6" x2="628.1" y2="520.6" stroke="#6d6e71" stroke-width="0.6"/>
<text x="622.8" y="523.05" text-anchor="end">15</text>
<line x1="625.3" y1="507.2" x2="628.1" y2="507.2" stroke="#6d6e71" stroke-width="0.6"/>
<text x="622.8" y="509.65" text-anchor="end">20</text>
<line x1="625.3" y1="493.8" x2="628.1" y2="493.8" stroke="#6d6e71" stroke-width="0.6"/>
<text x="622.8" y="496.25" text-anchor="end">25</text>
<line x1="625.3" y1="480.4" x2="628.1" y2="480.4" stroke="#6d6e71" stroke-width="0.6"/>
<text x="622.8" y="482.85" text-anchor="end">30</text>
<line x1="625.3" y1="467" x2="628.1" y2="467" stroke="#6d6e71" stroke-width="0.6"/>
<text x="622.8" y="469.45" text-anchor="end">35</text>
<line x1="628.1" y1="560.8" x2="660" y2="560.8" stroke="#6d6e71" stroke-width="0.6"/>
<line x1="637.8" y1="560.8" x2="637.8" y2="563.2" stroke="#6d6e71" stroke-width="0.6"/>
<line x1="652" y1="560.8" x2="652" y2="563.2" stroke="#6d6e71" stroke-width="0.6"/>
<text x="628" y="463"><tspan font-style="italic">P</tspan> = 0.008</text>
<line x1="639" y1="466" x2="652.7" y2="466" stroke="#6d6e71" stroke-width="0.8"/>
<line x1="637.8" y1="476.3" x2="637.8" y2="498" stroke="#231f20" stroke-width="0.75" stroke-dasharray="1.1,0.9"/>
<line x1="637.8" y1="518.2" x2="637.8" y2="534" stroke="#231f20" stroke-width="0.75" stroke-dasharray="1.1,0.9"/>
<rect x="633.05" y="498" width="9.5" height="20.2" fill="#1fa3dc" stroke="#231f20" stroke-width="0.6"/>
<line x1="633.05" y1="511.4" x2="642.55" y2="511.4" stroke="#231f20" stroke-width="0.6"/>
<line x1="652" y1="527" x2="652" y2="529" stroke="#231f20" stroke-width="0.75" stroke-dasharray="1.1,0.9"/>
<line x1="652" y1="542.3" x2="652" y2="543" stroke="#231f20" stroke-width="0.75" stroke-dasharray="1.1,0.9"/>
<rect x="647.6" y="529" width="8.8" height="13.3" fill="#1fa3dc" stroke="#231f20" stroke-width="0.6"/>
<line x1="647.6" y1="535.2" x2="656.4" y2="535.2" stroke="#231f20" stroke-width="0.6"/>
<circle cx="640.7" cy="477" r="1.95" fill="#231f20"/>
<circle cx="637.7" cy="479.6" r="1.95" fill="#231f20"/>
<circle cx="640.7" cy="504.6" r="1.95" fill="#231f20"/>
<circle cx="636.4" cy="507.2" r="1.95" fill="#231f20"/>
<circle cx="639.7" cy="510.2" r="1.95" fill="#231f20"/>
<circle cx="635.2" cy="512.7" r="1.95" fill="#231f20"/>
<circle cx="638.9" cy="516.4" r="1.95" fill="#231f20"/>
<circle cx="637.7" cy="524.7" r="1.95" fill="#231f20"/>
<circle cx="637.7" cy="534" r="1.95" fill="#231f20"/>
<circle cx="651.5" cy="527.5" r="1.95" fill="#231f20"/>
<circle cx="650" cy="535" r="1.95" fill="#231f20"/>
<circle cx="648.5" cy="541.5" r="1.95" fill="#231f20"/>
<circle cx="655.5" cy="541.5" r="1.95" fill="#231f20"/>
<text x="609.6" y="513.5" text-anchor="middle" transform="rotate(-90 609.6 513.5)">CD44<tspan dy="-2.5" font-size="4.7">high</tspan><tspan dy="2.5"> population (%)</tspan></text>
<text x="640.1" y="565.5" text-anchor="end" transform="rotate(-90 640.1 565.5)">Vehicle</text>
<text x="654.3" y="565.5" text-anchor="end" transform="rotate(-90 654.3 565.5)">Fento-1</text>
</svg></body></html>
